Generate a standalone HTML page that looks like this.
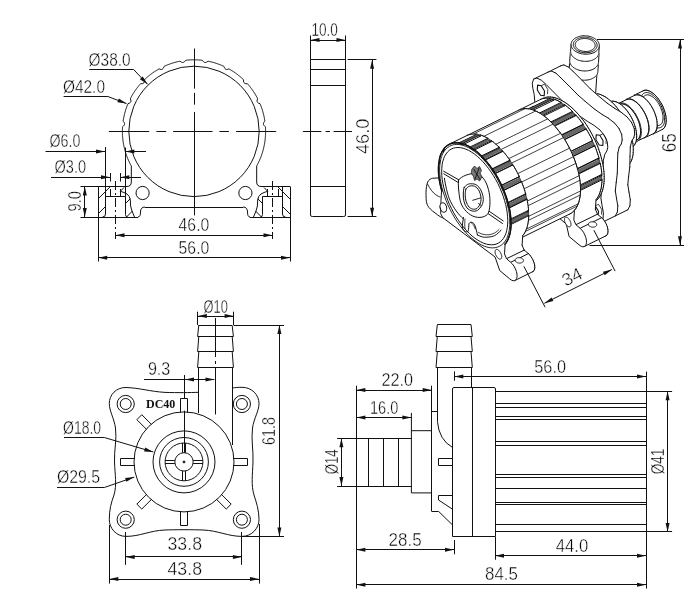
<!DOCTYPE html>
<html><head><meta charset="utf-8"><style>
html,body{margin:0;padding:0;background:#fff;}
svg{display:block;will-change:transform;}

</style></head><body>
<svg width="700" height="605" viewBox="0 0 700 605" stroke-linecap="butt">
<rect width="700" height="605" fill="#fff"/>
<circle cx="194" cy="131.4" r="65.2" stroke="#111" stroke-width="1.0" fill="none"/>
<path d="M131.32,166 L130.96,165.35 L130.61,164.69 L130.27,164.03 L129.93,163.37 L129.61,162.7 L129.28,162.03 L128.97,161.36 L128.66,160.68 L128.36,160 L128.07,159.32 L127.78,158.64 L127.5,157.95 L127.23,157.26 L126.97,156.56 L126.71,155.87 L126.46,155.17 L126.22,154.46 L125.98,153.76 L125.75,153.05 L125.53,152.34 L125.32,151.63 L125.11,150.92 L124.91,150.2 L124.72,149.48 L124.54,148.76 L124.36,148.04 L124.19,147.32 L124.03,146.59 L123.88,145.87 L123.73,145.14 L123.59,144.41 L123.46,143.68 L123.34,142.95 L123.22,142.21 L123.11,141.48 L123.01,140.74 L122.92,140 L122.83,139.27 L122.76,138.53 L122.69,137.79 L122.62,137.05 L122.57,136.31 L122.52,135.56 L122.48,134.82 L122.45,134.08 L122.43,133.34 L122.41,132.6 L122.4,131.85 L122.4,131.11 L122.41,130.37 L122.42,129.62 L122.44,128.88 L122.47,128.14 L122.51,127.4 L122.56,126.66 L123.47,125.98 L124.1,125.3 L124.47,124.6 L124.59,123.89 L124.47,123.14 L124.11,122.36 L123.42,121.53 L123.2,120.75 L123.31,120.01 L123.43,119.28 L123.56,118.55 L123.7,117.82 L123.84,117.09 L124,116.36 L124.16,115.64 L124.32,114.91 L124.5,114.19 L124.68,113.47 L124.87,112.75 L125.07,112.04 L125.27,111.32 L125.48,110.61 L125.7,109.9 L125.93,109.19 L126.16,108.49 L126.41,107.79 L126.65,107.09 L126.91,106.39 L127.17,105.69 L127.44,105 L127.72,104.31 L128.01,103.63 L129.12,103.3 L129.92,102.85 L130.49,102.31 L130.83,101.67 L130.95,100.93 L130.85,100.07 L130.45,99.04 L130.54,98.25 L130.88,97.59 L131.24,96.94 L131.6,96.29 L131.97,95.65 L132.34,95 L132.72,94.37 L133.11,93.73 L133.5,93.1 L133.9,92.48 L134.31,91.86 L134.72,91.24 L135.14,90.63 L135.57,90.02 L136,89.41 L136.44,88.81 L136.89,88.22 L137.34,87.63 L137.79,87.04 L138.26,86.46 L138.73,85.89 L139.2,85.32 L139.68,84.75 L140.17,84.19 L140.66,83.63 L141.84,83.7 L142.74,83.54 L143.44,83.2 L143.97,82.7 L144.32,82.03 L144.5,81.18 L144.43,80.06 L144.81,79.38 L145.35,78.87 L145.9,78.37 L146.45,77.87 L147.01,77.38 L147.57,76.89 L148.14,76.42 L148.71,75.94 L149.29,75.48 L149.87,75.01 L150.46,74.56 L151.05,74.11 L151.65,73.67 L152.25,73.23 L152.86,72.8 L153.47,72.38 L154.08,71.96 L154.7,71.55 L155.32,71.15 L155.95,70.75 L156.58,70.36 L157.22,69.97 L157.86,69.59 L158.5,69.22 L159.15,68.86 L160.25,69.33 L161.15,69.46 L161.92,69.36 L162.57,69.05 L163.12,68.52 L163.56,67.76 L163.85,66.65 L164.45,66.18 L165.13,65.88 L165.81,65.58 L166.5,65.29 L167.18,65.01 L167.87,64.74 L168.57,64.47 L169.26,64.21 L169.96,63.96 L170.66,63.71 L171.37,63.47 L172.07,63.24 L172.78,63.02 L173.49,62.8 L174.2,62.59 L174.92,62.39 L175.63,62.2 L176.35,62.01 L177.07,61.83 L177.8,61.66 L178.52,61.49 L179.25,61.34 L179.98,61.19 L180.84,61.78 L181.67,62.25 L182.45,62.47 L183.18,62.44 L183.87,62.17 L184.54,61.66 L185.17,60.85 L185.85,60.27 L186.58,60.19 L187.32,60.11 L188.06,60.05 L188.8,59.99 L189.55,59.94 L190.29,59.9 L191.03,59.86 L191.77,59.83 L192.51,59.82 L193.26,59.8 L194,59.8 L194.74,59.8 L195.49,59.82 L196.23,59.83 L196.97,59.86 L197.71,59.9 L198.45,59.94 L199.2,59.99 L199.94,60.05 L200.68,60.11 L201.42,60.19 L202.15,60.27 L202.83,60.85 L203.46,61.66 L204.13,62.17 L204.82,62.44 L205.55,62.47 L206.33,62.25 L207.16,61.78 L208.02,61.19 L208.75,61.34 L209.48,61.49 L210.2,61.66 L210.93,61.83 L211.65,62.01 L212.37,62.2 L213.08,62.39 L213.8,62.59 L214.51,62.8 L215.22,63.02 L215.93,63.24 L216.63,63.47 L217.34,63.71 L218.04,63.96 L218.74,64.21 L219.43,64.47 L220.13,64.74 L220.82,65.01 L221.5,65.29 L222.19,65.58 L222.87,65.88 L223.55,66.18 L224.15,66.65 L224.44,67.76 L224.88,68.52 L225.43,69.05 L226.08,69.36 L226.85,69.46 L227.75,69.33 L228.85,68.86 L229.5,69.22 L230.14,69.59 L230.78,69.97 L231.42,70.36 L232.05,70.75 L232.68,71.15 L233.3,71.55 L233.92,71.96 L234.53,72.38 L235.14,72.8 L235.75,73.23 L236.35,73.67 L236.95,74.11 L237.54,74.56 L238.13,75.01 L238.71,75.48 L239.29,75.94 L239.86,76.42 L240.43,76.89 L240.99,77.38 L241.55,77.87 L242.1,78.37 L242.65,78.87 L243.19,79.38 L243.57,80.06 L243.5,81.18 L243.68,82.03 L244.03,82.7 L244.56,83.2 L245.26,83.54 L246.16,83.7 L247.34,83.63 L247.83,84.19 L248.32,84.75 L248.8,85.32 L249.27,85.89 L249.74,86.46 L250.21,87.04 L250.66,87.63 L251.11,88.22 L251.56,88.81 L252,89.41 L252.43,90.02 L252.86,90.63 L253.28,91.24 L253.69,91.86 L254.1,92.48 L254.5,93.1 L254.89,93.73 L255.28,94.37 L255.66,95 L256.03,95.65 L256.4,96.29 L256.76,96.94 L257.12,97.59 L257.46,98.25 L257.55,99.04 L257.15,100.07 L257.05,100.93 L257.17,101.67 L257.51,102.31 L258.08,102.85 L258.88,103.3 L259.99,103.63 L260.28,104.31 L260.56,105 L260.83,105.69 L261.09,106.39 L261.35,107.09 L261.59,107.79 L261.84,108.49 L262.07,109.19 L262.3,109.9 L262.52,110.61 L262.73,111.32 L262.93,112.04 L263.13,112.75 L263.32,113.47 L263.5,114.19 L263.68,114.91 L263.84,115.64 L264,116.36 L264.16,117.09 L264.3,117.82 L264.44,118.55 L264.57,119.28 L264.69,120.01 L264.8,120.75 L264.58,121.53 L263.89,122.36 L263.53,123.14 L263.41,123.89 L263.53,124.6 L263.9,125.3 L264.53,125.98 L265.44,126.66 L265.49,127.4 L265.53,128.14 L265.56,128.88 L265.58,129.62 L265.59,130.37 L265.6,131.11 L265.6,131.85 L265.59,132.6 L265.57,133.34 L265.55,134.08 L265.52,134.82 L265.48,135.56 L265.43,136.31 L265.38,137.05 L265.31,137.79 L265.24,138.53 L265.17,139.27 L265.08,140 L264.99,140.74 L264.89,141.48 L264.78,142.21 L264.66,142.95 L264.54,143.68 L264.41,144.41 L264.27,145.14 L264.12,145.87 L263.97,146.59 L263.81,147.32 L263.64,148.04 L263.46,148.76 L263.28,149.48 L263.09,150.2 L262.89,150.92 L262.68,151.63 L262.47,152.34 L262.25,153.05 L262.02,153.76 L261.78,154.46 L261.54,155.17 L261.29,155.87 L261.03,156.56 L260.77,157.26 L260.5,157.95 L260.22,158.64 L259.93,159.32 L259.64,160 L259.34,160.68 L259.03,161.36 L258.72,162.03 L258.39,162.7 L258.07,163.37 L257.73,164.03 L257.39,164.69 L257.04,165.35 L256.68,166" stroke="#111" stroke-width="1.0" fill="none"/>
<path d="M131.32,166 L131.32,182 Q131.32,186.5 126.82,186.5" stroke="#111" stroke-width="1.0" fill="none" />
<path d="M256.68,166 L256.68,182 Q256.68,186.5 261.18,186.5" stroke="#111" stroke-width="1.0" fill="none" />
<line x1="194.5" y1="48.5" x2="194.5" y2="88.6" stroke="#111" stroke-width="1.0" />
<line x1="194.5" y1="92.9" x2="194.5" y2="104.7" stroke="#111" stroke-width="1.0" />
<line x1="194.5" y1="112" x2="194.5" y2="215.4" stroke="#111" stroke-width="1.0" />
<line x1="108.9" y1="131.5" x2="149.2" y2="131.5" stroke="#111" stroke-width="1.0" />
<line x1="156.4" y1="131.5" x2="166.2" y2="131.5" stroke="#111" stroke-width="1.0" />
<line x1="173.1" y1="131.5" x2="212.5" y2="131.5" stroke="#111" stroke-width="1.0" />
<line x1="219.4" y1="131.5" x2="228.9" y2="131.5" stroke="#111" stroke-width="1.0" />
<line x1="236.1" y1="131.5" x2="276.2" y2="131.5" stroke="#111" stroke-width="1.0" />
<circle cx="142.6" cy="193" r="6.6" stroke="#111" stroke-width="1.0" fill="none"/>
<circle cx="245.4" cy="193" r="6.6" stroke="#111" stroke-width="1.0" fill="none"/>
<line x1="145" y1="207.5" x2="243" y2="207.5" stroke="#111" stroke-width="1.0" />
<line x1="98.5" y1="186.5" x2="98.5" y2="217" stroke="#111" stroke-width="1.0" />
<line x1="98" y1="186.5" x2="127" y2="186.5" stroke="#111" stroke-width="1.0" />
<line x1="98" y1="217.5" x2="138" y2="217.5" stroke="#111" stroke-width="1.0" />
<path d="M138,217 Q140.5,217 140.5,212 Q140.5,207 145,207" stroke="#111" stroke-width="1.0" fill="none" />
<path d="M121,191.5 L124,192.5 L127,194 L129.3,196.5 L130.3,200 L130.6,206 L132,211 L134.5,217" stroke="#111" stroke-width="1.0" fill="none"/>
<line x1="105" y1="196.5" x2="125.5" y2="196.5" stroke="#111" stroke-width="1.0" />
<path d="M105.5,147 L105.5,214 Q105.5,217 102.5,217" stroke="#111" stroke-width="1.0" fill="none" />
<path d="M125.5,196.5 L125.5,214.5 Q125.5,217 127.5,217" stroke="#111" stroke-width="1.0" fill="none" />
<line x1="110.5" y1="189" x2="110.5" y2="196.5" stroke="#111" stroke-width="1.0" />
<line x1="120.5" y1="189" x2="120.5" y2="196.5" stroke="#111" stroke-width="1.0" />
<line x1="98" y1="199" x2="110" y2="187" stroke="#111" stroke-width="1.0" />
<line x1="98" y1="214" x2="105" y2="207" stroke="#111" stroke-width="1.0" />
<line x1="126" y1="203" x2="130.3" y2="198.7" stroke="#111" stroke-width="1.0" />
<line x1="126.5" y1="217" x2="132.5" y2="211" stroke="#111" stroke-width="1.0" />
<line x1="120.3" y1="191.3" x2="124" y2="187.5" stroke="#111" stroke-width="1.0" />
<line x1="115.5" y1="181" x2="115.5" y2="239" stroke="#111" stroke-width="1" stroke-dasharray="9,3,2,3"/>
<line x1="290.5" y1="186.5" x2="290.5" y2="217" stroke="#111" stroke-width="1.0" />
<line x1="290" y1="186.5" x2="261" y2="186.5" stroke="#111" stroke-width="1.0" />
<line x1="290" y1="217.5" x2="250" y2="217.5" stroke="#111" stroke-width="1.0" />
<path d="M250,217 Q247.5,217 247.5,212 Q247.5,207 243,207" stroke="#111" stroke-width="1.0" fill="none" />
<path d="M267,191.5 L264,192.5 L261,194 L258.7,196.5 L257.7,200 L257.4,206 L256,211 L253.5,217" stroke="#111" stroke-width="1.0" fill="none"/>
<line x1="283" y1="196.5" x2="262.5" y2="196.5" stroke="#111" stroke-width="1.0" />
<path d="M282.5,186.5 L282.5,214 Q282.5,217 285.5,217" stroke="#111" stroke-width="1.0" fill="none" />
<path d="M262.5,196.5 L262.5,214.5 Q262.5,217 260.5,217" stroke="#111" stroke-width="1.0" fill="none" />
<line x1="278.5" y1="189" x2="278.5" y2="196.5" stroke="#111" stroke-width="1.0" />
<line x1="267.5" y1="189" x2="267.5" y2="196.5" stroke="#111" stroke-width="1.0" />
<line x1="290" y1="199" x2="278" y2="187" stroke="#111" stroke-width="1.0" />
<line x1="290" y1="214" x2="283" y2="207" stroke="#111" stroke-width="1.0" />
<line x1="262" y1="203" x2="257.7" y2="198.7" stroke="#111" stroke-width="1.0" />
<line x1="261.5" y1="217" x2="255.5" y2="211" stroke="#111" stroke-width="1.0" />
<line x1="267.7" y1="191.3" x2="264" y2="187.5" stroke="#111" stroke-width="1.0" />
<line x1="272.5" y1="181" x2="272.5" y2="239" stroke="#111" stroke-width="1" stroke-dasharray="9,3,2,3"/>
<text x="88.6" y="66" font-family='"Liberation Sans", sans-serif' font-size="17.5" font-weight="normal" fill="#000" textLength="42.1" lengthAdjust="spacingAndGlyphs" stroke="#fff" stroke-width="0.4">Ø38.0</text>
<path d="M89.3,69.5 L133.6,69.5 L147.6,84.3" stroke="#111" stroke-width="1.0" fill="none"/>
<path d="M147.6,84.3 L142.76,76.45 L139.89,79.24 Z" fill="#111"/>
<text x="62.9" y="92.6" font-family='"Liberation Sans", sans-serif' font-size="17.5" font-weight="normal" fill="#000" textLength="42.1" lengthAdjust="spacingAndGlyphs" stroke="#fff" stroke-width="0.4">Ø42.0</text>
<path d="M63.6,96.5 L107.9,96.5 L126.5,103.6" stroke="#111" stroke-width="1.0" fill="none"/>
<path d="M126.5,103.6 L118.83,98.49 L117.38,102.22 Z" fill="#111"/>
<text x="49.5" y="147" font-family='"Liberation Sans", sans-serif' font-size="17.5" font-weight="normal" fill="#000" textLength="31" lengthAdjust="spacingAndGlyphs" stroke="#fff" stroke-width="0.4">Ø6.0</text>
<line x1="45.5" y1="151.5" x2="105" y2="151.5" stroke="#111" stroke-width="1.0" />
<path d="M105,151.6 L96,149.6 L96,153.6 Z" fill="#111"/>
<line x1="125.3" y1="151.5" x2="146" y2="151.5" stroke="#111" stroke-width="1.0" />
<path d="M125.3,151.6 L134.3,153.6 L134.3,149.6 Z" fill="#111"/>
<line x1="125.5" y1="147.5" x2="125.5" y2="196.5" stroke="#111" stroke-width="1.0" />
<text x="54.5" y="173" font-family='"Liberation Sans", sans-serif' font-size="17.5" font-weight="normal" fill="#000" textLength="31.5" lengthAdjust="spacingAndGlyphs" stroke="#fff" stroke-width="0.4">Ø3.0</text>
<line x1="51" y1="177.5" x2="110" y2="177.5" stroke="#111" stroke-width="1.0" />
<path d="M110,177.3 L101,175.3 L101,179.3 Z" fill="#111"/>
<line x1="120.3" y1="177.5" x2="141" y2="177.5" stroke="#111" stroke-width="1.0" />
<path d="M120.3,177.3 L129.3,179.3 L129.3,175.3 Z" fill="#111"/>
<line x1="110.5" y1="173" x2="110.5" y2="181.5" stroke="#111" stroke-width="1.0" />
<line x1="120.5" y1="173" x2="120.5" y2="181.5" stroke="#111" stroke-width="1.0" />
<line x1="80.5" y1="186.5" x2="98" y2="186.5" stroke="#111" stroke-width="1.0" />
<line x1="80.5" y1="217.5" x2="98" y2="217.5" stroke="#111" stroke-width="1.0" />
<line x1="84.5" y1="186.5" x2="84.5" y2="217" stroke="#111" stroke-width="1.0" />
<path d="M84.8,186.5 L82.8,195.5 L86.8,195.5 Z" fill="#111"/>
<path d="M84.8,217 L86.8,208 L82.8,208 Z" fill="#111"/>
<text transform="translate(80.5,211.5) rotate(-90)" x="0" y="0" font-family='"Liberation Sans", sans-serif' font-size="17.5" font-weight="normal" fill="#000" textLength="20.5" lengthAdjust="spacingAndGlyphs" stroke="#fff" stroke-width="0.4">9.0</text>
<line x1="115.5" y1="235.5" x2="272.5" y2="235.5" stroke="#111" stroke-width="1.0" />
<path d="M115.5,235.3 L124.5,237.3 L124.5,233.3 Z" fill="#111"/>
<path d="M272.5,235.3 L263.5,233.3 L263.5,237.3 Z" fill="#111"/>
<text x="178.6" y="231.1" font-family='"Liberation Sans", sans-serif' font-size="17.5" font-weight="normal" fill="#000" textLength="30.7" lengthAdjust="spacingAndGlyphs" stroke="#fff" stroke-width="0.4">46.0</text>
<line x1="98.5" y1="217" x2="98.5" y2="261.5" stroke="#111" stroke-width="1.0" />
<line x1="290.5" y1="217" x2="290.5" y2="261.5" stroke="#111" stroke-width="1.0" />
<line x1="98.2" y1="257.5" x2="290" y2="257.5" stroke="#111" stroke-width="1.0" />
<path d="M98.2,257.8 L107.2,259.8 L107.2,255.8 Z" fill="#111"/>
<path d="M290,257.8 L281,255.8 L281,259.8 Z" fill="#111"/>
<text x="178.6" y="253.9" font-family='"Liberation Sans", sans-serif' font-size="17.5" font-weight="normal" fill="#000" textLength="30.7" lengthAdjust="spacingAndGlyphs" stroke="#fff" stroke-width="0.4">56.0</text>
<path d="M310.5,59.5 L345.5,59.5 L345.5,215 Q345.5,216.5 343.7,216.5 L312.3,216.5 Q310.5,216.5 310.5,215 Z" stroke="#111" stroke-width="1.0" fill="none" />
<line x1="310.5" y1="69.5" x2="345.5" y2="69.5" stroke="#111" stroke-width="1.0" />
<line x1="310.5" y1="85.5" x2="345.5" y2="85.5" stroke="#111" stroke-width="1.0" />
<line x1="310.5" y1="186.5" x2="345.5" y2="186.5" stroke="#111" stroke-width="1.0" />
<line x1="310.5" y1="35.5" x2="310.5" y2="59.7" stroke="#111" stroke-width="1.0" />
<line x1="345.5" y1="35.5" x2="345.5" y2="59.7" stroke="#111" stroke-width="1.0" />
<line x1="310.5" y1="40.5" x2="345.5" y2="40.5" stroke="#111" stroke-width="1.0" />
<path d="M310.5,40 L319.5,42 L319.5,38 Z" fill="#111"/>
<path d="M345.5,40 L336.5,38 L336.5,42 Z" fill="#111"/>
<text x="311.4" y="35.7" font-family='"Liberation Sans", sans-serif' font-size="17.5" font-weight="normal" fill="#000" textLength="26.5" lengthAdjust="spacingAndGlyphs" stroke="#fff" stroke-width="0.4">10.0</text>
<line x1="302.9" y1="131.5" x2="321.4" y2="131.5" stroke="#111" stroke-width="1.0" />
<line x1="325.7" y1="131.5" x2="330" y2="131.5" stroke="#111" stroke-width="1.0" />
<line x1="333.6" y1="131.5" x2="352" y2="131.5" stroke="#111" stroke-width="1.0" />
<line x1="347.6" y1="59.5" x2="376.4" y2="59.5" stroke="#111" stroke-width="1.0" />
<line x1="347.6" y1="216.5" x2="376.4" y2="216.5" stroke="#111" stroke-width="1.0" />
<line x1="372.5" y1="59.7" x2="372.5" y2="216.8" stroke="#111" stroke-width="1.0" />
<path d="M372.1,59.7 L370.1,68.7 L374.1,68.7 Z" fill="#111"/>
<path d="M372.1,216.8 L374.1,207.8 L370.1,207.8 Z" fill="#111"/>
<text transform="translate(368.6,154) rotate(-90)" x="0" y="0" font-family='"Liberation Sans", sans-serif' font-size="17.5" font-weight="normal" fill="#000" textLength="35.4" lengthAdjust="spacingAndGlyphs" stroke="#fff" stroke-width="0.4">46.0</text>
<path d="M198.5,392.3 C190,392.6 178,392.8 165,392.4 C150,391.5 140,388 126,387.5 C116,387.3 109.3,395 109.3,403.5 C109.3,411 114,418 115.5,428 C117,440 114,450 114.5,462 C115,475 117,485 114,495 C111,503 109.3,510 109.3,519.7 C109.3,528 116,536.4 126,536.4 C140,536.4 150,530.5 165,530 C175,529.6 193,529.6 203,530 C218,530.5 228,536.4 242,536.4 C252,536.4 259,528 259,519.7 C259,510 256.5,503 254,495 C251,485 252.5,475 253,462 C253.5,450 251,440 252.5,428 C254,418 259,411 259,403.5 C259,395 252,387.3 242,387.3 C238,387.3 235,387.5 232.5,388" stroke="#111" stroke-width="1.0" fill="none" />
<circle cx="125.7" cy="404" r="8.6" stroke="#111" stroke-width="1.0" fill="none"/>
<circle cx="125.7" cy="404" r="5.5" stroke="#111" stroke-width="1.0" fill="none"/>
<circle cx="241.9" cy="404" r="8.6" stroke="#111" stroke-width="1.0" fill="none"/>
<circle cx="241.9" cy="404" r="5.5" stroke="#111" stroke-width="1.0" fill="none"/>
<circle cx="125.7" cy="519.7" r="8.6" stroke="#111" stroke-width="1.0" fill="none"/>
<circle cx="125.7" cy="519.7" r="5.5" stroke="#111" stroke-width="1.0" fill="none"/>
<circle cx="241.9" cy="519.7" r="8.6" stroke="#111" stroke-width="1.0" fill="none"/>
<circle cx="241.9" cy="519.7" r="5.5" stroke="#111" stroke-width="1.0" fill="none"/>
<circle cx="184" cy="461.9" r="50" stroke="#111" stroke-width="1.0" fill="none"/>
<circle cx="184" cy="461.9" r="31" stroke="#111" stroke-width="1.0" fill="none"/>
<circle cx="184" cy="461.9" r="24.4" stroke="#111" stroke-width="1.0" fill="none"/>
<circle cx="184" cy="461.9" r="18.9" stroke="#111" stroke-width="1.0" fill="none"/>
<circle cx="184" cy="461.9" r="9.2" stroke="#111" stroke-width="1.0" fill="none"/>
<circle cx="184" cy="461.9" r="1" stroke="#111" stroke-width="0.8" fill="#111"/>
<line x1="193.2" y1="460.5" x2="202.9" y2="460.5" stroke="#111" stroke-width="1.0" />
<line x1="193.2" y1="463.5" x2="202.9" y2="463.5" stroke="#111" stroke-width="1.0" />
<line x1="185.5" y1="471.1" x2="185.5" y2="480.8" stroke="#111" stroke-width="1.0" />
<line x1="182.5" y1="471.1" x2="182.5" y2="480.8" stroke="#111" stroke-width="1.0" />
<line x1="174.8" y1="463.5" x2="165.1" y2="463.5" stroke="#111" stroke-width="1.0" />
<line x1="174.8" y1="460.5" x2="165.1" y2="460.5" stroke="#111" stroke-width="1.0" />
<line x1="182.5" y1="452.7" x2="182.5" y2="443" stroke="#111" stroke-width="1.0" />
<line x1="185.5" y1="452.7" x2="185.5" y2="443" stroke="#111" stroke-width="1.0" />
<path d="M187.5,412.4 L187.5,398.5 L180.5,398.5 L180.5,412.4" stroke="#111" stroke-width="1.0" fill="none"/>
<path d="M151.47,424.42 L141.79,414.74 L136.84,419.69 L146.52,429.37" stroke="#111" stroke-width="1.0" fill="none"/>
<path d="M134.5,458.5 L120.5,458.5 L120.5,465.5 L134.5,465.5" stroke="#111" stroke-width="1.0" fill="none"/>
<path d="M146.52,494.43 L136.84,504.11 L141.79,509.06 L151.47,499.38" stroke="#111" stroke-width="1.0" fill="none"/>
<path d="M180.5,511.4 L180.5,525.5 L187.5,525.5 L187.5,511.4" stroke="#111" stroke-width="1.0" fill="none"/>
<path d="M216.53,499.38 L226.21,509.06 L231.16,504.11 L221.48,494.43" stroke="#111" stroke-width="1.0" fill="none"/>
<path d="M233.5,465.5 L247.5,465.5 L247.5,458.5 L233.5,458.5" stroke="#111" stroke-width="1.0" fill="none"/>
<path d="M198.5,413 L198.5,367.1 M232.5,445 L232.5,367.1" stroke="#111" stroke-width="1.0" fill="none" />
<path d="M198.8,325 L197.6,336.5 L233.4,336.5 L232.2,325.5 L198.8,325.5" stroke="#111" stroke-width="1.0" fill="none"/>
<path d="M198.8,336.4 L197.6,351.5 L233.4,351.5 L232.2,336.5 L198.8,336.5" stroke="#111" stroke-width="1.0" fill="none"/>
<path d="M198.8,351.9 L197.6,367.5 L233.4,367.5 L232.2,351.5 L198.8,351.5" stroke="#111" stroke-width="1.0" fill="none"/>
<line x1="215.5" y1="318" x2="215.5" y2="357" stroke="#111" stroke-width="1.0" />
<line x1="215.5" y1="361" x2="215.5" y2="364" stroke="#111" stroke-width="1.0" />
<line x1="215.5" y1="368" x2="215.5" y2="414.5" stroke="#111" stroke-width="1.0" />
<line x1="184.5" y1="375" x2="184.5" y2="398.6" stroke="#111" stroke-width="1.0" />
<line x1="184.5" y1="410.7" x2="184.5" y2="452.7" stroke="#111" stroke-width="1.0" />
<text x="146" y="408.1" font-family='"Liberation Serif", serif' font-size="11.8" font-weight="bold" fill="#111" textLength="29.3" lengthAdjust="spacingAndGlyphs">DC40</text>
<text x="203.6" y="312.6" font-family='"Liberation Sans", sans-serif' font-size="17.5" font-weight="normal" fill="#000" textLength="24.3" lengthAdjust="spacingAndGlyphs" stroke="#fff" stroke-width="0.4">Ø10</text>
<line x1="197.5" y1="311.7" x2="197.5" y2="325" stroke="#111" stroke-width="1.0" />
<line x1="233.5" y1="311.7" x2="233.5" y2="325" stroke="#111" stroke-width="1.0" />
<line x1="197.9" y1="316.5" x2="233.6" y2="316.5" stroke="#111" stroke-width="1.0" />
<path d="M197.9,316.1 L206.9,318.1 L206.9,314.1 Z" fill="#111"/>
<path d="M233.6,316.1 L224.6,314.1 L224.6,318.1 Z" fill="#111"/>
<line x1="233.6" y1="325.5" x2="284" y2="325.5" stroke="#111" stroke-width="1.0" />
<line x1="242" y1="536.5" x2="284" y2="536.5" stroke="#111" stroke-width="1.0" />
<line x1="279.5" y1="325" x2="279.5" y2="536.4" stroke="#111" stroke-width="1.0" />
<path d="M279.4,325 L277.4,334 L281.4,334 Z" fill="#111"/>
<path d="M279.4,536.4 L281.4,527.4 L277.4,527.4 Z" fill="#111"/>
<text transform="translate(275.4,445) rotate(-90)" x="0" y="0" font-family='"Liberation Sans", sans-serif' font-size="17.5" font-weight="normal" fill="#000" textLength="28" lengthAdjust="spacingAndGlyphs" stroke="#fff" stroke-width="0.4">61.8</text>
<text x="147.9" y="375.4" font-family='"Liberation Sans", sans-serif' font-size="17.5" font-weight="normal" fill="#000" textLength="22.4" lengthAdjust="spacingAndGlyphs" stroke="#fff" stroke-width="0.4">9.3</text>
<line x1="144" y1="379.5" x2="214.3" y2="379.5" stroke="#111" stroke-width="1.0" />
<path d="M185,379.6 L194,381.6 L194,377.6 Z" fill="#111"/>
<path d="M214.5,379.6 L205.5,377.6 L205.5,381.6 Z" fill="#111"/>
<text x="63.1" y="433.9" font-family='"Liberation Sans", sans-serif' font-size="17.5" font-weight="normal" fill="#000" textLength="38" lengthAdjust="spacingAndGlyphs" stroke="#fff" stroke-width="0.4">Ø18.0</text>
<path d="M64,437.5 L104.3,437.5 L153.3,452" stroke="#111" stroke-width="1.0" fill="none"/>
<path d="M153.3,452 L145.23,447.54 L144.1,451.38 Z" fill="#111"/>
<text x="56.9" y="483" font-family='"Liberation Sans", sans-serif' font-size="17.5" font-weight="normal" fill="#000" textLength="43.2" lengthAdjust="spacingAndGlyphs" stroke="#fff" stroke-width="0.4">Ø29.5</text>
<path d="M57.1,487.5 L104.3,487.5 L134.3,477.1" stroke="#111" stroke-width="1.0" fill="none"/>
<path d="M134.3,477.1 L125.13,478.05 L126.39,481.84 Z" fill="#111"/>
<line x1="125.5" y1="532" x2="125.5" y2="564.9" stroke="#111" stroke-width="1.0" />
<line x1="241.5" y1="532" x2="241.5" y2="564.9" stroke="#111" stroke-width="1.0" />
<line x1="125.7" y1="556.5" x2="241.9" y2="556.5" stroke="#111" stroke-width="1.0" />
<path d="M125.7,556.9 L134.7,558.9 L134.7,554.9 Z" fill="#111"/>
<path d="M241.9,556.9 L232.9,554.9 L232.9,558.9 Z" fill="#111"/>
<text x="167.5" y="549.6" font-family='"Liberation Sans", sans-serif' font-size="17.5" font-weight="normal" fill="#000" textLength="34.5" lengthAdjust="spacingAndGlyphs" stroke="#fff" stroke-width="0.4">33.8</text>
<line x1="109.5" y1="525" x2="109.5" y2="583.6" stroke="#111" stroke-width="1.0" />
<line x1="259.5" y1="524" x2="259.5" y2="583.6" stroke="#111" stroke-width="1.0" />
<line x1="109.3" y1="579.5" x2="259" y2="579.5" stroke="#111" stroke-width="1.0" />
<path d="M109.3,579 L118.3,581 L118.3,577 Z" fill="#111"/>
<path d="M259,579 L250,577 L250,581 Z" fill="#111"/>
<text x="167.5" y="575.4" font-family='"Liberation Sans", sans-serif' font-size="17.5" font-weight="normal" fill="#000" textLength="34.5" lengthAdjust="spacingAndGlyphs" stroke="#fff" stroke-width="0.4">43.8</text>
<path d="M437.3,324.7 L436,336.5 L472.3,336.5 L471,324.5 L437.3,324.5" stroke="#111" stroke-width="1.0" fill="none"/>
<path d="M437.3,336.4 L436,351.5 L472.3,351.5 L471,336.5 L437.3,336.5" stroke="#111" stroke-width="1.0" fill="none"/>
<path d="M437.3,351.9 L436,367.5 L472.3,367.5 L471,351.5 L437.3,351.5" stroke="#111" stroke-width="1.0" fill="none"/>
<line x1="437.5" y1="367.1" x2="437.5" y2="421.4" stroke="#111" stroke-width="1.0" />
<line x1="471.5" y1="367.1" x2="471.5" y2="387.1" stroke="#111" stroke-width="1.0" />
<path d="M437.4,421.4 Q439,440 452.6,447.5" stroke="#111" stroke-width="1.0" fill="none" />
<line x1="431.7" y1="411.5" x2="437.4" y2="411.5" stroke="#111" stroke-width="1.0" />
<line x1="431.5" y1="385.7" x2="431.5" y2="511.4" stroke="#111" stroke-width="1.0" />
<line x1="431.7" y1="511.5" x2="438.6" y2="511.5" stroke="#111" stroke-width="1.0" />
<path d="M452.6,458.5 L438.5,458.5 L438.5,465.5 L452.6,465.5" stroke="#111" stroke-width="1.0" fill="none"/>
<path d="M452.6,495.5 L438.5,495.5 L438.5,500 L452.6,509.3" stroke="#111" stroke-width="1.0" fill="none"/>
<line x1="438.6" y1="511.4" x2="452.6" y2="525" stroke="#111" stroke-width="1.0" />
<path d="M452.5,536.5 L452.5,389 Q452.5,387.5 454,387.5 L494,387.5 Q495.5,387.5 495.5,389 L495.5,536.5 Z" stroke="#111" stroke-width="1.0" fill="none" />
<line x1="472.5" y1="387.1" x2="472.5" y2="536.9" stroke="#111" stroke-width="1.0" />
<line x1="495" y1="391.5" x2="646" y2="391.5" stroke="#111" stroke-width="1.0" />
<line x1="495" y1="531.5" x2="646" y2="531.5" stroke="#111" stroke-width="1.0" />
<line x1="646.5" y1="371.7" x2="646.5" y2="588.6" stroke="#111" stroke-width="1.0" />
<line x1="495" y1="403.5" x2="646" y2="403.5" stroke="#111" stroke-width="1.0" />
<line x1="495" y1="407.5" x2="646" y2="407.5" stroke="#111" stroke-width="1.0" />
<line x1="495" y1="416.5" x2="646" y2="416.5" stroke="#111" stroke-width="1.0" />
<line x1="495" y1="419.5" x2="646" y2="419.5" stroke="#111" stroke-width="1.0" />
<line x1="495" y1="441.5" x2="646" y2="441.5" stroke="#111" stroke-width="1.0" />
<line x1="495" y1="445.5" x2="646" y2="445.5" stroke="#111" stroke-width="1.0" />
<line x1="495" y1="474.5" x2="646" y2="474.5" stroke="#111" stroke-width="1.0" />
<line x1="495" y1="477.5" x2="646" y2="477.5" stroke="#111" stroke-width="1.0" />
<line x1="495" y1="488.5" x2="646" y2="488.5" stroke="#111" stroke-width="1.0" />
<line x1="495" y1="502.5" x2="646" y2="502.5" stroke="#111" stroke-width="1.0" />
<line x1="495" y1="504.5" x2="646" y2="504.5" stroke="#111" stroke-width="1.0" />
<line x1="495" y1="524.5" x2="646" y2="524.5" stroke="#111" stroke-width="1.1" />
<path d="M411.4,430.7 L431.7,430.7 M411.4,492.9 L431.7,492.9 M411.4,412.9 L411.4,492.9" stroke="#111" stroke-width="1.0" fill="none" />
<line x1="356.4" y1="438.5" x2="411.4" y2="438.5" stroke="#111" stroke-width="1.0" />
<line x1="356.4" y1="486.5" x2="411.4" y2="486.5" stroke="#111" stroke-width="1.0" />
<line x1="368.5" y1="438.3" x2="368.5" y2="486" stroke="#111" stroke-width="1.0" />
<line x1="383.5" y1="438.3" x2="383.5" y2="486" stroke="#111" stroke-width="1.0" />
<line x1="398.5" y1="438.3" x2="398.5" y2="486" stroke="#111" stroke-width="1.0" />
<line x1="356.5" y1="385.7" x2="356.5" y2="588.6" stroke="#111" stroke-width="1.0" />
<line x1="337.1" y1="438.5" x2="356.4" y2="438.5" stroke="#111" stroke-width="1.0" />
<line x1="337.1" y1="486.5" x2="356.4" y2="486.5" stroke="#111" stroke-width="1.0" />
<line x1="341.5" y1="438.3" x2="341.5" y2="486" stroke="#111" stroke-width="1.0" />
<path d="M341.4,438.3 L339.4,447.3 L343.4,447.3 Z" fill="#111"/>
<path d="M341.4,486 L343.4,477 L339.4,477 Z" fill="#111"/>
<text transform="translate(337.9,474.3) rotate(-90)" x="0" y="0" font-family='"Liberation Sans", sans-serif' font-size="17.5" font-weight="normal" fill="#000" textLength="25" lengthAdjust="spacingAndGlyphs" stroke="#fff" stroke-width="0.4">Ø14</text>
<line x1="356.4" y1="390.5" x2="431.7" y2="390.5" stroke="#111" stroke-width="1.0" />
<path d="M356.4,390 L365.4,392 L365.4,388 Z" fill="#111"/>
<path d="M431.7,390 L422.7,388 L422.7,392 Z" fill="#111"/>
<text x="381.4" y="386.4" font-family='"Liberation Sans", sans-serif' font-size="17.5" font-weight="normal" fill="#000" textLength="31.5" lengthAdjust="spacingAndGlyphs" stroke="#fff" stroke-width="0.4">22.0</text>
<line x1="356.4" y1="417.5" x2="411.4" y2="417.5" stroke="#111" stroke-width="1.0" />
<path d="M356.4,417.4 L365.4,419.4 L365.4,415.4 Z" fill="#111"/>
<path d="M411.4,417.4 L402.4,415.4 L402.4,419.4 Z" fill="#111"/>
<text x="370" y="413.6" font-family='"Liberation Sans", sans-serif' font-size="17.5" font-weight="normal" fill="#000" textLength="28.3" lengthAdjust="spacingAndGlyphs" stroke="#fff" stroke-width="0.4">16.0</text>
<line x1="454.5" y1="371.4" x2="454.5" y2="380.7" stroke="#111" stroke-width="1.0" />
<line x1="454.3" y1="376.5" x2="646" y2="376.5" stroke="#111" stroke-width="1.0" />
<path d="M454.3,376.4 L463.3,378.4 L463.3,374.4 Z" fill="#111"/>
<path d="M646,376.4 L637,374.4 L637,378.4 Z" fill="#111"/>
<text x="534.3" y="372.6" font-family='"Liberation Sans", sans-serif' font-size="17.5" font-weight="normal" fill="#000" textLength="31.7" lengthAdjust="spacingAndGlyphs" stroke="#fff" stroke-width="0.4">56.0</text>
<line x1="646" y1="391.5" x2="672.1" y2="391.5" stroke="#111" stroke-width="1.0" />
<line x1="646" y1="531.5" x2="672.1" y2="531.5" stroke="#111" stroke-width="1.0" />
<line x1="667.5" y1="391.3" x2="667.5" y2="531.9" stroke="#111" stroke-width="1.0" />
<path d="M667.6,391.3 L665.6,400.3 L669.6,400.3 Z" fill="#111"/>
<path d="M667.6,531.9 L669.6,522.9 L665.6,522.9 Z" fill="#111"/>
<text transform="translate(664.3,474.3) rotate(-90)" x="0" y="0" font-family='"Liberation Sans", sans-serif' font-size="17.5" font-weight="normal" fill="#000" textLength="25.7" lengthAdjust="spacingAndGlyphs" stroke="#fff" stroke-width="0.4">Ø41</text>
<line x1="454.5" y1="540" x2="454.5" y2="554.3" stroke="#111" stroke-width="1.0" />
<line x1="356.4" y1="549.5" x2="454" y2="549.5" stroke="#111" stroke-width="1.0" />
<path d="M356.4,549.7 L365.4,551.7 L365.4,547.7 Z" fill="#111"/>
<path d="M454,549.7 L445,547.7 L445,551.7 Z" fill="#111"/>
<text x="388.6" y="545.7" font-family='"Liberation Sans", sans-serif' font-size="17.5" font-weight="normal" fill="#000" textLength="33.1" lengthAdjust="spacingAndGlyphs" stroke="#fff" stroke-width="0.4">28.5</text>
<line x1="495.5" y1="536.9" x2="495.5" y2="559.7" stroke="#111" stroke-width="1.0" />
<line x1="495" y1="555.5" x2="646" y2="555.5" stroke="#111" stroke-width="1.0" />
<path d="M495,555.8 L504,557.8 L504,553.8 Z" fill="#111"/>
<path d="M646,555.8 L637,553.8 L637,557.8 Z" fill="#111"/>
<text x="555.7" y="551.6" font-family='"Liberation Sans", sans-serif' font-size="17.5" font-weight="normal" fill="#000" textLength="32.5" lengthAdjust="spacingAndGlyphs" stroke="#fff" stroke-width="0.4">44.0</text>
<line x1="356.4" y1="584.5" x2="646" y2="584.5" stroke="#111" stroke-width="1.0" />
<path d="M356.4,584.7 L365.4,586.7 L365.4,582.7 Z" fill="#111"/>
<path d="M646,584.7 L637,582.7 L637,586.7 Z" fill="#111"/>
<text x="485" y="580.4" font-family='"Liberation Sans", sans-serif' font-size="17.5" font-weight="normal" fill="#000" textLength="32.9" lengthAdjust="spacingAndGlyphs" stroke="#fff" stroke-width="0.4">84.5</text>
<path d="M657.3,126.0 L657.4,124.5 L666.2,120.2 L666.2,121.7 Z M657.4,124.5 L657.3,123.0 L666.1,118.6 L666.2,120.2 Z M657.3,123.0 L657.1,121.4 L666.0,117.0 L666.1,118.6 Z M657.1,121.4 L656.9,119.7 L665.7,115.4 L666.0,117.0 Z M656.9,119.7 L656.5,118.0 L665.4,113.7 L665.7,115.4 Z M656.5,118.0 L656.1,116.3 L664.9,111.9 L665.4,113.7 Z M656.1,116.3 L655.5,114.5 L664.3,110.2 L664.9,111.9 Z M655.5,114.5 L654.9,112.8 L663.7,108.5 L664.3,110.2 Z M654.9,112.8 L654.1,111.1 L663.0,106.7 L663.7,108.5 Z M654.1,111.1 L653.3,109.4 L662.2,105.0 L663.0,106.7 Z M653.3,109.4 L652.4,107.7 L661.3,103.4 L662.2,105.0 Z M652.4,107.7 L651.5,106.1 L660.3,101.8 L661.3,103.4 Z M651.5,106.1 L650.5,104.5 L659.3,100.2 L660.3,101.8 Z M650.5,104.5 L649.4,103.1 L658.3,98.7 L659.3,100.2 Z M649.4,103.1 L648.3,101.7 L657.2,97.4 L658.3,98.7 Z M648.3,101.7 L647.2,100.4 L656.0,96.1 L657.2,97.4 Z M647.2,100.4 L646.0,99.2 L654.9,94.9 L656.0,96.1 Z M646.0,99.2 L644.9,98.2 L653.7,93.8 L654.9,94.9 Z M644.9,98.2 L643.7,97.2 L652.5,92.9 L653.7,93.8 Z M643.7,97.2 L642.5,96.4 L651.3,92.1 L652.5,92.9 Z M642.5,96.4 L641.3,95.7 L650.2,91.4 L651.3,92.1 Z M641.3,95.7 L640.2,95.2 L649.0,90.9 L650.2,91.4 Z M640.2,95.2 L639.1,94.8 L647.9,90.5 L649.0,90.9 Z M639.1,94.8 L638.0,94.6 L646.8,90.3 L647.9,90.5 Z M638.0,94.6 L636.9,94.5 L645.8,90.2 L646.8,90.3 Z M636.9,94.5 L635.9,94.6 L644.8,90.3 L645.8,90.2 Z M635.9,94.6 L635.0,94.8 L643.8,90.5 L644.8,90.3 Z M635.0,94.8 L634.1,95.2 L643.0,90.9 L643.8,90.5 Z M653.5,133.8 L654.3,133.3 L663.1,129.0 L662.3,129.5 Z M654.3,133.3 L655.0,132.6 L663.8,128.3 L663.1,129.0 Z M655.0,132.6 L655.6,131.8 L664.5,127.5 L663.8,128.3 Z M655.6,131.8 L656.2,130.9 L665.0,126.6 L664.5,127.5 Z M656.2,130.9 L656.6,129.8 L665.4,125.5 L665.0,126.6 Z M656.6,129.8 L656.9,128.7 L665.8,124.3 L665.4,125.5 Z M656.9,128.7 L657.2,127.4 L666.0,123.0 L665.8,124.3 Z M657.2,127.4 L657.3,126.0 L666.2,121.7 L666.0,123.0 Z " fill="#fff" stroke="#fff" stroke-width="0.6"/>
<path d="M666.2,121.7 L666.2,120.2 M666.2,120.2 L666.1,118.6 M666.1,118.6 L666.0,117.0 M666.0,117.0 L665.7,115.4 M665.7,115.4 L665.4,113.7 M665.4,113.7 L664.9,111.9 M664.9,111.9 L664.3,110.2 M664.3,110.2 L663.7,108.5 M663.7,108.5 L663.0,106.7 M663.0,106.7 L662.2,105.0 M662.2,105.0 L661.3,103.4 M661.3,103.4 L660.3,101.8 M660.3,101.8 L659.3,100.2 M659.3,100.2 L658.3,98.7 M658.3,98.7 L657.2,97.4 M657.2,97.4 L656.0,96.1 M656.0,96.1 L654.9,94.9 M654.9,94.9 L653.7,93.8 M653.7,93.8 L652.5,92.9 M652.5,92.9 L651.3,92.1 M651.3,92.1 L650.2,91.4 M650.2,91.4 L649.0,90.9 M649.0,90.9 L647.9,90.5 M647.9,90.5 L646.8,90.3 M646.8,90.3 L645.8,90.2 M645.8,90.2 L644.8,90.3 M644.8,90.3 L643.8,90.5 M643.8,90.5 L643.0,90.9 M662.3,129.5 L663.1,129.0 M663.1,129.0 L663.8,128.3 M663.8,128.3 L664.5,127.5 M664.5,127.5 L665.0,126.6 M665.0,126.6 L665.4,125.5 M665.4,125.5 L665.8,124.3 M665.8,124.3 L666.0,123.0 M666.0,123.0 L666.2,121.7 M634.1,95.2 L643.0,90.9 M653.5,133.8 L662.3,129.5" fill="none" stroke="#111" stroke-width="1.0" stroke-linecap="round"/>
<path d="M657.3,126.0 L657.4,124.5 L657.3,123.0 L657.1,121.4 L656.9,119.7 L656.5,118.0 L656.1,116.3 L655.5,114.5 L654.9,112.8 L654.1,111.1 L653.3,109.4 L652.4,107.7 L651.5,106.1 L650.5,104.5 L649.4,103.1 L648.3,101.7 L647.2,100.4 L646.0,99.2 L644.9,98.2 L643.7,97.2 L642.5,96.4 L641.3,95.7 L640.2,95.2 L639.1,94.8 L638.0,94.6 L636.9,94.5 L635.9,94.6 L635.0,94.8 L634.1,95.2 L633.3,95.7 L632.6,96.4 L632.0,97.2 L631.5,98.1 L631.0,99.2 L630.7,100.4 L630.4,101.7 L630.3,103.0 L630.2,104.5 L630.3,106.1 L630.5,107.7 L630.7,109.3 L631.1,111.0 L631.6,112.8 L632.1,114.5 L632.8,116.2 L633.5,118.0 L634.3,119.7 L635.2,121.3 L636.1,122.9 L637.1,124.5 L638.2,126.0 L639.3,127.3 L640.4,128.6 L641.6,129.8 L642.7,130.9 L643.9,131.8 L645.1,132.6 L646.3,133.3 L647.4,133.8 L648.6,134.2 L649.7,134.4 L650.7,134.5 L651.7,134.4 L652.6,134.2 L653.5,133.8 L654.3,133.3 L655.0,132.6 L655.6,131.8 L656.2,130.9 L656.6,129.8 L656.9,128.7 L657.2,127.4 Z" fill="#fff" stroke="#111" stroke-width="1.0" stroke-linejoin="round"/>
<path d="M653.5,97.6 L654.4,98.4 L655.3,99.3 L656.1,100.3 L657.0,101.4 L657.8,102.5 L658.6,103.7 L659.3,104.9 L660.0,106.2 L660.6,107.5 L661.1,108.9 L661.6,110.2 L662.1,111.5 L662.4,112.9 L662.7,114.2 L662.9,115.5 L663.0,116.7 L663.1,117.9 L663.0,119.0 L662.9,120.1 L662.7,121.1 L662.5,122.0 L662.1,122.8 L661.7,123.5 L661.2,124.1 L660.7,124.6 L660.1,125.0 L659.4,125.3 L658.7,125.5 L657.9,125.6 L657.1,125.5 L656.3,125.3 L655.4,125.0 L654.5,124.6 L653.6,124.1 L652.7,123.5 L651.8,122.8 L650.9,122.0 L650.0,121.0 L649.2,120.1 L648.3,119.0 L647.5,117.9 L646.7,116.7 L646.0,115.4 L645.3,114.2 L644.7,112.8 L644.2,111.5 L643.7,110.2 L643.2,108.8 L642.9,107.5 L642.6,106.2 L642.4,104.9 L642.3,103.7 L642.2,102.5 L642.2,101.4 L642.4,100.3 L642.5,99.3 L642.8,98.4 L643.1,97.6 L643.6,96.9 L644.0,96.3 L644.6,95.7 L645.2,95.3 L645.9,95.1 L646.6,94.9 L647.3,94.8 L648.2,94.9 L649.0,95.1 L649.9,95.3 L650.7,95.8 L651.6,96.3 L652.6,96.9 Z" fill="#fff" stroke="#111" stroke-width="1.0" stroke-linejoin="round"/>
<path d="M653.6,95.7 L654.6,96.7 L655.6,97.7 L656.6,98.8 L657.6,100.1 L658.6,101.4 L659.4,102.7 L660.3,104.2 L661.1,105.6 L661.8,107.1 L662.4,108.7 L663.0,110.2 L663.5,111.7 L663.9,113.3 L664.2,114.8 L664.4,116.2 L664.6,117.7 L664.6,119.0 L664.6,120.3 L664.5,121.6 L664.3,122.7 L664.0,123.7 L663.6,124.7 L663.1,125.5 L662.5,126.2 L661.9,126.8 L661.2,127.3 L660.4,127.6 L659.6,127.8 L658.7,127.9 L657.8,127.8 L656.9,127.6 L655.9,127.3 L654.8,126.8 L653.8,126.2 L652.8,125.5 L651.7,124.7 L650.7,123.7 L649.6,122.7 L648.6,121.5 L647.7,120.3 L646.7,119.0 L645.9,117.6 L645.0,116.2 L644.2,114.7 L643.5,113.2 L642.9,111.7 L642.3,110.2 L641.8,108.6 L641.4,107.1 L641.1,105.6 L640.8,104.1 L640.7,102.7 L640.6,101.3 L640.7,100.0 L640.8,98.8 L641.0,97.7 L641.3,96.6 L641.7,95.7 L642.2,94.9 L642.8,94.2 L643.4,93.6 L644.1,93.1 L644.8,92.8 L645.7,92.6 L646.6,92.5 L647.5,92.6 L648.4,92.8 L649.4,93.1 L650.5,93.6 L651.5,94.2 L652.5,94.9 Z" fill="none" stroke="#111" stroke-width="1.0" stroke-linejoin="round"/>
<path d="M649.0,129.9 L649.0,128.4 L657.2,124.4 L657.2,125.8 Z M649.0,128.4 L649.0,126.9 L657.1,122.9 L657.2,124.4 Z M649.0,126.9 L648.8,125.3 L657.0,121.3 L657.1,122.9 Z M648.8,125.3 L648.5,123.7 L656.7,119.6 L657.0,121.3 Z M648.5,123.7 L648.2,122.0 L656.4,118.0 L656.7,119.6 Z M648.2,122.0 L647.7,120.3 L655.9,116.3 L656.4,118.0 Z M647.7,120.3 L647.2,118.5 L655.3,114.5 L655.9,116.3 Z M647.2,118.5 L646.5,116.8 L654.7,112.8 L655.3,114.5 Z M646.5,116.8 L645.8,115.1 L654.0,111.1 L654.7,112.8 Z M645.8,115.1 L645.0,113.4 L653.2,109.4 L654.0,111.1 Z M645.0,113.4 L644.1,111.8 L652.3,107.8 L653.2,109.4 Z M644.1,111.8 L643.2,110.2 L651.4,106.2 L652.3,107.8 Z M643.2,110.2 L642.2,108.7 L650.4,104.7 L651.4,106.2 Z M642.2,108.7 L641.2,107.2 L649.4,103.2 L650.4,104.7 Z M641.2,107.2 L640.1,105.9 L648.3,101.9 L649.4,103.2 Z M640.1,105.9 L639.0,104.6 L647.2,100.6 L648.3,101.9 Z M639.0,104.6 L637.8,103.4 L646.0,99.4 L647.2,100.6 Z M637.8,103.4 L636.7,102.4 L644.9,98.4 L646.0,99.4 Z M636.7,102.4 L635.5,101.5 L643.7,97.4 L644.9,98.4 Z M635.5,101.5 L634.3,100.7 L642.5,96.6 L643.7,97.4 Z M634.3,100.7 L633.2,100.0 L641.4,96.0 L642.5,96.6 Z M633.2,100.0 L632.0,99.5 L640.2,95.5 L641.4,96.0 Z M632.0,99.5 L630.9,99.1 L639.1,95.1 L640.2,95.5 Z M630.9,99.1 L629.9,98.9 L638.0,94.9 L639.1,95.1 Z M629.9,98.9 L628.8,98.8 L637.0,94.8 L638.0,94.9 Z M628.8,98.8 L627.8,98.9 L636.0,94.9 L637.0,94.8 Z M627.8,98.9 L626.9,99.1 L635.1,95.1 L636.0,94.9 Z M626.9,99.1 L626.1,99.5 L634.3,95.5 L635.1,95.1 Z M645.2,137.6 L646.0,137.1 L654.1,133.1 L653.4,133.6 Z M646.0,137.1 L646.7,136.4 L654.8,132.4 L654.1,133.1 Z M646.7,136.4 L647.3,135.6 L655.5,131.6 L654.8,132.4 Z M647.3,135.6 L647.8,134.7 L656.0,130.7 L655.5,131.6 Z M647.8,134.7 L648.2,133.7 L656.4,129.6 L656.0,130.7 Z M648.2,133.7 L648.6,132.5 L656.8,128.5 L656.4,129.6 Z M648.6,132.5 L648.8,131.2 L657.0,127.2 L656.8,128.5 Z M648.8,131.2 L649.0,129.9 L657.2,125.8 L657.0,127.2 Z " fill="#fff" stroke="#fff" stroke-width="0.6"/>
<path d="M657.2,125.8 L657.2,124.4 M657.2,124.4 L657.1,122.9 M657.1,122.9 L657.0,121.3 M657.0,121.3 L656.7,119.6 M656.7,119.6 L656.4,118.0 M656.4,118.0 L655.9,116.3 M655.9,116.3 L655.3,114.5 M655.3,114.5 L654.7,112.8 M654.7,112.8 L654.0,111.1 M654.0,111.1 L653.2,109.4 M653.2,109.4 L652.3,107.8 M652.3,107.8 L651.4,106.2 M651.4,106.2 L650.4,104.7 M650.4,104.7 L649.4,103.2 M649.4,103.2 L648.3,101.9 M648.3,101.9 L647.2,100.6 M647.2,100.6 L646.0,99.4 M646.0,99.4 L644.9,98.4 M644.9,98.4 L643.7,97.4 M643.7,97.4 L642.5,96.6 M642.5,96.6 L641.4,96.0 M641.4,96.0 L640.2,95.5 M640.2,95.5 L639.1,95.1 M639.1,95.1 L638.0,94.9 M638.0,94.9 L637.0,94.8 M637.0,94.8 L636.0,94.9 M636.0,94.9 L635.1,95.1 M635.1,95.1 L634.3,95.5 M653.4,133.6 L654.1,133.1 M654.1,133.1 L654.8,132.4 M654.8,132.4 L655.5,131.6 M655.5,131.6 L656.0,130.7 M656.0,130.7 L656.4,129.6 M656.4,129.6 L656.8,128.5 M656.8,128.5 L657.0,127.2 M657.0,127.2 L657.2,125.8 M626.1,99.5 L634.3,95.5 M645.2,137.6 L653.4,133.6" fill="none" stroke="#111" stroke-width="1.0" stroke-linecap="round"/>
<path d="M649.0,129.9 L649.0,128.4 L649.0,126.9 L648.8,125.3 L648.5,123.7 L648.2,122.0 L647.7,120.3 L647.2,118.5 L646.5,116.8 L645.8,115.1 L645.0,113.4 L644.1,111.8 L643.2,110.2 L642.2,108.7 L641.2,107.2 L640.1,105.9 L639.0,104.6 L637.8,103.4 L636.7,102.4 L635.5,101.5 L634.3,100.7 L633.2,100.0 L632.0,99.5 L630.9,99.1 L629.9,98.9 L628.8,98.8 L627.8,98.9 L626.9,99.1 L626.1,99.5 L625.3,100.0 L624.6,100.6 L624.0,101.4 L623.4,102.4 L623.0,103.4 L622.7,104.6 L622.4,105.8 L622.3,107.2 L622.2,108.7 L622.3,110.2 L622.5,111.8 L622.7,113.4 L623.1,115.1 L623.5,116.8 L624.1,118.5 L624.7,120.2 L625.4,121.9 L626.2,123.6 L627.1,125.3 L628.0,126.9 L629.0,128.4 L630.1,129.8 L631.2,131.2 L632.3,132.5 L633.4,133.6 L634.6,134.7 L635.7,135.6 L636.9,136.4 L638.1,137.1 L639.2,137.6 L640.3,138.0 L641.4,138.2 L642.4,138.3 L643.4,138.2 L644.3,138.0 L645.2,137.6 L646.0,137.1 L646.7,136.4 L647.3,135.6 L647.8,134.7 L648.2,133.7 L648.6,132.5 L648.8,131.2 Z" fill="#fff" stroke="#111" stroke-width="1.0" stroke-linejoin="round"/>
<path d="M641.3,133.4 L641.3,132.0 L648.8,128.3 L648.8,129.7 Z M641.3,132.0 L641.2,130.5 L648.8,126.8 L648.8,128.3 Z M641.2,130.5 L641.1,128.9 L648.6,125.2 L648.8,126.8 Z M641.1,128.9 L640.8,127.3 L648.4,123.6 L648.6,125.2 Z M640.8,127.3 L640.5,125.6 L648.0,121.9 L648.4,123.6 Z M640.5,125.6 L640.0,123.9 L647.6,120.2 L648.0,121.9 Z M640.0,123.9 L639.5,122.2 L647.0,118.5 L647.6,120.2 Z M639.5,122.2 L638.8,120.5 L646.4,116.9 L647.0,118.5 Z M638.8,120.5 L638.1,118.9 L645.7,115.2 L646.4,116.9 Z M638.1,118.9 L637.3,117.2 L644.9,113.5 L645.7,115.2 Z M637.3,117.2 L636.5,115.6 L644.0,111.9 L644.9,113.5 Z M636.5,115.6 L635.6,114.0 L643.1,110.3 L644.0,111.9 Z M635.6,114.0 L634.6,112.5 L642.1,108.8 L643.1,110.3 Z M634.6,112.5 L633.6,111.1 L641.1,107.4 L642.1,108.8 Z M633.6,111.1 L632.5,109.7 L640.0,106.0 L641.1,107.4 Z M632.5,109.7 L631.4,108.5 L638.9,104.8 L640.0,106.0 Z M631.4,108.5 L630.3,107.3 L637.8,103.6 L638.9,104.8 Z M630.3,107.3 L629.1,106.3 L636.7,102.6 L637.8,103.6 Z M629.1,106.3 L628.0,105.4 L635.5,101.7 L636.7,102.6 Z M628.0,105.4 L626.8,104.6 L634.4,100.9 L635.5,101.7 Z M626.8,104.6 L625.7,103.9 L633.2,100.2 L634.4,100.9 Z M625.7,103.9 L624.5,103.4 L632.1,99.7 L633.2,100.2 Z M624.5,103.4 L623.4,103.1 L631.0,99.4 L632.1,99.7 Z M623.4,103.1 L622.4,102.8 L629.9,99.1 L631.0,99.4 Z M622.4,102.8 L621.4,102.8 L628.9,99.1 L629.9,99.1 Z M621.4,102.8 L620.4,102.8 L627.9,99.1 L628.9,99.1 Z M620.4,102.8 L619.5,103.1 L627.0,99.4 L627.9,99.1 Z M619.5,103.1 L618.6,103.4 L626.2,99.7 L627.0,99.4 Z M637.5,141.0 L638.3,140.5 L645.8,136.8 L645.1,137.3 Z M638.3,140.5 L639.0,139.9 L646.5,136.2 L645.8,136.8 Z M639.0,139.9 L639.6,139.1 L647.1,135.4 L646.5,136.2 Z M639.6,139.1 L640.1,138.2 L647.7,134.5 L647.1,135.4 Z M640.1,138.2 L640.5,137.1 L648.1,133.5 L647.7,134.5 Z M640.5,137.1 L640.9,136.0 L648.4,132.3 L648.1,133.5 Z M640.9,136.0 L641.1,134.8 L648.7,131.1 L648.4,132.3 Z M641.1,134.8 L641.3,133.4 L648.8,129.7 L648.7,131.1 Z " fill="#fff" stroke="#fff" stroke-width="0.6"/>
<path d="M648.8,129.7 L648.8,128.3 M648.8,128.3 L648.8,126.8 M648.8,126.8 L648.6,125.2 M648.6,125.2 L648.4,123.6 M648.4,123.6 L648.0,121.9 M648.0,121.9 L647.6,120.2 M647.6,120.2 L647.0,118.5 M647.0,118.5 L646.4,116.9 M646.4,116.9 L645.7,115.2 M645.7,115.2 L644.9,113.5 M644.9,113.5 L644.0,111.9 M644.0,111.9 L643.1,110.3 M643.1,110.3 L642.1,108.8 M642.1,108.8 L641.1,107.4 M641.1,107.4 L640.0,106.0 M640.0,106.0 L638.9,104.8 M638.9,104.8 L637.8,103.6 M637.8,103.6 L636.7,102.6 M636.7,102.6 L635.5,101.7 M635.5,101.7 L634.4,100.9 M634.4,100.9 L633.2,100.2 M633.2,100.2 L632.1,99.7 M632.1,99.7 L631.0,99.4 M631.0,99.4 L629.9,99.1 M629.9,99.1 L628.9,99.1 M628.9,99.1 L627.9,99.1 M627.9,99.1 L627.0,99.4 M627.0,99.4 L626.2,99.7 M645.1,137.3 L645.8,136.8 M645.8,136.8 L646.5,136.2 M646.5,136.2 L647.1,135.4 M647.1,135.4 L647.7,134.5 M647.7,134.5 L648.1,133.5 M648.1,133.5 L648.4,132.3 M648.4,132.3 L648.7,131.1 M648.7,131.1 L648.8,129.7 M618.6,103.4 L626.2,99.7 M637.5,141.0 L645.1,137.3" fill="none" stroke="#111" stroke-width="1.0" stroke-linecap="round"/>
<path d="M641.3,133.4 L641.3,132.0 L641.2,130.5 L641.1,128.9 L640.8,127.3 L640.5,125.6 L640.0,123.9 L639.5,122.2 L638.8,120.5 L638.1,118.9 L637.3,117.2 L636.5,115.6 L635.6,114.0 L634.6,112.5 L633.6,111.1 L632.5,109.7 L631.4,108.5 L630.3,107.3 L629.1,106.3 L628.0,105.4 L626.8,104.6 L625.7,103.9 L624.5,103.4 L623.4,103.1 L622.4,102.8 L621.4,102.8 L620.4,102.8 L619.5,103.1 L618.6,103.4 L617.9,103.9 L617.2,104.6 L616.6,105.4 L616.0,106.3 L615.6,107.3 L615.3,108.4 L615.0,109.7 L614.9,111.0 L614.9,112.5 L614.9,114.0 L615.1,115.6 L615.3,117.2 L615.7,118.8 L616.1,120.5 L616.7,122.2 L617.3,123.9 L618.0,125.6 L618.8,127.2 L619.7,128.9 L620.6,130.4 L621.6,131.9 L622.6,133.4 L623.7,134.7 L624.8,136.0 L625.9,137.1 L627.0,138.2 L628.2,139.1 L629.3,139.9 L630.5,140.5 L631.6,141.0 L632.7,141.4 L633.8,141.6 L634.8,141.7 L635.8,141.6 L636.7,141.4 L637.5,141.0 L638.3,140.5 L639.0,139.9 L639.6,139.1 L640.1,138.2 L640.5,137.1 L640.9,136.0 L641.1,134.8 Z" fill="#fff" stroke="#111" stroke-width="1.0" stroke-linejoin="round"/>
<path d="M633.2,136.4 L633.3,135.1 L640.6,131.5 L640.6,132.8 Z M633.3,135.1 L633.2,133.6 L640.5,130.0 L640.6,131.5 Z M633.2,133.6 L633.1,132.1 L640.4,128.5 L640.5,130.0 Z M633.1,132.1 L632.8,130.6 L640.1,127.0 L640.4,128.5 Z M632.8,130.6 L632.5,129.0 L639.8,125.4 L640.1,127.0 Z M632.5,129.0 L632.1,127.4 L639.4,123.8 L639.8,125.4 Z M632.1,127.4 L631.5,125.8 L638.9,122.2 L639.4,123.8 Z M631.5,125.8 L630.9,124.2 L638.3,120.6 L638.9,122.2 Z M630.9,124.2 L630.3,122.6 L637.6,119.0 L638.3,120.6 Z M630.3,122.6 L629.5,121.1 L636.9,117.5 L637.6,119.0 Z M629.5,121.1 L628.7,119.5 L636.0,115.9 L636.9,117.5 Z M628.7,119.5 L627.8,118.0 L635.2,114.4 L636.0,115.9 Z M627.8,118.0 L626.9,116.6 L634.2,113.0 L635.2,114.4 Z M626.9,116.6 L625.9,115.3 L633.3,111.7 L634.2,113.0 Z M625.9,115.3 L624.9,114.0 L632.3,110.4 L633.3,111.7 Z M624.9,114.0 L623.9,112.8 L631.2,109.2 L632.3,110.4 Z M623.9,112.8 L622.8,111.7 L630.1,108.1 L631.2,109.2 Z M622.8,111.7 L621.7,110.7 L629.1,107.1 L630.1,108.1 Z M621.7,110.7 L620.6,109.9 L628.0,106.3 L629.1,107.1 Z M620.6,109.9 L619.5,109.1 L626.9,105.5 L628.0,106.3 Z M619.5,109.1 L618.5,108.5 L625.8,104.9 L626.9,105.5 Z M618.5,108.5 L617.4,108.0 L624.7,104.4 L625.8,104.9 Z M617.4,108.0 L616.4,107.7 L623.7,104.1 L624.7,104.4 Z M616.4,107.7 L615.4,107.4 L622.7,103.9 L623.7,104.1 Z M615.4,107.4 L614.4,107.4 L621.7,103.8 L622.7,103.9 Z M614.4,107.4 L613.5,107.4 L620.8,103.9 L621.7,103.8 Z M613.5,107.4 L612.6,107.7 L619.9,104.1 L620.8,103.9 Z M612.6,107.7 L611.8,108.0 L619.1,104.4 L619.9,104.1 Z M629.7,143.6 L630.4,143.2 L637.7,139.6 L637.0,140.0 Z M630.4,143.2 L631.1,142.5 L638.4,138.9 L637.7,139.6 Z M631.1,142.5 L631.7,141.8 L639.0,138.2 L638.4,138.9 Z M631.7,141.8 L632.1,140.9 L639.5,137.3 L639.0,138.2 Z M632.1,140.9 L632.6,140.0 L639.9,136.4 L639.5,137.3 Z M632.6,140.0 L632.9,138.9 L640.2,135.3 L639.9,136.4 Z M632.9,138.9 L633.1,137.7 L640.4,134.1 L640.2,135.3 Z M633.1,137.7 L633.2,136.4 L640.6,132.8 L640.4,134.1 Z " fill="#fff" stroke="#fff" stroke-width="0.6"/>
<path d="M640.6,132.8 L640.6,131.5 M640.6,131.5 L640.5,130.0 M640.5,130.0 L640.4,128.5 M640.4,128.5 L640.1,127.0 M640.1,127.0 L639.8,125.4 M639.8,125.4 L639.4,123.8 M639.4,123.8 L638.9,122.2 M638.9,122.2 L638.3,120.6 M638.3,120.6 L637.6,119.0 M637.6,119.0 L636.9,117.5 M636.9,117.5 L636.0,115.9 M636.0,115.9 L635.2,114.4 M635.2,114.4 L634.2,113.0 M634.2,113.0 L633.3,111.7 M633.3,111.7 L632.3,110.4 M632.3,110.4 L631.2,109.2 M631.2,109.2 L630.1,108.1 M630.1,108.1 L629.1,107.1 M629.1,107.1 L628.0,106.3 M628.0,106.3 L626.9,105.5 M626.9,105.5 L625.8,104.9 M625.8,104.9 L624.7,104.4 M624.7,104.4 L623.7,104.1 M623.7,104.1 L622.7,103.9 M622.7,103.9 L621.7,103.8 M621.7,103.8 L620.8,103.9 M620.8,103.9 L619.9,104.1 M619.9,104.1 L619.1,104.4 M637.0,140.0 L637.7,139.6 M637.7,139.6 L638.4,138.9 M638.4,138.9 L639.0,138.2 M639.0,138.2 L639.5,137.3 M639.5,137.3 L639.9,136.4 M639.9,136.4 L640.2,135.3 M640.2,135.3 L640.4,134.1 M640.4,134.1 L640.6,132.8 M611.8,108.0 L619.1,104.4 M629.7,143.6 L637.0,140.0" fill="none" stroke="#111" stroke-width="1.0" stroke-linecap="round"/>
<path d="M633.2,136.4 L633.3,135.1 L633.2,133.6 L633.1,132.1 L632.8,130.6 L632.5,129.0 L632.1,127.4 L631.5,125.8 L630.9,124.2 L630.3,122.6 L629.5,121.1 L628.7,119.5 L627.8,118.0 L626.9,116.6 L625.9,115.3 L624.9,114.0 L623.9,112.8 L622.8,111.7 L621.7,110.7 L620.6,109.9 L619.5,109.1 L618.5,108.5 L617.4,108.0 L616.4,107.7 L615.4,107.4 L614.4,107.4 L613.5,107.4 L612.6,107.7 L611.8,108.0 L611.1,108.5 L610.4,109.1 L609.9,109.8 L609.4,110.7 L608.9,111.7 L608.6,112.8 L608.4,113.9 L608.3,115.2 L608.2,116.6 L608.3,118.0 L608.4,119.5 L608.7,121.0 L609.0,122.6 L609.4,124.2 L610.0,125.8 L610.6,127.4 L611.2,129.0 L612.0,130.6 L612.8,132.1 L613.7,133.6 L614.6,135.0 L615.6,136.4 L616.6,137.7 L617.6,138.8 L618.7,139.9 L619.8,140.9 L620.9,141.8 L622.0,142.5 L623.0,143.1 L624.1,143.6 L625.1,144.0 L626.1,144.2 L627.1,144.3 L628.0,144.2 L628.9,144.0 L629.7,143.6 L630.4,143.2 L631.1,142.5 L631.7,141.8 L632.1,140.9 L632.6,140.0 L632.9,138.9 L633.1,137.7 Z" fill="#fff" stroke="#111" stroke-width="1.0" stroke-linejoin="round"/>
<path d="M623.7,144.3 L623.7,142.6 L636.7,136.2 L636.6,137.9 Z M623.7,142.6 L623.7,140.8 L636.6,134.4 L636.7,136.2 Z M623.7,140.8 L623.5,138.9 L636.4,132.5 L636.6,134.4 Z M623.5,138.9 L623.2,136.9 L636.1,130.6 L636.4,132.5 Z M623.2,136.9 L622.7,135.0 L635.7,128.6 L636.1,130.6 Z M622.7,135.0 L622.2,132.9 L635.1,126.6 L635.7,128.6 Z M622.2,132.9 L621.5,130.9 L634.5,124.6 L635.1,126.6 Z M621.5,130.9 L620.8,128.9 L633.7,122.5 L634.5,124.6 Z M620.8,128.9 L619.9,126.9 L632.9,120.5 L633.7,122.5 Z M619.9,126.9 L619.0,124.9 L631.9,118.5 L632.9,120.5 Z M619.0,124.9 L618.0,122.9 L630.9,116.6 L631.9,118.5 Z M618.0,122.9 L616.9,121.1 L629.8,114.7 L630.9,116.6 Z M616.9,121.1 L615.7,119.3 L628.6,112.9 L629.8,114.7 Z M615.7,119.3 L614.5,117.5 L627.4,111.2 L628.6,112.9 Z M614.5,117.5 L613.2,115.9 L626.1,109.6 L627.4,111.2 Z M613.2,115.9 L611.9,114.4 L624.8,108.1 L626.1,109.6 Z M611.9,114.4 L610.5,113.1 L623.4,106.7 L624.8,108.1 Z M610.5,113.1 L609.1,111.8 L622.1,105.5 L623.4,106.7 Z M609.1,111.8 L607.8,110.7 L620.7,104.4 L622.1,105.5 Z M607.8,110.7 L606.4,109.8 L619.3,103.4 L620.7,104.4 Z M606.4,109.8 L605.0,109.0 L617.9,102.7 L619.3,103.4 Z M605.0,109.0 L603.7,108.4 L616.6,102.0 L617.9,102.7 Z M603.7,108.4 L602.4,107.9 L615.3,101.6 L616.6,102.0 Z M602.4,107.9 L601.1,107.7 L614.0,101.3 L615.3,101.6 Z M601.1,107.7 L599.9,107.6 L612.8,101.2 L614.0,101.3 Z M599.9,107.6 L598.7,107.7 L611.6,101.3 L612.8,101.2 Z M598.7,107.7 L597.6,107.9 L610.6,101.6 L611.6,101.3 Z M597.6,107.9 L596.6,108.4 L609.5,102.0 L610.6,101.6 Z M619.2,153.4 L620.1,152.8 L633.0,146.5 L632.1,147.1 Z M620.1,152.8 L620.9,152.0 L633.9,145.7 L633.0,146.5 Z M620.9,152.0 L621.7,151.1 L634.6,144.8 L633.9,145.7 Z M621.7,151.1 L622.3,150.0 L635.2,143.7 L634.6,144.8 Z M622.3,150.0 L622.8,148.8 L635.8,142.4 L635.2,143.7 Z M622.8,148.8 L623.2,147.4 L636.2,141.1 L635.8,142.4 Z M623.2,147.4 L623.5,145.9 L636.4,139.6 L636.2,141.1 Z M623.5,145.9 L623.7,144.3 L636.6,137.9 L636.4,139.6 Z " fill="#fff" stroke="#fff" stroke-width="0.6"/>
<path d="M636.6,137.9 L636.7,136.2 M636.7,136.2 L636.6,134.4 M636.6,134.4 L636.4,132.5 M636.4,132.5 L636.1,130.6 M636.1,130.6 L635.7,128.6 M635.7,128.6 L635.1,126.6 M635.1,126.6 L634.5,124.6 M634.5,124.6 L633.7,122.5 M633.7,122.5 L632.9,120.5 M632.9,120.5 L631.9,118.5 M631.9,118.5 L630.9,116.6 M630.9,116.6 L629.8,114.7 M629.8,114.7 L628.6,112.9 M628.6,112.9 L627.4,111.2 M627.4,111.2 L626.1,109.6 M626.1,109.6 L624.8,108.1 M624.8,108.1 L623.4,106.7 M623.4,106.7 L622.1,105.5 M622.1,105.5 L620.7,104.4 M620.7,104.4 L619.3,103.4 M619.3,103.4 L617.9,102.7 M617.9,102.7 L616.6,102.0 M616.6,102.0 L615.3,101.6 M615.3,101.6 L614.0,101.3 M614.0,101.3 L612.8,101.2 M612.8,101.2 L611.6,101.3 M611.6,101.3 L610.6,101.6 M610.6,101.6 L609.5,102.0 M632.1,147.1 L633.0,146.5 M633.0,146.5 L633.9,145.7 M633.9,145.7 L634.6,144.8 M634.6,144.8 L635.2,143.7 M635.2,143.7 L635.8,142.4 M635.8,142.4 L636.2,141.1 M636.2,141.1 L636.4,139.6 M636.4,139.6 L636.6,137.9 M596.6,108.4 L609.5,102.0 M619.2,153.4 L632.1,147.1" fill="none" stroke="#111" stroke-width="1.0" stroke-linecap="round"/>
<path d="M623.7,144.3 L623.7,142.6 L623.7,140.8 L623.5,138.9 L623.2,136.9 L622.7,135.0 L622.2,132.9 L621.5,130.9 L620.8,128.9 L619.9,126.9 L619.0,124.9 L618.0,122.9 L616.9,121.1 L615.7,119.3 L614.5,117.5 L613.2,115.9 L611.9,114.4 L610.5,113.1 L609.1,111.8 L607.8,110.7 L606.4,109.8 L605.0,109.0 L603.7,108.4 L602.4,107.9 L601.1,107.7 L599.9,107.6 L598.7,107.7 L597.6,107.9 L596.6,108.4 L595.7,109.0 L594.9,109.8 L594.1,110.7 L593.5,111.8 L593.0,113.0 L592.6,114.4 L592.3,115.9 L592.1,117.5 L592.1,119.2 L592.1,121.0 L592.3,122.9 L592.7,124.8 L593.1,126.8 L593.6,128.8 L594.3,130.9 L595.0,132.9 L595.9,134.9 L596.8,136.9 L597.8,138.8 L598.9,140.7 L600.1,142.5 L601.3,144.2 L602.6,145.9 L603.9,147.4 L605.3,148.7 L606.7,150.0 L608.0,151.1 L609.4,152.0 L610.8,152.8 L612.1,153.4 L613.5,153.8 L614.7,154.1 L615.9,154.2 L617.1,154.1 L618.2,153.9 L619.2,153.4 L620.1,152.8 L620.9,152.0 L621.7,151.1 L622.3,150.0 L622.8,148.8 L623.2,147.4 L623.5,145.9 Z" fill="#fff" stroke="#111" stroke-width="1.0" stroke-linejoin="round"/>
<path d="M620.1,158.8 L620.2,156.1 L633.3,149.6 L633.2,152.4 Z M620.2,156.1 L620.0,153.2 L633.2,146.7 L633.3,149.6 Z M620.0,153.2 L619.7,150.2 L632.9,143.7 L633.2,146.7 Z M619.7,150.2 L619.2,147.0 L632.4,140.6 L632.9,143.7 Z M619.2,147.0 L618.5,143.9 L631.7,137.4 L632.4,140.6 Z M618.5,143.9 L617.7,140.6 L630.8,134.2 L631.7,137.4 Z M617.7,140.6 L616.6,137.4 L629.8,130.9 L630.8,134.2 Z M616.6,137.4 L615.4,134.1 L628.6,127.7 L629.8,130.9 Z M615.4,134.1 L614.1,130.9 L627.2,124.4 L628.6,127.7 Z M614.1,130.9 L612.6,127.7 L625.7,121.2 L627.2,124.4 Z M612.6,127.7 L610.9,124.6 L624.1,118.1 L625.7,121.2 Z M610.9,124.6 L609.1,121.6 L622.3,115.1 L624.1,118.1 Z M609.1,121.6 L607.3,118.7 L620.4,112.2 L622.3,115.1 Z M607.3,118.7 L605.3,115.9 L618.4,109.5 L620.4,112.2 Z M605.3,115.9 L603.2,113.3 L616.4,106.9 L618.4,109.5 Z M603.2,113.3 L601.1,110.9 L614.3,104.5 L616.4,106.9 Z M601.1,110.9 L598.9,108.7 L612.1,102.3 L614.3,104.5 Z M598.9,108.7 L596.7,106.7 L609.9,100.3 L612.1,102.3 Z M596.7,106.7 L594.5,105.0 L607.7,98.5 L609.9,100.3 Z M594.5,105.0 L592.3,103.5 L605.5,97.0 L607.7,98.5 Z M592.3,103.5 L590.1,102.2 L603.3,95.8 L605.5,97.0 Z M590.1,102.2 L588.0,101.2 L601.1,94.8 L603.3,95.8 Z M588.0,101.2 L585.9,100.5 L599.0,94.1 L601.1,94.8 Z M585.9,100.5 L583.8,100.1 L597.0,93.6 L599.0,94.1 Z M583.8,100.1 L581.9,99.9 L595.0,93.5 L597.0,93.6 Z M581.9,99.9 L580.0,100.1 L593.2,93.6 L595.0,93.5 Z M580.0,100.1 L578.3,100.5 L591.4,94.1 L593.2,93.6 Z M578.3,100.5 L576.6,101.2 L589.8,94.8 L591.4,94.1 Z M612.9,173.5 L614.4,172.5 L627.5,166.0 L626.0,167.0 Z M614.4,172.5 L615.7,171.2 L628.8,164.8 L627.5,166.0 Z M615.7,171.2 L616.9,169.7 L630.0,163.3 L628.8,164.8 Z M616.9,169.7 L617.9,168.0 L631.0,161.5 L630.0,163.3 Z M617.9,168.0 L618.7,166.0 L631.8,159.6 L631.0,161.5 Z M618.7,166.0 L619.3,163.8 L632.5,157.4 L631.8,159.6 Z M619.3,163.8 L619.8,161.4 L633.0,155.0 L632.5,157.4 Z M619.8,161.4 L620.1,158.8 L633.2,152.4 L633.0,155.0 Z " fill="#fff" stroke="#fff" stroke-width="0.6"/>
<path d="M633.2,152.4 L633.3,149.6 M633.3,149.6 L633.2,146.7 M633.2,146.7 L632.9,143.7 M632.9,143.7 L632.4,140.6 M632.4,140.6 L631.7,137.4 M631.7,137.4 L630.8,134.2 M630.8,134.2 L629.8,130.9 M629.8,130.9 L628.6,127.7 M628.6,127.7 L627.2,124.4 M627.2,124.4 L625.7,121.2 M625.7,121.2 L624.1,118.1 M624.1,118.1 L622.3,115.1 M622.3,115.1 L620.4,112.2 M620.4,112.2 L618.4,109.5 M618.4,109.5 L616.4,106.9 M616.4,106.9 L614.3,104.5 M614.3,104.5 L612.1,102.3 M612.1,102.3 L609.9,100.3 M609.9,100.3 L607.7,98.5 M607.7,98.5 L605.5,97.0 M605.5,97.0 L603.3,95.8 M603.3,95.8 L601.1,94.8 M601.1,94.8 L599.0,94.1 M599.0,94.1 L597.0,93.6 M597.0,93.6 L595.0,93.5 M595.0,93.5 L593.2,93.6 M593.2,93.6 L591.4,94.1 M591.4,94.1 L589.8,94.8 M626.0,167.0 L627.5,166.0 M627.5,166.0 L628.8,164.8 M628.8,164.8 L630.0,163.3 M630.0,163.3 L631.0,161.5 M631.0,161.5 L631.8,159.6 M631.8,159.6 L632.5,157.4 M632.5,157.4 L633.0,155.0 M633.0,155.0 L633.2,152.4 M576.6,101.2 L589.8,94.8 M612.9,173.5 L626.0,167.0" fill="none" stroke="#111" stroke-width="1.0" stroke-linecap="round"/>
<path d="M620.1,158.8 L620.2,156.1 L620.0,153.2 L619.7,150.2 L619.2,147.0 L618.5,143.9 L617.7,140.6 L616.6,137.4 L615.4,134.1 L614.1,130.9 L612.6,127.7 L610.9,124.6 L609.1,121.6 L607.3,118.7 L605.3,115.9 L603.2,113.3 L601.1,110.9 L598.9,108.7 L596.7,106.7 L594.5,105.0 L592.3,103.5 L590.1,102.2 L588.0,101.2 L585.9,100.5 L583.8,100.1 L581.9,99.9 L580.0,100.1 L578.3,100.5 L576.6,101.2 L575.2,102.2 L573.8,103.4 L572.7,104.9 L571.6,106.7 L570.8,108.7 L570.2,110.9 L569.7,113.3 L569.4,115.9 L569.4,118.6 L569.5,121.5 L569.8,124.5 L570.3,127.6 L571.0,130.8 L571.8,134.0 L572.9,137.3 L574.1,140.6 L575.5,143.8 L577.0,147.0 L578.6,150.1 L580.4,153.1 L582.3,156.0 L584.2,158.8 L586.3,161.4 L588.4,163.8 L590.6,166.0 L592.8,168.0 L595.0,169.7 L597.2,171.2 L599.4,172.5 L601.6,173.5 L603.7,174.2 L605.7,174.6 L607.7,174.7 L609.5,174.6 L611.3,174.2 L612.9,173.5 L614.4,172.5 L615.7,171.2 L616.9,169.7 L617.9,168.0 L618.7,166.0 L619.3,163.8 L619.8,161.4 Z" fill="#fff" stroke="#111" stroke-width="1.0" stroke-linejoin="round"/>
<path d="M592.2,94.1 L592.9,94.8 L593.6,95.5 L594.1,96.2 L594.5,96.9 L594.8,97.7 L595.1,98.4 L595.2,99.2 L595.2,100.0 L595.2,100.7 L595.0,101.5 L594.7,102.2 L594.3,103.0 L593.8,103.7 L593.3,104.3 L592.6,104.9 L591.9,105.5 L591.1,106.0 L590.2,106.5 L589.2,106.9 L588.2,107.3 L587.2,107.6 L586.1,107.8 L584.9,108.0 L583.8,108.1 L582.6,108.2 L581.4,108.2 L580.2,108.1 L579.1,107.9 L577.9,107.7 L576.8,107.4 L575.7,107.0 L574.7,106.6 L573.7,106.2 L572.8,105.7 L571.9,105.1 L571.1,104.5 L570.4,103.8 L569.8,103.2 L569.3,102.4 L568.9,101.7 L568.5,100.9 L568.3,100.2 L568.2,99.4 L568.1,98.6 L568.2,97.9 L568.4,97.1 L568.7,96.4 L569.0,95.7 L569.5,95.0 L570.1,94.3 L570.7,93.7 L571.5,93.1 L572.3,92.6 L573.2,92.1 L574.1,91.7 L575.1,91.3 L576.2,91.0 L577.3,90.8 L578.4,90.6 L579.6,90.5 L580.8,90.4 L582.0,90.5 L583.1,90.6 L584.3,90.7 L585.5,90.9 L586.6,91.2 L587.7,91.6 L588.7,92.0 L589.7,92.4 L590.6,93.0 L591.5,93.5 Z M594.1,65.6 L594.8,66.3 L595.4,66.9 L595.9,67.7 L596.4,68.4 L596.7,69.1 L596.9,69.9 L597.1,70.7 L597.1,71.5 L597.0,72.2 L596.8,73.0 L596.5,73.7 L596.2,74.4 L595.7,75.1 L595.1,75.8 L594.5,76.4 L593.7,77.0 L592.9,77.5 L592.0,78.0 L591.1,78.4 L590.1,78.8 L589.0,79.1 L587.9,79.3 L586.8,79.5 L585.6,79.6 L584.4,79.7 L583.3,79.6 L582.1,79.5 L580.9,79.4 L579.8,79.2 L578.6,78.9 L577.6,78.5 L576.5,78.1 L575.5,77.7 L574.6,77.1 L573.8,76.6 L573.0,76.0 L572.3,75.3 L571.7,74.6 L571.1,73.9 L570.7,73.2 L570.4,72.4 L570.1,71.7 L570.0,70.9 L570.0,70.1 L570.1,69.3 L570.2,68.6 L570.5,67.9 L570.9,67.1 L571.4,66.4 L571.9,65.8 L572.6,65.2 L573.3,64.6 L574.1,64.1 L575.0,63.6 L576.0,63.2 L577.0,62.8 L578.1,62.5 L579.2,62.2 L580.3,62.1 L581.5,62.0 L582.6,61.9 L583.8,61.9 L585.0,62.0 L586.2,62.2 L587.3,62.4 L588.4,62.7 L589.5,63.1 L590.5,63.5 L591.5,63.9 L592.5,64.4 L593.3,65.0 Z M592.2,94.1 L592.9,94.8 L594.8,66.3 L594.1,65.6 Z M592.9,94.8 L593.6,95.5 L595.4,66.9 L594.8,66.3 Z M593.6,95.5 L594.1,96.2 L595.9,67.7 L595.4,66.9 Z M594.1,96.2 L594.5,96.9 L596.4,68.4 L595.9,67.7 Z M594.5,96.9 L594.8,97.7 L596.7,69.1 L596.4,68.4 Z M594.8,97.7 L595.1,98.4 L596.9,69.9 L596.7,69.1 Z M595.1,98.4 L595.2,99.2 L597.1,70.7 L596.9,69.9 Z M595.2,99.2 L595.2,100.0 L597.1,71.5 L597.1,70.7 Z M595.2,100.0 L595.2,100.7 L597.0,72.2 L597.1,71.5 Z M595.2,100.7 L595.0,101.5 L596.8,73.0 L597.0,72.2 Z M595.0,101.5 L594.7,102.2 L596.5,73.7 L596.8,73.0 Z M594.7,102.2 L594.3,103.0 L596.2,74.4 L596.5,73.7 Z M594.3,103.0 L593.8,103.7 L595.7,75.1 L596.2,74.4 Z M593.8,103.7 L593.3,104.3 L595.1,75.8 L595.7,75.1 Z M593.3,104.3 L592.6,104.9 L594.5,76.4 L595.1,75.8 Z M592.6,104.9 L591.9,105.5 L593.7,77.0 L594.5,76.4 Z M591.9,105.5 L591.1,106.0 L592.9,77.5 L593.7,77.0 Z M591.1,106.0 L590.2,106.5 L592.0,78.0 L592.9,77.5 Z M590.2,106.5 L589.2,106.9 L591.1,78.4 L592.0,78.0 Z M589.2,106.9 L588.2,107.3 L590.1,78.8 L591.1,78.4 Z M588.2,107.3 L587.2,107.6 L589.0,79.1 L590.1,78.8 Z M587.2,107.6 L586.1,107.8 L587.9,79.3 L589.0,79.1 Z M586.1,107.8 L584.9,108.0 L586.8,79.5 L587.9,79.3 Z M584.9,108.0 L583.8,108.1 L585.6,79.6 L586.8,79.5 Z M583.8,108.1 L582.6,108.2 L584.4,79.7 L585.6,79.6 Z M582.6,108.2 L581.4,108.2 L583.3,79.6 L584.4,79.7 Z M581.4,108.2 L580.2,108.1 L582.1,79.5 L583.3,79.6 Z M580.2,108.1 L579.1,107.9 L580.9,79.4 L582.1,79.5 Z M579.1,107.9 L577.9,107.7 L579.8,79.2 L580.9,79.4 Z M577.9,107.7 L576.8,107.4 L578.6,78.9 L579.8,79.2 Z M576.8,107.4 L575.7,107.0 L577.6,78.5 L578.6,78.9 Z M575.7,107.0 L574.7,106.6 L576.5,78.1 L577.6,78.5 Z M574.7,106.6 L573.7,106.2 L575.5,77.7 L576.5,78.1 Z M573.7,106.2 L572.8,105.7 L574.6,77.1 L575.5,77.7 Z M572.8,105.7 L571.9,105.1 L573.8,76.6 L574.6,77.1 Z M571.9,105.1 L571.1,104.5 L573.0,76.0 L573.8,76.6 Z M571.1,104.5 L570.4,103.8 L572.3,75.3 L573.0,76.0 Z M570.4,103.8 L569.8,103.2 L571.7,74.6 L572.3,75.3 Z M569.8,103.2 L569.3,102.4 L571.1,73.9 L571.7,74.6 Z M569.3,102.4 L568.9,101.7 L570.7,73.2 L571.1,73.9 Z M568.9,101.7 L568.5,100.9 L570.4,72.4 L570.7,73.2 Z M568.5,100.9 L568.3,100.2 L570.1,71.7 L570.4,72.4 Z M568.3,100.2 L568.2,99.4 L570.0,70.9 L570.1,71.7 Z M568.2,99.4 L568.1,98.6 L570.0,70.1 L570.0,70.9 Z M568.1,98.6 L568.2,97.9 L570.1,69.3 L570.0,70.1 Z M568.2,97.9 L568.4,97.1 L570.2,68.6 L570.1,69.3 Z M568.4,97.1 L568.7,96.4 L570.5,67.9 L570.2,68.6 Z M568.7,96.4 L569.0,95.7 L570.9,67.1 L570.5,67.9 Z M569.0,95.7 L569.5,95.0 L571.4,66.4 L570.9,67.1 Z M569.5,95.0 L570.1,94.3 L571.9,65.8 L571.4,66.4 Z M570.1,94.3 L570.7,93.7 L572.6,65.2 L571.9,65.8 Z M570.7,93.7 L571.5,93.1 L573.3,64.6 L572.6,65.2 Z M571.5,93.1 L572.3,92.6 L574.1,64.1 L573.3,64.6 Z M572.3,92.6 L573.2,92.1 L575.0,63.6 L574.1,64.1 Z M573.2,92.1 L574.1,91.7 L576.0,63.2 L575.0,63.6 Z M574.1,91.7 L575.1,91.3 L577.0,62.8 L576.0,63.2 Z M575.1,91.3 L576.2,91.0 L578.1,62.5 L577.0,62.8 Z M576.2,91.0 L577.3,90.8 L579.2,62.2 L578.1,62.5 Z M577.3,90.8 L578.4,90.6 L580.3,62.1 L579.2,62.2 Z M578.4,90.6 L579.6,90.5 L581.5,62.0 L580.3,62.1 Z M579.6,90.5 L580.8,90.4 L582.6,61.9 L581.5,62.0 Z M580.8,90.4 L582.0,90.5 L583.8,61.9 L582.6,61.9 Z M582.0,90.5 L583.1,90.6 L585.0,62.0 L583.8,61.9 Z M583.1,90.6 L584.3,90.7 L586.2,62.2 L585.0,62.0 Z M584.3,90.7 L585.5,90.9 L587.3,62.4 L586.2,62.2 Z M585.5,90.9 L586.6,91.2 L588.4,62.7 L587.3,62.4 Z M586.6,91.2 L587.7,91.6 L589.5,63.1 L588.4,62.7 Z M587.7,91.6 L588.7,92.0 L590.5,63.5 L589.5,63.1 Z M588.7,92.0 L589.7,92.4 L591.5,63.9 L590.5,63.5 Z M589.7,92.4 L590.6,93.0 L592.5,64.4 L591.5,63.9 Z M590.6,93.0 L591.5,93.5 L593.3,65.0 L592.5,64.4 Z M591.5,93.5 L592.2,94.1 L594.1,65.6 L593.3,65.0 Z" fill="#fff" stroke="#fff" stroke-width="0.6"/>
<path d="M568.1,98.6 L570.0,70.1" fill="none" stroke="#111" stroke-width="1.0" stroke-linejoin="round"/>
<path d="M595.2,100.0 L597.1,71.5" fill="none" stroke="#111" stroke-width="1.0" stroke-linejoin="round"/>
<path d="M568.1,98.6 L568.2,99.4 L568.3,100.2 L568.5,100.9 L568.9,101.7 L569.3,102.4 L569.8,103.2 L570.4,103.8 L571.1,104.5 L571.9,105.1 L572.8,105.7 L573.7,106.2 L574.7,106.6 L575.7,107.0 L576.8,107.4 L577.9,107.7 L579.1,107.9 L580.2,108.1 L581.4,108.2 L582.6,108.2 L583.8,108.1 L584.9,108.0 L586.1,107.8 L587.2,107.6 L588.2,107.3 L589.2,106.9 L590.2,106.5 L591.1,106.0 L591.9,105.5 L592.6,104.9 L593.3,104.3 L593.8,103.7 L594.3,103.0 L594.7,102.2 L595.0,101.5 L595.2,100.7 L595.2,100.0" fill="none" stroke="#111" stroke-width="1.0" stroke-linejoin="round"/>
<path d="M594.7,65.3 L595.5,66.0 L596.1,66.7 L596.7,67.5 L597.1,68.2 L597.5,69.0 L597.7,69.9 L597.9,70.7 L597.9,71.5 L597.8,72.3 L597.6,73.1 L597.3,73.9 L596.9,74.7 L596.4,75.4 L595.8,76.1 L595.1,76.8 L594.4,77.4 L593.5,77.9 L592.5,78.4 L591.5,78.9 L590.5,79.3 L589.3,79.6 L588.2,79.9 L587.0,80.0 L585.7,80.2 L584.5,80.2 L583.2,80.2 L582.0,80.1 L580.7,79.9 L579.5,79.7 L578.3,79.4 L577.2,79.0 L576.1,78.6 L575.0,78.1 L574.1,77.5 L573.2,76.9 L572.3,76.3 L571.6,75.6 L570.9,74.9 L570.4,74.1 L569.9,73.3 L569.6,72.5 L569.3,71.7 L569.2,70.9 L569.1,70.1 L569.2,69.3 L569.4,68.5 L569.7,67.7 L570.1,66.9 L570.6,66.2 L571.2,65.5 L571.9,64.8 L572.7,64.2 L573.6,63.6 L574.5,63.1 L575.5,62.7 L576.6,62.3 L577.7,62.0 L578.9,61.7 L580.1,61.5 L581.3,61.4 L582.6,61.4 L583.8,61.4 L585.1,61.5 L586.3,61.7 L587.5,61.9 L588.7,62.2 L589.9,62.6 L591.0,63.0 L592.0,63.5 L593.0,64.1 L593.9,64.7 Z M595.3,56.1 L596.1,56.8 L596.7,57.5 L597.3,58.2 L597.7,59.0 L598.1,59.8 L598.3,60.6 L598.5,61.4 L598.5,62.3 L598.4,63.1 L598.2,63.9 L597.9,64.7 L597.5,65.4 L597.0,66.2 L596.4,66.9 L595.7,67.5 L595.0,68.1 L594.1,68.7 L593.1,69.2 L592.1,69.7 L591.1,70.0 L589.9,70.4 L588.8,70.6 L587.6,70.8 L586.3,70.9 L585.1,71.0 L583.8,70.9 L582.6,70.9 L581.3,70.7 L580.1,70.4 L578.9,70.1 L577.8,69.8 L576.7,69.3 L575.6,68.8 L574.7,68.3 L573.8,67.7 L572.9,67.1 L572.2,66.4 L571.5,65.6 L571.0,64.9 L570.5,64.1 L570.2,63.3 L569.9,62.5 L569.8,61.7 L569.7,60.9 L569.8,60.0 L570.0,59.2 L570.3,58.4 L570.7,57.7 L571.2,56.9 L571.8,56.3 L572.5,55.6 L573.3,55.0 L574.2,54.4 L575.1,53.9 L576.1,53.5 L577.2,53.1 L578.3,52.8 L579.5,52.5 L580.7,52.3 L581.9,52.2 L583.2,52.1 L584.4,52.2 L585.7,52.3 L586.9,52.4 L588.1,52.7 L589.3,53.0 L590.5,53.4 L591.6,53.8 L592.6,54.3 L593.6,54.8 L594.5,55.4 Z M594.7,65.3 L595.5,66.0 L596.1,56.8 L595.3,56.1 Z M595.5,66.0 L596.1,66.7 L596.7,57.5 L596.1,56.8 Z M596.1,66.7 L596.7,67.5 L597.3,58.2 L596.7,57.5 Z M596.7,67.5 L597.1,68.2 L597.7,59.0 L597.3,58.2 Z M597.1,68.2 L597.5,69.0 L598.1,59.8 L597.7,59.0 Z M597.5,69.0 L597.7,69.9 L598.3,60.6 L598.1,59.8 Z M597.7,69.9 L597.9,70.7 L598.5,61.4 L598.3,60.6 Z M597.9,70.7 L597.9,71.5 L598.5,62.3 L598.5,61.4 Z M597.9,71.5 L597.8,72.3 L598.4,63.1 L598.5,62.3 Z M597.8,72.3 L597.6,73.1 L598.2,63.9 L598.4,63.1 Z M597.6,73.1 L597.3,73.9 L597.9,64.7 L598.2,63.9 Z M597.3,73.9 L596.9,74.7 L597.5,65.4 L597.9,64.7 Z M596.9,74.7 L596.4,75.4 L597.0,66.2 L597.5,65.4 Z M596.4,75.4 L595.8,76.1 L596.4,66.9 L597.0,66.2 Z M595.8,76.1 L595.1,76.8 L595.7,67.5 L596.4,66.9 Z M595.1,76.8 L594.4,77.4 L595.0,68.1 L595.7,67.5 Z M594.4,77.4 L593.5,77.9 L594.1,68.7 L595.0,68.1 Z M593.5,77.9 L592.5,78.4 L593.1,69.2 L594.1,68.7 Z M592.5,78.4 L591.5,78.9 L592.1,69.7 L593.1,69.2 Z M591.5,78.9 L590.5,79.3 L591.1,70.0 L592.1,69.7 Z M590.5,79.3 L589.3,79.6 L589.9,70.4 L591.1,70.0 Z M589.3,79.6 L588.2,79.9 L588.8,70.6 L589.9,70.4 Z M588.2,79.9 L587.0,80.0 L587.6,70.8 L588.8,70.6 Z M587.0,80.0 L585.7,80.2 L586.3,70.9 L587.6,70.8 Z M585.7,80.2 L584.5,80.2 L585.1,71.0 L586.3,70.9 Z M584.5,80.2 L583.2,80.2 L583.8,70.9 L585.1,71.0 Z M583.2,80.2 L582.0,80.1 L582.6,70.9 L583.8,70.9 Z M582.0,80.1 L580.7,79.9 L581.3,70.7 L582.6,70.9 Z M580.7,79.9 L579.5,79.7 L580.1,70.4 L581.3,70.7 Z M579.5,79.7 L578.3,79.4 L578.9,70.1 L580.1,70.4 Z M578.3,79.4 L577.2,79.0 L577.8,69.8 L578.9,70.1 Z M577.2,79.0 L576.1,78.6 L576.7,69.3 L577.8,69.8 Z M576.1,78.6 L575.0,78.1 L575.6,68.8 L576.7,69.3 Z M575.0,78.1 L574.1,77.5 L574.7,68.3 L575.6,68.8 Z M574.1,77.5 L573.2,76.9 L573.8,67.7 L574.7,68.3 Z M573.2,76.9 L572.3,76.3 L572.9,67.1 L573.8,67.7 Z M572.3,76.3 L571.6,75.6 L572.2,66.4 L572.9,67.1 Z M571.6,75.6 L570.9,74.9 L571.5,65.6 L572.2,66.4 Z M570.9,74.9 L570.4,74.1 L571.0,64.9 L571.5,65.6 Z M570.4,74.1 L569.9,73.3 L570.5,64.1 L571.0,64.9 Z M569.9,73.3 L569.6,72.5 L570.2,63.3 L570.5,64.1 Z M569.6,72.5 L569.3,71.7 L569.9,62.5 L570.2,63.3 Z M569.3,71.7 L569.2,70.9 L569.8,61.7 L569.9,62.5 Z M569.2,70.9 L569.1,70.1 L569.7,60.9 L569.8,61.7 Z M569.1,70.1 L569.2,69.3 L569.8,60.0 L569.7,60.9 Z M569.2,69.3 L569.4,68.5 L570.0,59.2 L569.8,60.0 Z M569.4,68.5 L569.7,67.7 L570.3,58.4 L570.0,59.2 Z M569.7,67.7 L570.1,66.9 L570.7,57.7 L570.3,58.4 Z M570.1,66.9 L570.6,66.2 L571.2,56.9 L570.7,57.7 Z M570.6,66.2 L571.2,65.5 L571.8,56.3 L571.2,56.9 Z M571.2,65.5 L571.9,64.8 L572.5,55.6 L571.8,56.3 Z M571.9,64.8 L572.7,64.2 L573.3,55.0 L572.5,55.6 Z M572.7,64.2 L573.6,63.6 L574.2,54.4 L573.3,55.0 Z M573.6,63.6 L574.5,63.1 L575.1,53.9 L574.2,54.4 Z M574.5,63.1 L575.5,62.7 L576.1,53.5 L575.1,53.9 Z M575.5,62.7 L576.6,62.3 L577.2,53.1 L576.1,53.5 Z M576.6,62.3 L577.7,62.0 L578.3,52.8 L577.2,53.1 Z M577.7,62.0 L578.9,61.7 L579.5,52.5 L578.3,52.8 Z M578.9,61.7 L580.1,61.5 L580.7,52.3 L579.5,52.5 Z M580.1,61.5 L581.3,61.4 L581.9,52.2 L580.7,52.3 Z M581.3,61.4 L582.6,61.4 L583.2,52.1 L581.9,52.2 Z M582.6,61.4 L583.8,61.4 L584.4,52.2 L583.2,52.1 Z M583.8,61.4 L585.1,61.5 L585.7,52.3 L584.4,52.2 Z M585.1,61.5 L586.3,61.7 L586.9,52.4 L585.7,52.3 Z M586.3,61.7 L587.5,61.9 L588.1,52.7 L586.9,52.4 Z M587.5,61.9 L588.7,62.2 L589.3,53.0 L588.1,52.7 Z M588.7,62.2 L589.9,62.6 L590.5,53.4 L589.3,53.0 Z M589.9,62.6 L591.0,63.0 L591.6,53.8 L590.5,53.4 Z M591.0,63.0 L592.0,63.5 L592.6,54.3 L591.6,53.8 Z M592.0,63.5 L593.0,64.1 L593.6,54.8 L592.6,54.3 Z M593.0,64.1 L593.9,64.7 L594.5,55.4 L593.6,54.8 Z M593.9,64.7 L594.7,65.3 L595.3,56.1 L594.5,55.4 Z" fill="#fff" stroke="#fff" stroke-width="0.6"/>
<path d="M569.1,70.1 L569.7,60.9" fill="none" stroke="#111" stroke-width="1.0" stroke-linejoin="round"/>
<path d="M597.9,71.5 L598.5,62.3" fill="none" stroke="#111" stroke-width="1.0" stroke-linejoin="round"/>
<path d="M569.1,70.1 L569.2,70.9 L569.3,71.7 L569.6,72.5 L569.9,73.3 L570.4,74.1 L570.9,74.9 L571.6,75.6 L572.3,76.3 L573.2,76.9 L574.1,77.5 L575.0,78.1 L576.1,78.6 L577.2,79.0 L578.3,79.4 L579.5,79.7 L580.7,79.9 L582.0,80.1 L583.2,80.2 L584.5,80.2 L585.7,80.2 L587.0,80.0 L588.2,79.9 L589.3,79.6 L590.5,79.3 L591.5,78.9 L592.5,78.4 L593.5,77.9 L594.4,77.4 L595.1,76.8 L595.8,76.1 L596.4,75.4 L596.9,74.7 L597.3,73.9 L597.6,73.1 L597.8,72.3 L597.9,71.5" fill="none" stroke="#111" stroke-width="1.0" stroke-linejoin="round"/>
<path d="M595.3,56.1 L596.1,56.8 L596.7,57.5 L597.3,58.2 L597.7,59.0 L598.1,59.8 L598.3,60.6 L598.5,61.4 L598.5,62.3 L598.4,63.1 L598.2,63.9 L597.9,64.7 L597.5,65.4 L597.0,66.2 L596.4,66.9 L595.7,67.5 L595.0,68.1 L594.1,68.7 L593.1,69.2 L592.1,69.7 L591.1,70.0 L589.9,70.4 L588.8,70.6 L587.6,70.8 L586.3,70.9 L585.1,71.0 L583.8,70.9 L582.6,70.9 L581.3,70.7 L580.1,70.4 L578.9,70.1 L577.8,69.8 L576.7,69.3 L575.6,68.8 L574.7,68.3 L573.8,67.7 L572.9,67.1 L572.2,66.4 L571.5,65.6 L571.0,64.9 L570.5,64.1 L570.2,63.3 L569.9,62.5 L569.8,61.7 L569.7,60.9 L569.8,60.0 L570.0,59.2 L570.3,58.4 L570.7,57.7 L571.2,56.9 L571.8,56.3 L572.5,55.6 L573.3,55.0 L574.2,54.4 L575.1,53.9 L576.1,53.5 L577.2,53.1 L578.3,52.8 L579.5,52.5 L580.7,52.3 L581.9,52.2 L583.2,52.1 L584.4,52.2 L585.7,52.3 L586.9,52.4 L588.1,52.7 L589.3,53.0 L590.5,53.4 L591.6,53.8 L592.6,54.3 L593.6,54.8 L594.5,55.4 Z M595.9,46.6 L596.7,47.3 L597.3,48.0 L597.9,48.8 L598.4,49.6 L598.7,50.4 L599.0,51.2 L599.1,52.0 L599.1,52.8 L599.0,53.6 L598.9,54.5 L598.6,55.2 L598.2,56.0 L597.6,56.7 L597.0,57.4 L596.3,58.1 L595.6,58.7 L594.7,59.3 L593.8,59.8 L592.7,60.2 L591.7,60.6 L590.5,60.9 L589.4,61.2 L588.2,61.4 L586.9,61.5 L585.7,61.5 L584.4,61.5 L583.2,61.4 L582.0,61.2 L580.7,61.0 L579.5,60.7 L578.4,60.3 L577.3,59.9 L576.2,59.4 L575.3,58.9 L574.4,58.3 L573.5,57.6 L572.8,56.9 L572.1,56.2 L571.6,55.4 L571.1,54.7 L570.8,53.9 L570.5,53.1 L570.4,52.2 L570.4,51.4 L570.4,50.6 L570.6,49.8 L570.9,49.0 L571.3,48.2 L571.8,47.5 L572.4,46.8 L573.1,46.2 L573.9,45.5 L574.8,45.0 L575.7,44.5 L576.7,44.0 L577.8,43.6 L578.9,43.3 L580.1,43.1 L581.3,42.9 L582.5,42.8 L583.8,42.7 L585.0,42.7 L586.3,42.8 L587.5,43.0 L588.7,43.2 L589.9,43.5 L591.1,43.9 L592.2,44.3 L593.2,44.8 L594.2,45.4 L595.1,46.0 Z M595.3,56.1 L596.1,56.8 L596.7,47.3 L595.9,46.6 Z M596.1,56.8 L596.7,57.5 L597.3,48.0 L596.7,47.3 Z M596.7,57.5 L597.3,58.2 L597.9,48.8 L597.3,48.0 Z M597.3,58.2 L597.7,59.0 L598.4,49.6 L597.9,48.8 Z M597.7,59.0 L598.1,59.8 L598.7,50.4 L598.4,49.6 Z M598.1,59.8 L598.3,60.6 L599.0,51.2 L598.7,50.4 Z M598.3,60.6 L598.5,61.4 L599.1,52.0 L599.0,51.2 Z M598.5,61.4 L598.5,62.3 L599.1,52.8 L599.1,52.0 Z M598.5,62.3 L598.4,63.1 L599.0,53.6 L599.1,52.8 Z M598.4,63.1 L598.2,63.9 L598.9,54.5 L599.0,53.6 Z M598.2,63.9 L597.9,64.7 L598.6,55.2 L598.9,54.5 Z M597.9,64.7 L597.5,65.4 L598.2,56.0 L598.6,55.2 Z M597.5,65.4 L597.0,66.2 L597.6,56.7 L598.2,56.0 Z M597.0,66.2 L596.4,66.9 L597.0,57.4 L597.6,56.7 Z M596.4,66.9 L595.7,67.5 L596.3,58.1 L597.0,57.4 Z M595.7,67.5 L595.0,68.1 L595.6,58.7 L596.3,58.1 Z M595.0,68.1 L594.1,68.7 L594.7,59.3 L595.6,58.7 Z M594.1,68.7 L593.1,69.2 L593.8,59.8 L594.7,59.3 Z M593.1,69.2 L592.1,69.7 L592.7,60.2 L593.8,59.8 Z M592.1,69.7 L591.1,70.0 L591.7,60.6 L592.7,60.2 Z M591.1,70.0 L589.9,70.4 L590.5,60.9 L591.7,60.6 Z M589.9,70.4 L588.8,70.6 L589.4,61.2 L590.5,60.9 Z M588.8,70.6 L587.6,70.8 L588.2,61.4 L589.4,61.2 Z M587.6,70.8 L586.3,70.9 L586.9,61.5 L588.2,61.4 Z M586.3,70.9 L585.1,71.0 L585.7,61.5 L586.9,61.5 Z M585.1,71.0 L583.8,70.9 L584.4,61.5 L585.7,61.5 Z M583.8,70.9 L582.6,70.9 L583.2,61.4 L584.4,61.5 Z M582.6,70.9 L581.3,70.7 L582.0,61.2 L583.2,61.4 Z M581.3,70.7 L580.1,70.4 L580.7,61.0 L582.0,61.2 Z M580.1,70.4 L578.9,70.1 L579.5,60.7 L580.7,61.0 Z M578.9,70.1 L577.8,69.8 L578.4,60.3 L579.5,60.7 Z M577.8,69.8 L576.7,69.3 L577.3,59.9 L578.4,60.3 Z M576.7,69.3 L575.6,68.8 L576.2,59.4 L577.3,59.9 Z M575.6,68.8 L574.7,68.3 L575.3,58.9 L576.2,59.4 Z M574.7,68.3 L573.8,67.7 L574.4,58.3 L575.3,58.9 Z M573.8,67.7 L572.9,67.1 L573.5,57.6 L574.4,58.3 Z M572.9,67.1 L572.2,66.4 L572.8,56.9 L573.5,57.6 Z M572.2,66.4 L571.5,65.6 L572.1,56.2 L572.8,56.9 Z M571.5,65.6 L571.0,64.9 L571.6,55.4 L572.1,56.2 Z M571.0,64.9 L570.5,64.1 L571.1,54.7 L571.6,55.4 Z M570.5,64.1 L570.2,63.3 L570.8,53.9 L571.1,54.7 Z M570.2,63.3 L569.9,62.5 L570.5,53.1 L570.8,53.9 Z M569.9,62.5 L569.8,61.7 L570.4,52.2 L570.5,53.1 Z M569.8,61.7 L569.7,60.9 L570.4,51.4 L570.4,52.2 Z M569.7,60.9 L569.8,60.0 L570.4,50.6 L570.4,51.4 Z M569.8,60.0 L570.0,59.2 L570.6,49.8 L570.4,50.6 Z M570.0,59.2 L570.3,58.4 L570.9,49.0 L570.6,49.8 Z M570.3,58.4 L570.7,57.7 L571.3,48.2 L570.9,49.0 Z M570.7,57.7 L571.2,56.9 L571.8,47.5 L571.3,48.2 Z M571.2,56.9 L571.8,56.3 L572.4,46.8 L571.8,47.5 Z M571.8,56.3 L572.5,55.6 L573.1,46.2 L572.4,46.8 Z M572.5,55.6 L573.3,55.0 L573.9,45.5 L573.1,46.2 Z M573.3,55.0 L574.2,54.4 L574.8,45.0 L573.9,45.5 Z M574.2,54.4 L575.1,53.9 L575.7,44.5 L574.8,45.0 Z M575.1,53.9 L576.1,53.5 L576.7,44.0 L575.7,44.5 Z M576.1,53.5 L577.2,53.1 L577.8,43.6 L576.7,44.0 Z M577.2,53.1 L578.3,52.8 L578.9,43.3 L577.8,43.6 Z M578.3,52.8 L579.5,52.5 L580.1,43.1 L578.9,43.3 Z M579.5,52.5 L580.7,52.3 L581.3,42.9 L580.1,43.1 Z M580.7,52.3 L581.9,52.2 L582.5,42.8 L581.3,42.9 Z M581.9,52.2 L583.2,52.1 L583.8,42.7 L582.5,42.8 Z M583.2,52.1 L584.4,52.2 L585.0,42.7 L583.8,42.7 Z M584.4,52.2 L585.7,52.3 L586.3,42.8 L585.0,42.7 Z M585.7,52.3 L586.9,52.4 L587.5,43.0 L586.3,42.8 Z M586.9,52.4 L588.1,52.7 L588.7,43.2 L587.5,43.0 Z M588.1,52.7 L589.3,53.0 L589.9,43.5 L588.7,43.2 Z M589.3,53.0 L590.5,53.4 L591.1,43.9 L589.9,43.5 Z M590.5,53.4 L591.6,53.8 L592.2,44.3 L591.1,43.9 Z M591.6,53.8 L592.6,54.3 L593.2,44.8 L592.2,44.3 Z M592.6,54.3 L593.6,54.8 L594.2,45.4 L593.2,44.8 Z M593.6,54.8 L594.5,55.4 L595.1,46.0 L594.2,45.4 Z M594.5,55.4 L595.3,56.1 L595.9,46.6 L595.1,46.0 Z" fill="#fff" stroke="#fff" stroke-width="0.6"/>
<path d="M569.7,60.9 L570.4,51.4" fill="none" stroke="#111" stroke-width="1.0" stroke-linejoin="round"/>
<path d="M598.5,62.3 L599.1,52.8" fill="none" stroke="#111" stroke-width="1.0" stroke-linejoin="round"/>
<path d="M569.7,60.9 L569.8,61.7 L569.9,62.5 L570.2,63.3 L570.5,64.1 L571.0,64.9 L571.5,65.6 L572.2,66.4 L572.9,67.1 L573.8,67.7 L574.7,68.3 L575.6,68.8 L576.7,69.3 L577.8,69.8 L578.9,70.1 L580.1,70.4 L581.3,70.7 L582.6,70.9 L583.8,70.9 L585.1,71.0 L586.3,70.9 L587.6,70.8 L588.8,70.6 L589.9,70.4 L591.1,70.0 L592.1,69.7 L593.1,69.2 L594.1,68.7 L595.0,68.1 L595.7,67.5 L596.4,66.9 L597.0,66.2 L597.5,65.4 L597.9,64.7 L598.2,63.9 L598.4,63.1 L598.5,62.3" fill="none" stroke="#111" stroke-width="1.0" stroke-linejoin="round"/>
<path d="M595.7,46.7 L596.5,47.4 L597.1,48.1 L597.6,48.9 L598.1,49.6 L598.4,50.4 L598.7,51.2 L598.8,52.0 L598.8,52.8 L598.8,53.6 L598.6,54.4 L598.3,55.2 L597.9,55.9 L597.4,56.6 L596.8,57.3 L596.1,58.0 L595.4,58.6 L594.5,59.1 L593.6,59.6 L592.6,60.1 L591.5,60.4 L590.4,60.8 L589.3,61.0 L588.1,61.2 L586.9,61.3 L585.7,61.4 L584.4,61.3 L583.2,61.2 L582.0,61.1 L580.8,60.8 L579.6,60.5 L578.5,60.2 L577.4,59.8 L576.4,59.3 L575.5,58.7 L574.6,58.1 L573.7,57.5 L573.0,56.8 L572.4,56.1 L571.8,55.4 L571.4,54.6 L571.0,53.8 L570.8,53.0 L570.7,52.2 L570.6,51.4 L570.7,50.6 L570.9,49.8 L571.2,49.1 L571.6,48.3 L572.1,47.6 L572.7,46.9 L573.4,46.3 L574.1,45.7 L575.0,45.1 L575.9,44.6 L576.9,44.2 L577.9,43.8 L579.0,43.5 L580.2,43.2 L581.4,43.0 L582.6,42.9 L583.8,42.9 L585.0,42.9 L586.3,43.0 L587.5,43.2 L588.7,43.4 L589.8,43.7 L591.0,44.1 L592.0,44.5 L593.1,45.0 L594.0,45.5 L594.9,46.1 Z M596.2,39.6 L596.9,40.3 L597.6,41.0 L598.1,41.7 L598.6,42.5 L598.9,43.3 L599.1,44.1 L599.3,44.9 L599.3,45.7 L599.2,46.5 L599.0,47.3 L598.8,48.1 L598.4,48.8 L597.9,49.5 L597.3,50.2 L596.6,50.8 L595.8,51.4 L595.0,52.0 L594.0,52.5 L593.1,52.9 L592.0,53.3 L590.9,53.6 L589.8,53.9 L588.6,54.1 L587.4,54.2 L586.1,54.2 L584.9,54.2 L583.7,54.1 L582.5,53.9 L581.3,53.7 L580.1,53.4 L579.0,53.0 L577.9,52.6 L576.9,52.1 L575.9,51.6 L575.0,51.0 L574.2,50.4 L573.5,49.7 L572.8,49.0 L572.3,48.3 L571.8,47.5 L571.5,46.7 L571.3,45.9 L571.1,45.1 L571.1,44.3 L571.2,43.5 L571.4,42.7 L571.7,41.9 L572.0,41.2 L572.5,40.5 L573.1,39.8 L573.8,39.1 L574.6,38.5 L575.4,38.0 L576.4,37.5 L577.4,37.1 L578.4,36.7 L579.5,36.4 L580.7,36.1 L581.8,35.9 L583.0,35.8 L584.3,35.8 L585.5,35.8 L586.7,35.9 L587.9,36.0 L589.1,36.3 L590.3,36.6 L591.4,36.9 L592.5,37.4 L593.5,37.9 L594.5,38.4 L595.4,39.0 Z M595.7,46.7 L596.5,47.4 L596.9,40.3 L596.2,39.6 Z M596.5,47.4 L597.1,48.1 L597.6,41.0 L596.9,40.3 Z M597.1,48.1 L597.6,48.9 L598.1,41.7 L597.6,41.0 Z M597.6,48.9 L598.1,49.6 L598.6,42.5 L598.1,41.7 Z M598.1,49.6 L598.4,50.4 L598.9,43.3 L598.6,42.5 Z M598.4,50.4 L598.7,51.2 L599.1,44.1 L598.9,43.3 Z M598.7,51.2 L598.8,52.0 L599.3,44.9 L599.1,44.1 Z M598.8,52.0 L598.8,52.8 L599.3,45.7 L599.3,44.9 Z M598.8,52.8 L598.8,53.6 L599.2,46.5 L599.3,45.7 Z M598.8,53.6 L598.6,54.4 L599.0,47.3 L599.2,46.5 Z M598.6,54.4 L598.3,55.2 L598.8,48.1 L599.0,47.3 Z M598.3,55.2 L597.9,55.9 L598.4,48.8 L598.8,48.1 Z M597.9,55.9 L597.4,56.6 L597.9,49.5 L598.4,48.8 Z M597.4,56.6 L596.8,57.3 L597.3,50.2 L597.9,49.5 Z M596.8,57.3 L596.1,58.0 L596.6,50.8 L597.3,50.2 Z M596.1,58.0 L595.4,58.6 L595.8,51.4 L596.6,50.8 Z M595.4,58.6 L594.5,59.1 L595.0,52.0 L595.8,51.4 Z M594.5,59.1 L593.6,59.6 L594.0,52.5 L595.0,52.0 Z M593.6,59.6 L592.6,60.1 L593.1,52.9 L594.0,52.5 Z M592.6,60.1 L591.5,60.4 L592.0,53.3 L593.1,52.9 Z M591.5,60.4 L590.4,60.8 L590.9,53.6 L592.0,53.3 Z M590.4,60.8 L589.3,61.0 L589.8,53.9 L590.9,53.6 Z M589.3,61.0 L588.1,61.2 L588.6,54.1 L589.8,53.9 Z M588.1,61.2 L586.9,61.3 L587.4,54.2 L588.6,54.1 Z M586.9,61.3 L585.7,61.4 L586.1,54.2 L587.4,54.2 Z M585.7,61.4 L584.4,61.3 L584.9,54.2 L586.1,54.2 Z M584.4,61.3 L583.2,61.2 L583.7,54.1 L584.9,54.2 Z M583.2,61.2 L582.0,61.1 L582.5,53.9 L583.7,54.1 Z M582.0,61.1 L580.8,60.8 L581.3,53.7 L582.5,53.9 Z M580.8,60.8 L579.6,60.5 L580.1,53.4 L581.3,53.7 Z M579.6,60.5 L578.5,60.2 L579.0,53.0 L580.1,53.4 Z M578.5,60.2 L577.4,59.8 L577.9,52.6 L579.0,53.0 Z M577.4,59.8 L576.4,59.3 L576.9,52.1 L577.9,52.6 Z M576.4,59.3 L575.5,58.7 L575.9,51.6 L576.9,52.1 Z M575.5,58.7 L574.6,58.1 L575.0,51.0 L575.9,51.6 Z M574.6,58.1 L573.7,57.5 L574.2,50.4 L575.0,51.0 Z M573.7,57.5 L573.0,56.8 L573.5,49.7 L574.2,50.4 Z M573.0,56.8 L572.4,56.1 L572.8,49.0 L573.5,49.7 Z M572.4,56.1 L571.8,55.4 L572.3,48.3 L572.8,49.0 Z M571.8,55.4 L571.4,54.6 L571.8,47.5 L572.3,48.3 Z M571.4,54.6 L571.0,53.8 L571.5,46.7 L571.8,47.5 Z M571.0,53.8 L570.8,53.0 L571.3,45.9 L571.5,46.7 Z M570.8,53.0 L570.7,52.2 L571.1,45.1 L571.3,45.9 Z M570.7,52.2 L570.6,51.4 L571.1,44.3 L571.1,45.1 Z M570.6,51.4 L570.7,50.6 L571.2,43.5 L571.1,44.3 Z M570.7,50.6 L570.9,49.8 L571.4,42.7 L571.2,43.5 Z M570.9,49.8 L571.2,49.1 L571.7,41.9 L571.4,42.7 Z M571.2,49.1 L571.6,48.3 L572.0,41.2 L571.7,41.9 Z M571.6,48.3 L572.1,47.6 L572.5,40.5 L572.0,41.2 Z M572.1,47.6 L572.7,46.9 L573.1,39.8 L572.5,40.5 Z M572.7,46.9 L573.4,46.3 L573.8,39.1 L573.1,39.8 Z M573.4,46.3 L574.1,45.7 L574.6,38.5 L573.8,39.1 Z M574.1,45.7 L575.0,45.1 L575.4,38.0 L574.6,38.5 Z M575.0,45.1 L575.9,44.6 L576.4,37.5 L575.4,38.0 Z M575.9,44.6 L576.9,44.2 L577.4,37.1 L576.4,37.5 Z M576.9,44.2 L577.9,43.8 L578.4,36.7 L577.4,37.1 Z M577.9,43.8 L579.0,43.5 L579.5,36.4 L578.4,36.7 Z M579.0,43.5 L580.2,43.2 L580.7,36.1 L579.5,36.4 Z M580.2,43.2 L581.4,43.0 L581.8,35.9 L580.7,36.1 Z M581.4,43.0 L582.6,42.9 L583.0,35.8 L581.8,35.9 Z M582.6,42.9 L583.8,42.9 L584.3,35.8 L583.0,35.8 Z M583.8,42.9 L585.0,42.9 L585.5,35.8 L584.3,35.8 Z M585.0,42.9 L586.3,43.0 L586.7,35.9 L585.5,35.8 Z M586.3,43.0 L587.5,43.2 L587.9,36.0 L586.7,35.9 Z M587.5,43.2 L588.7,43.4 L589.1,36.3 L587.9,36.0 Z M588.7,43.4 L589.8,43.7 L590.3,36.6 L589.1,36.3 Z M589.8,43.7 L591.0,44.1 L591.4,36.9 L590.3,36.6 Z M591.0,44.1 L592.0,44.5 L592.5,37.4 L591.4,36.9 Z M592.0,44.5 L593.1,45.0 L593.5,37.9 L592.5,37.4 Z M593.1,45.0 L594.0,45.5 L594.5,38.4 L593.5,37.9 Z M594.0,45.5 L594.9,46.1 L595.4,39.0 L594.5,38.4 Z M594.9,46.1 L595.7,46.7 L596.2,39.6 L595.4,39.0 Z" fill="#fff" stroke="#fff" stroke-width="0.6"/>
<path d="M570.6,51.4 L571.1,44.3" fill="none" stroke="#111" stroke-width="1.0" stroke-linejoin="round"/>
<path d="M598.8,52.8 L599.3,45.7" fill="none" stroke="#111" stroke-width="1.0" stroke-linejoin="round"/>
<path d="M570.6,51.4 L570.7,52.2 L570.8,53.0 L571.0,53.8 L571.4,54.6 L571.8,55.4 L572.4,56.1 L573.0,56.8 L573.7,57.5 L574.6,58.1 L575.5,58.7 L576.4,59.3 L577.4,59.8 L578.5,60.2 L579.6,60.5 L580.8,60.8 L582.0,61.1 L583.2,61.2 L584.4,61.3 L585.7,61.4 L586.9,61.3 L588.1,61.2 L589.3,61.0 L590.4,60.8 L591.5,60.4 L592.6,60.1 L593.6,59.6 L594.5,59.1 L595.4,58.6 L596.1,58.0 L596.8,57.3 L597.4,56.6 L597.9,55.9 L598.3,55.2 L598.6,54.4 L598.8,53.6 L598.8,52.8" fill="none" stroke="#111" stroke-width="1.0" stroke-linejoin="round"/>
<path d="M596.2,39.6 L596.9,40.3 L597.6,41.0 L598.1,41.7 L598.6,42.5 L598.9,43.3 L599.1,44.1 L599.3,44.9 L599.3,45.7 L599.2,46.5 L599.0,47.3 L598.8,48.1 L598.4,48.8 L597.9,49.5 L597.3,50.2 L596.6,50.8 L595.8,51.4 L595.0,52.0 L594.0,52.5 L593.1,52.9 L592.0,53.3 L590.9,53.6 L589.8,53.9 L588.6,54.1 L587.4,54.2 L586.1,54.2 L584.9,54.2 L583.7,54.1 L582.5,53.9 L581.3,53.7 L580.1,53.4 L579.0,53.0 L577.9,52.6 L576.9,52.1 L575.9,51.6 L575.0,51.0 L574.2,50.4 L573.5,49.7 L572.8,49.0 L572.3,48.3 L571.8,47.5 L571.5,46.7 L571.3,45.9 L571.1,45.1 L571.1,44.3 L571.2,43.5 L571.4,42.7 L571.7,41.9 L572.0,41.2 L572.5,40.5 L573.1,39.8 L573.8,39.1 L574.6,38.5 L575.4,38.0 L576.4,37.5 L577.4,37.1 L578.4,36.7 L579.5,36.4 L580.7,36.1 L581.8,35.9 L583.0,35.8 L584.3,35.8 L585.5,35.8 L586.7,35.9 L587.9,36.0 L589.1,36.3 L590.3,36.6 L591.4,36.9 L592.5,37.4 L593.5,37.9 L594.5,38.4 L595.4,39.0 Z" fill="#fff" stroke="#111" stroke-width="1.0" stroke-linejoin="round"/>
<path d="M593.0,41.2 L593.5,41.7 L593.9,42.2 L594.3,42.7 L594.6,43.2 L594.9,43.8 L595.0,44.3 L595.1,44.9 L595.2,45.5 L595.1,46.1 L595.0,46.6 L594.8,47.2 L594.5,47.7 L594.1,48.2 L593.7,48.7 L593.2,49.1 L592.7,49.5 L592.1,49.9 L591.4,50.3 L590.7,50.6 L590.0,50.9 L589.2,51.1 L588.4,51.3 L587.6,51.4 L586.7,51.5 L585.9,51.5 L585.0,51.5 L584.1,51.4 L583.3,51.3 L582.4,51.1 L581.6,50.9 L580.8,50.7 L580.0,50.4 L579.3,50.0 L578.6,49.7 L578.0,49.2 L577.4,48.8 L576.9,48.3 L576.5,47.8 L576.1,47.3 L575.8,46.8 L575.5,46.2 L575.4,45.6 L575.3,45.1 L575.2,44.5 L575.3,43.9 L575.4,43.4 L575.6,42.8 L575.9,42.3 L576.3,41.8 L576.7,41.3 L577.2,40.9 L577.7,40.4 L578.3,40.1 L579.0,39.7 L579.7,39.4 L580.4,39.1 L581.2,38.9 L582.0,38.7 L582.8,38.6 L583.7,38.5 L584.5,38.5 L585.4,38.5 L586.3,38.6 L587.1,38.7 L588.0,38.8 L588.8,39.1 L589.6,39.3 L590.4,39.6 L591.1,40.0 L591.8,40.3 L592.4,40.7 Z" fill="none" stroke="#111" stroke-width="1.0" stroke-linejoin="round"/>
<path d="M594.5,40.5 L595.1,41.0 L595.6,41.6 L596.1,42.2 L596.5,42.9 L596.8,43.6 L597.0,44.2 L597.1,44.9 L597.1,45.6 L597.0,46.3 L596.9,46.9 L596.6,47.6 L596.3,48.2 L595.9,48.8 L595.4,49.4 L594.8,49.9 L594.2,50.4 L593.4,50.9 L592.7,51.3 L591.8,51.7 L590.9,52.0 L590.0,52.3 L589.0,52.5 L588.0,52.6 L587.0,52.7 L586.0,52.8 L585.0,52.8 L583.9,52.7 L582.9,52.5 L581.9,52.3 L580.9,52.1 L580.0,51.8 L579.0,51.4 L578.2,51.0 L577.4,50.6 L576.6,50.1 L575.9,49.5 L575.3,49.0 L574.8,48.4 L574.3,47.7 L573.9,47.1 L573.7,46.4 L573.4,45.8 L573.3,45.1 L573.3,44.4 L573.4,43.7 L573.5,43.1 L573.8,42.4 L574.1,41.8 L574.5,41.2 L575.0,40.6 L575.6,40.1 L576.3,39.6 L577.0,39.1 L577.7,38.7 L578.6,38.3 L579.5,38.0 L580.4,37.7 L581.4,37.5 L582.4,37.3 L583.4,37.2 L584.4,37.2 L585.4,37.2 L586.5,37.3 L587.5,37.4 L588.5,37.6 L589.5,37.9 L590.4,38.2 L591.4,38.6 L592.2,39.0 L593.0,39.4 L593.8,39.9 Z" fill="none" stroke="#111" stroke-width="1.0" stroke-linejoin="round"/>
<path d="M577.7,94.8 L585.0,101.2 L597.5,95.1 L590.2,88.7 Z M585.0,101.2 L594.6,109.2 L607.1,103.1 L597.5,95.1 Z M594.6,109.2 L602.2,114.5 L614.7,108.4 L607.1,103.1 Z M602.2,114.5 L608.4,118.2 L620.9,112.1 L614.7,108.4 Z M608.4,118.2 L614.4,122.9 L626.9,116.8 L620.9,112.1 Z M614.4,122.9 L618.9,128.3 L631.4,122.2 L626.9,116.8 Z M618.9,128.3 L621.7,134.5 L634.2,128.4 L631.4,122.2 Z M621.7,134.5 L622.2,140.1 L634.7,134.0 L634.2,128.4 Z M622.2,140.1 L621.3,143.9 L633.8,137.7 L634.7,134.0 Z M621.3,143.9 L619.2,147.2 L631.7,141.1 L633.8,137.7 Z M619.2,147.2 L617.8,153.1 L630.3,147.0 L631.7,141.1 Z M617.8,153.1 L617.5,162.5 L630.0,156.3 L630.3,147.0 Z M617.5,162.5 L617.3,173.2 L629.8,167.1 L630.0,156.3 Z M617.3,173.2 L616.2,182.6 L628.6,176.4 L629.8,167.1 Z M616.2,182.6 L615.3,190.9 L627.8,184.8 L628.6,176.4 Z M615.3,190.9 L616.5,198.3 L629.0,192.1 L627.8,184.8 Z M616.5,198.3 L617.8,205.9 L630.3,199.7 L629.0,192.1 Z M617.8,205.9 L617.4,212.0 L629.9,205.8 L630.3,199.7 Z M617.4,212.0 L615.3,215.9 L627.8,209.8 L629.9,205.8 Z M548.1,72.1 L551.3,71.0 L563.8,64.9 L560.6,65.9 Z M551.3,71.0 L556.0,73.2 L568.5,67.1 L563.8,64.9 Z M556.0,73.2 L560.7,77.7 L573.2,71.5 L568.5,67.1 Z M560.7,77.7 L569.5,86.4 L582.0,80.3 L573.2,71.5 Z M569.5,86.4 L577.7,94.8 L590.2,88.7 L582.0,80.3 Z " fill="#fff" stroke="#fff" stroke-width="0.6"/>
<path d="M590.2,88.7 L597.5,95.1 M597.5,95.1 L607.1,103.1 M607.1,103.1 L614.7,108.4 M614.7,108.4 L620.9,112.1 M620.9,112.1 L626.9,116.8 M626.9,116.8 L631.4,122.2 M631.4,122.2 L634.2,128.4 M634.2,128.4 L634.7,134.0 M634.7,134.0 L633.8,137.7 M633.8,137.7 L631.7,141.1 M631.7,141.1 L630.3,147.0 M630.3,147.0 L630.0,156.3 M630.0,156.3 L629.8,167.1 M629.8,167.1 L628.6,176.4 M628.6,176.4 L627.8,184.8 M627.8,184.8 L629.0,192.1 M629.0,192.1 L630.3,199.7 M630.3,199.7 L629.9,205.8 M629.9,205.8 L627.8,209.8 M560.6,65.9 L563.8,64.9 M563.8,64.9 L568.5,67.1 M568.5,67.1 L573.2,71.5 M573.2,71.5 L582.0,80.3 M582.0,80.3 L590.2,88.7 M615.3,215.9 L627.8,209.8 M548.1,72.1 L560.6,65.9" fill="none" stroke="#111" stroke-width="1.0" stroke-linecap="round"/>
<path d="M563.3,101.9 L570.6,108.3 L585.0,101.2 L577.7,94.8 Z M570.6,108.3 L580.1,116.3 L594.6,109.2 L585.0,101.2 Z M580.1,116.3 L587.8,121.6 L602.2,114.5 L594.6,109.2 Z M587.8,121.6 L593.9,125.3 L608.4,118.2 L602.2,114.5 Z M593.9,125.3 L600.0,130.0 L614.4,122.9 L608.4,118.2 Z M600.0,130.0 L604.4,135.4 L618.9,128.3 L614.4,122.9 Z M604.4,135.4 L607.2,141.6 L621.7,134.5 L618.9,128.3 Z M607.2,141.6 L607.8,147.2 L622.2,140.1 L621.7,134.5 Z M607.8,147.2 L606.9,150.9 L621.3,143.9 L622.2,140.1 Z M606.9,150.9 L604.8,154.3 L619.2,147.2 L621.3,143.9 Z M604.8,154.3 L603.4,160.2 L617.8,153.1 L619.2,147.2 Z M603.4,160.2 L603.0,169.5 L617.5,162.5 L617.8,153.1 Z M603.0,169.5 L602.8,180.3 L617.3,173.2 L617.5,162.5 Z M602.8,180.3 L601.7,189.6 L616.2,182.6 L617.3,173.2 Z M601.7,189.6 L600.9,198.0 L615.3,190.9 L616.2,182.6 Z M600.9,198.0 L602.0,205.3 L616.5,198.3 L615.3,190.9 Z M602.0,205.3 L603.4,212.9 L617.8,205.9 L616.5,198.3 Z M603.4,212.9 L603.0,219.0 L617.4,212.0 L617.8,205.9 Z M603.0,219.0 L600.9,223.0 L615.3,215.9 L617.4,212.0 Z M533.6,79.1 L536.9,78.1 L551.3,71.0 L548.1,72.1 Z M536.9,78.1 L541.5,80.3 L556.0,73.2 L551.3,71.0 Z M541.5,80.3 L546.3,84.7 L560.7,77.7 L556.0,73.2 Z M546.3,84.7 L555.0,93.5 L569.5,86.4 L560.7,77.7 Z M555.0,93.5 L563.3,101.9 L577.7,94.8 L569.5,86.4 Z " fill="#fff" stroke="#fff" stroke-width="0.6"/>
<path d="M577.7,94.8 L585.0,101.2 M585.0,101.2 L594.6,109.2 M594.6,109.2 L602.2,114.5 M602.2,114.5 L608.4,118.2 M608.4,118.2 L614.4,122.9 M614.4,122.9 L618.9,128.3 M618.9,128.3 L621.7,134.5 M621.7,134.5 L622.2,140.1 M622.2,140.1 L621.3,143.9 M621.3,143.9 L619.2,147.2 M619.2,147.2 L617.8,153.1 M617.8,153.1 L617.5,162.5 M617.5,162.5 L617.3,173.2 M617.3,173.2 L616.2,182.6 M616.2,182.6 L615.3,190.9 M615.3,190.9 L616.5,198.3 M616.5,198.3 L617.8,205.9 M617.8,205.9 L617.4,212.0 M617.4,212.0 L615.3,215.9 M548.1,72.1 L551.3,71.0 M551.3,71.0 L556.0,73.2 M556.0,73.2 L560.7,77.7 M560.7,77.7 L569.5,86.4 M569.5,86.4 L577.7,94.8 M600.9,223.0 L615.3,215.9 M533.6,79.1 L548.1,72.1" fill="none" stroke="#111" stroke-width="1.0" stroke-linecap="round"/>
<path d="M563.3,101.9 L570.6,108.3 L580.1,116.3 L587.8,121.6 L593.9,125.3 L600.0,130.0 L604.4,135.4 L607.2,141.6 L607.8,147.2 L606.9,150.9 L604.8,154.3 L603.4,160.2 L603.0,169.5 L602.8,180.3 L601.7,189.6 L600.9,198.0 L602.0,205.3 L603.4,212.9 L603.0,219.0 L600.9,223.0 L597.2,223.1 L594.1,220.8 L588.1,214.8 L582.2,207.5 L574.7,200.2 L565.1,191.9 L555.6,183.9 L547.9,178.4 L541.7,175.4 L535.6,171.1 L531.7,166.9 L528.8,161.3 L527.7,154.5 L528.3,149.2 L530.4,144.6 L532.4,139.8 L532.7,131.1 L532.8,120.9 L534.0,110.9 L534.8,102.0 L534.2,94.5 L532.8,88.1 L532.3,83.2 L533.6,79.1 L536.9,78.1 L541.5,80.3 L546.3,84.7 L555.0,93.5 Z" fill="#fff" stroke="#111" stroke-width="1.0" stroke-linejoin="round"/>
<path d="M599.8,135.3 L603.1,140.7 L602.8,145.5 L599.2,145.0 L595.9,139.7 L596.2,134.8 Z" fill="#fff" stroke="#111" stroke-width="1.1" stroke-linejoin="round"/>
<path d="M599.8,135.3 L603.0,133.8 L606.3,139.1 L606.0,143.9" fill="none" stroke="#111" stroke-width="0.8" stroke-linejoin="round"/>
<path d="M541.2,85.7 L544.5,91.0 L544.2,95.8 L540.6,95.3 L537.3,90.0 L537.6,85.1 Z" fill="#fff" stroke="#111" stroke-width="1.1" stroke-linejoin="round"/>
<path d="M541.2,85.7 L544.5,84.1 L547.8,89.4 L547.5,94.2" fill="none" stroke="#111" stroke-width="0.8" stroke-linejoin="round"/>
<path d="M595.2,205.9 L598.5,211.2 L598.2,216.0 L594.6,215.5 L591.3,210.2 L591.6,205.4 Z" fill="#fff" stroke="#111" stroke-width="1.1" stroke-linejoin="round"/>
<path d="M595.2,205.9 L598.5,204.3 L601.8,209.6 L601.5,214.5" fill="none" stroke="#111" stroke-width="0.8" stroke-linejoin="round"/>
<path d="M536.7,156.2 L540.0,161.5 L539.6,166.4 L536.0,165.8 L532.7,160.5 L533.1,155.7 Z" fill="#fff" stroke="#111" stroke-width="1.1" stroke-linejoin="round"/>
<path d="M536.7,156.2 L539.9,154.6 L543.2,159.9 L542.9,164.8" fill="none" stroke="#111" stroke-width="0.8" stroke-linejoin="round"/>
<path d="M601.9,182.3 L602.0,180.0 L604.2,178.9 L604.1,181.3 Z M602.0,180.0 L602.0,177.6 L604.2,176.5 L604.2,178.9 Z M602.0,177.6 L601.9,175.1 L604.1,174.0 L604.2,176.5 Z M601.9,175.1 L601.7,172.6 L603.9,171.5 L604.1,174.0 Z M601.7,172.6 L601.4,169.9 L603.6,168.9 L603.9,171.5 Z M601.4,169.9 L601.0,167.3 L603.2,166.2 L603.6,168.9 Z M601.0,167.3 L600.5,164.6 L602.7,163.5 L603.2,166.2 Z M600.5,164.6 L599.9,161.9 L602.1,160.8 L602.7,163.5 Z M599.9,161.9 L599.2,159.1 L601.4,158.0 L602.1,160.8 Z M599.2,159.1 L598.5,156.3 L600.6,155.2 L601.4,158.0 Z M598.5,156.3 L597.6,153.5 L599.8,152.4 L600.6,155.2 Z M597.6,153.5 L596.7,150.7 L598.8,149.6 L599.8,152.4 Z M596.7,150.7 L595.6,147.9 L597.8,146.8 L598.8,149.6 Z M595.6,147.9 L594.5,145.1 L596.7,144.1 L597.8,146.8 Z M594.5,145.1 L593.3,142.3 L595.5,141.3 L596.7,144.1 Z M593.3,142.3 L592.0,139.6 L594.2,138.5 L595.5,141.3 Z M592.0,139.6 L590.7,136.9 L592.8,135.8 L594.2,138.5 Z M590.7,136.9 L589.3,134.2 L591.4,133.1 L592.8,135.8 Z M589.3,134.2 L587.8,131.6 L589.9,130.5 L591.4,133.1 Z M587.8,131.6 L586.2,129.0 L588.4,128.0 L589.9,130.5 Z M586.2,129.0 L584.7,126.5 L586.8,125.4 L588.4,128.0 Z M584.7,126.5 L583.0,124.1 L585.2,123.0 L586.8,125.4 Z M583.0,124.1 L581.3,121.7 L583.5,120.6 L585.2,123.0 Z M581.3,121.7 L579.6,119.4 L581.7,118.4 L583.5,120.6 Z M579.6,119.4 L577.8,117.2 L579.9,116.2 L581.7,118.4 Z M577.8,117.2 L576.0,115.1 L578.1,114.1 L579.9,116.2 Z M576.0,115.1 L574.1,113.1 L576.3,112.1 L578.1,114.1 Z M574.1,113.1 L572.3,111.2 L574.4,110.2 L576.3,112.1 Z M572.3,111.2 L570.4,109.4 L572.6,108.4 L574.4,110.2 Z M570.4,109.4 L568.5,107.8 L570.7,106.7 L572.6,108.4 Z M568.5,107.8 L566.6,106.2 L568.8,105.2 L570.7,106.7 Z M566.6,106.2 L564.7,104.8 L566.9,103.7 L568.8,105.2 Z M564.7,104.8 L562.8,103.5 L565.0,102.4 L566.9,103.7 Z M562.8,103.5 L560.9,102.3 L563.1,101.3 L565.0,102.4 Z M560.9,102.3 L559.0,101.3 L561.2,100.2 L563.1,101.3 Z M559.0,101.3 L557.2,100.4 L559.3,99.4 L561.2,100.2 Z M557.2,100.4 L555.3,99.7 L557.5,98.6 L559.3,99.4 Z M555.3,99.7 L553.5,99.0 L555.7,98.0 L557.5,98.6 Z M553.5,99.0 L551.7,98.6 L553.9,97.5 L555.7,98.0 Z M551.7,98.6 L550.0,98.3 L552.2,97.2 L553.9,97.5 Z M550.0,98.3 L548.3,98.1 L550.5,97.0 L552.2,97.2 Z M548.3,98.1 L546.7,98.1 L548.8,97.0 L550.5,97.0 Z M546.7,98.1 L545.1,98.2 L547.2,97.1 L548.8,97.0 Z M545.1,98.2 L543.5,98.5 L545.7,97.4 L547.2,97.1 Z M543.5,98.5 L542.0,98.9 L544.2,97.8 L545.7,97.4 Z M542.0,98.9 L540.6,99.4 L542.8,98.4 L544.2,97.8 Z M590.7,203.8 L592.0,203.1 L594.2,202.0 L592.9,202.7 Z M592.0,203.1 L593.3,202.2 L595.5,201.2 L594.2,202.0 Z M593.3,202.2 L594.5,201.2 L596.7,200.2 L595.5,201.2 Z M594.5,201.2 L595.6,200.1 L597.8,199.1 L596.7,200.2 Z M595.6,200.1 L596.7,198.9 L598.8,197.8 L597.8,199.1 Z M596.7,198.9 L597.6,197.5 L599.8,196.4 L598.8,197.8 Z M597.6,197.5 L598.5,196.0 L600.6,194.9 L599.8,196.4 Z M598.5,196.0 L599.3,194.4 L601.4,193.3 L600.6,194.9 Z M599.3,194.4 L599.9,192.6 L602.1,191.6 L601.4,193.3 Z M599.9,192.6 L600.5,190.8 L602.7,189.7 L602.1,191.6 Z M600.5,190.8 L601.0,188.8 L603.2,187.8 L602.7,189.7 Z M601.0,188.8 L601.4,186.7 L603.6,185.7 L603.2,187.8 Z M601.4,186.7 L601.7,184.6 L603.9,183.5 L603.6,185.7 Z M601.7,184.6 L601.9,182.3 L604.1,181.3 L603.9,183.5 Z " fill="#fff" stroke="#fff" stroke-width="0.6"/>
<path d="M604.1,181.3 L604.2,178.9 M604.2,178.9 L604.2,176.5 M604.2,176.5 L604.1,174.0 M604.1,174.0 L603.9,171.5 M603.9,171.5 L603.6,168.9 M603.6,168.9 L603.2,166.2 M603.2,166.2 L602.7,163.5 M602.7,163.5 L602.1,160.8 M602.1,160.8 L601.4,158.0 M601.4,158.0 L600.6,155.2 M600.6,155.2 L599.8,152.4 M599.8,152.4 L598.8,149.6 M598.8,149.6 L597.8,146.8 M597.8,146.8 L596.7,144.1 M596.7,144.1 L595.5,141.3 M595.5,141.3 L594.2,138.5 M594.2,138.5 L592.8,135.8 M592.8,135.8 L591.4,133.1 M591.4,133.1 L589.9,130.5 M589.9,130.5 L588.4,128.0 M588.4,128.0 L586.8,125.4 M586.8,125.4 L585.2,123.0 M585.2,123.0 L583.5,120.6 M583.5,120.6 L581.7,118.4 M581.7,118.4 L579.9,116.2 M579.9,116.2 L578.1,114.1 M578.1,114.1 L576.3,112.1 M576.3,112.1 L574.4,110.2 M574.4,110.2 L572.6,108.4 M572.6,108.4 L570.7,106.7 M570.7,106.7 L568.8,105.2 M568.8,105.2 L566.9,103.7 M566.9,103.7 L565.0,102.4 M565.0,102.4 L563.1,101.3 M563.1,101.3 L561.2,100.2 M561.2,100.2 L559.3,99.4 M559.3,99.4 L557.5,98.6 M557.5,98.6 L555.7,98.0 M555.7,98.0 L553.9,97.5 M553.9,97.5 L552.2,97.2 M552.2,97.2 L550.5,97.0 M550.5,97.0 L548.8,97.0 M548.8,97.0 L547.2,97.1 M547.2,97.1 L545.7,97.4 M545.7,97.4 L544.2,97.8 M544.2,97.8 L542.8,98.4 M592.9,202.7 L594.2,202.0 M594.2,202.0 L595.5,201.2 M595.5,201.2 L596.7,200.2 M596.7,200.2 L597.8,199.1 M597.8,199.1 L598.8,197.8 M598.8,197.8 L599.8,196.4 M599.8,196.4 L600.6,194.9 M600.6,194.9 L601.4,193.3 M601.4,193.3 L602.1,191.6 M602.1,191.6 L602.7,189.7 M602.7,189.7 L603.2,187.8 M603.2,187.8 L603.6,185.7 M603.6,185.7 L603.9,183.5 M603.9,183.5 L604.1,181.3 M540.6,99.4 L542.8,98.4 M590.7,203.8 L592.9,202.7" fill="none" stroke="#111" stroke-width="1.0" stroke-linecap="round"/>
<path d="M584.1,246.6 L585.3,245.8 L606.8,235.2 L605.6,236.0 Z M585.3,245.8 L586.1,244.4 L607.6,233.8 L606.8,235.2 Z M586.1,244.4 L586.5,242.4 L608.0,231.9 L607.6,233.8 Z M586.5,242.4 L586.4,240.1 L607.9,229.5 L608.0,231.9 Z M586.4,240.1 L585.8,237.5 L607.4,227.0 L607.9,229.5 Z M585.8,237.5 L584.8,234.9 L606.4,224.3 L607.4,227.0 Z M584.8,234.9 L583.5,232.3 L605.0,221.8 L606.4,224.3 Z M583.5,232.3 L581.9,230.1 L603.4,219.5 L605.0,221.8 Z M581.9,230.1 L580.1,228.3 L601.6,217.7 L603.4,219.5 Z M580.1,228.3 L575.9,224.7 L597.5,214.2 L601.6,217.7 Z M575.9,224.7 L573.8,219.9 L595.4,209.3 L597.5,214.2 Z M573.8,219.9 L574.5,210.2 L596.0,199.7 L595.4,209.3 Z M574.5,210.2 L575.4,209.1 L596.9,198.6 L596.0,199.7 Z M575.4,209.1 L576.2,207.9 L597.7,197.3 L596.9,198.6 Z M576.2,207.9 L576.9,206.5 L598.5,196.0 L597.7,197.3 Z M576.9,206.5 L577.6,205.1 L599.2,194.6 L598.5,196.0 Z M577.6,205.1 L578.2,203.6 L599.8,193.0 L599.2,194.6 Z M578.2,203.6 L578.8,202.0 L600.3,191.4 L599.8,193.0 Z M578.8,202.0 L579.2,200.3 L600.8,189.7 L600.3,191.4 Z M579.2,200.3 L579.6,198.5 L601.2,188.0 L600.8,189.7 Z M579.6,198.5 L580.0,196.7 L601.5,186.1 L601.2,188.0 Z M580.0,196.7 L580.2,194.8 L601.7,184.2 L601.5,186.1 Z M580.2,194.8 L580.4,192.8 L601.9,182.2 L601.7,184.2 Z M580.4,192.8 L580.5,190.7 L602.0,180.2 L601.9,182.2 Z M580.5,190.7 L580.5,190.4 L602.0,179.8 L602.0,180.2 Z M580.5,190.4 L579.6,189.7 L601.1,179.1 L602.0,179.8 Z M579.6,189.7 L579.5,185.3 L601.0,174.8 L601.1,179.1 Z M580.4,185.9 L580.3,184.2 L601.8,173.6 L601.9,175.3 Z M580.3,184.2 L580.0,181.9 L601.6,171.4 L601.8,173.6 Z M580.0,181.9 L579.7,179.6 L601.3,169.0 L601.6,171.4 Z M579.7,179.6 L579.4,177.3 L600.9,166.7 L601.3,169.0 Z M579.4,177.3 L578.9,174.9 L600.5,164.3 L600.9,166.7 Z M578.9,174.9 L578.7,174.0 L600.3,163.4 L600.5,164.3 Z M578.7,174.0 L577.9,173.7 L599.5,163.2 L600.3,163.4 Z M577.9,173.7 L576.7,168.8 L598.3,158.2 L599.5,163.2 Z M577.5,169.0 L577.1,167.6 L598.7,157.0 L599.1,158.4 Z M577.1,167.6 L576.4,165.1 L597.9,154.6 L598.7,157.0 Z M576.4,165.1 L575.6,162.7 L597.1,152.1 L597.9,154.6 Z M575.6,162.7 L574.7,160.2 L596.3,149.6 L597.1,152.1 Z M574.7,160.2 L573.8,157.7 L595.3,147.2 L596.3,149.6 Z M573.8,157.7 L573.2,156.4 L594.8,145.8 L595.3,147.2 Z M573.2,156.4 L572.5,156.5 L594.1,145.9 L594.8,145.8 Z M572.5,156.5 L570.4,151.6 L591.9,141.0 L594.1,145.9 Z M571.0,151.3 L570.6,150.4 L592.1,139.8 L592.6,140.7 Z M570.6,150.4 L569.4,148.0 L591.0,137.4 L592.1,139.8 Z M569.4,148.0 L568.2,145.6 L589.7,135.1 L591.0,137.4 Z M568.2,145.6 L566.9,143.3 L588.5,132.8 L589.7,135.1 Z M566.9,143.3 L565.6,141.0 L587.1,130.5 L588.5,132.8 Z M565.6,141.0 L564.6,139.3 L586.1,128.8 L587.1,130.5 Z M564.1,139.9 L561.2,135.5 L582.7,124.9 L585.6,129.3 Z M561.2,135.5 L561.6,134.8 L583.1,124.3 L582.7,124.9 Z M561.6,134.8 L561.3,134.4 L582.9,123.9 L583.1,124.3 Z M561.3,134.4 L559.8,132.4 L581.4,121.8 L582.9,123.9 Z M559.8,132.4 L558.3,130.3 L579.9,119.8 L581.4,121.8 Z M558.3,130.3 L556.7,128.4 L578.3,117.8 L579.9,119.8 Z M556.7,128.4 L555.2,126.5 L576.7,116.0 L578.3,117.8 Z M555.2,126.5 L554.3,125.5 L575.8,114.9 L576.7,116.0 Z M554.0,126.4 L550.7,122.9 L572.3,112.3 L575.6,115.8 Z M550.7,122.9 L550.9,121.9 L572.4,111.4 L572.3,112.3 Z M550.9,121.9 L550.3,121.3 L571.8,110.8 L572.4,111.4 Z M550.3,121.3 L548.6,119.8 L570.2,109.2 L571.8,110.8 Z M548.6,119.8 L547.0,118.3 L568.5,107.8 L570.2,109.2 Z M547.0,118.3 L545.3,117.0 L566.8,106.4 L568.5,107.8 Z M545.3,117.0 L543.6,115.7 L565.2,105.1 L566.8,106.4 Z M543.6,115.7 L543.0,115.2 L564.5,104.7 L565.2,105.1 Z M543.0,116.4 L539.6,114.2 L561.2,103.6 L564.6,105.8 Z M539.6,114.2 L539.5,113.0 L561.1,102.4 L561.2,103.6 Z M539.5,113.0 L538.6,112.5 L560.1,101.9 L561.1,102.4 Z M538.6,112.5 L536.9,111.6 L558.5,101.0 L560.1,101.9 Z M536.9,111.6 L535.3,110.8 L556.9,100.3 L558.5,101.0 Z M535.3,110.8 L533.7,110.2 L555.2,99.6 L556.9,100.3 Z M533.7,110.2 L532.1,109.6 L553.7,99.1 L555.2,99.6 Z M532.1,109.6 L531.8,109.6 L553.4,99.0 L553.7,99.1 Z M532.1,110.8 L529.0,110.1 L550.5,99.6 L553.7,100.3 Z M529.0,110.1 L528.6,108.8 L550.2,98.3 L550.5,99.6 Z M528.6,108.8 L527.5,108.7 L549.0,98.1 L550.2,98.3 Z M527.5,108.7 L526.0,108.6 L547.6,98.1 L549.0,98.1 Z M526.0,108.6 L524.6,108.6 L546.1,98.1 L547.6,98.1 Z M524.6,108.6 L523.2,108.8 L544.7,98.2 L546.1,98.1 Z M523.2,108.8 L521.8,109.0 L543.4,98.5 L544.7,98.2 Z M521.8,109.0 L520.5,109.4 L542.1,98.8 L543.4,98.5 Z M520.5,109.4 L519.3,109.9 L540.8,99.3 L542.1,98.8 Z M512.4,118.2 L511.7,117.1 L533.2,106.5 L534.0,107.6 Z M509.0,129.8 L508.1,129.0 L529.6,118.4 L530.5,119.2 Z M510.4,166.1 L507.9,167.1 L529.5,156.5 L531.9,155.5 Z M507.9,167.1 L503.8,163.6 L525.3,153.0 L529.5,156.5 Z M503.8,163.6 L502.0,162.3 L523.5,151.8 L525.3,153.0 Z M502.0,162.3 L500.2,161.7 L521.8,151.2 L523.5,151.8 Z M500.2,161.7 L498.7,161.8 L520.3,151.3 L521.8,151.2 Z M512.6,188.5 L516.7,182.0 L538.2,171.4 L534.1,177.9 Z " fill="#fff" stroke="#fff" stroke-width="0.6"/>
<path d="M605.6,236.0 L606.8,235.2 M606.8,235.2 L607.6,233.8 M607.6,233.8 L608.0,231.9 M608.0,231.9 L607.9,229.5 M607.9,229.5 L607.4,227.0 M607.4,227.0 L606.4,224.3 M606.4,224.3 L605.0,221.8 M605.0,221.8 L603.4,219.5 M603.4,219.5 L601.6,217.7 M601.6,217.7 L597.5,214.2 M597.5,214.2 L595.4,209.3 M595.4,209.3 L596.0,199.7 M596.0,199.7 L596.9,198.6 M596.9,198.6 L597.7,197.3 M597.7,197.3 L598.5,196.0 M598.5,196.0 L599.2,194.6 M599.2,194.6 L599.8,193.0 M599.8,193.0 L600.3,191.4 M600.3,191.4 L600.8,189.7 M600.8,189.7 L601.2,188.0 M601.2,188.0 L601.5,186.1 M601.5,186.1 L601.7,184.2 M601.7,184.2 L601.9,182.2 M601.9,182.2 L602.0,180.2 M602.0,180.2 L602.0,179.8 M602.0,179.8 L601.1,179.1 M601.1,179.1 L601.0,174.8 M601.9,175.3 L601.8,173.6 M601.8,173.6 L601.6,171.4 M601.6,171.4 L601.3,169.0 M601.3,169.0 L600.9,166.7 M600.9,166.7 L600.5,164.3 M600.5,164.3 L600.3,163.4 M600.3,163.4 L599.5,163.2 M599.5,163.2 L598.3,158.2 M599.1,158.4 L598.7,157.0 M598.7,157.0 L597.9,154.6 M597.9,154.6 L597.1,152.1 M597.1,152.1 L596.3,149.6 M596.3,149.6 L595.3,147.2 M595.3,147.2 L594.8,145.8 M594.8,145.8 L594.1,145.9 M594.1,145.9 L591.9,141.0 M592.6,140.7 L592.1,139.8 M592.1,139.8 L591.0,137.4 M591.0,137.4 L589.7,135.1 M589.7,135.1 L588.5,132.8 M588.5,132.8 L587.1,130.5 M587.1,130.5 L586.1,128.8 M585.6,129.3 L582.7,124.9 M582.7,124.9 L583.1,124.3 M583.1,124.3 L582.9,123.9 M582.9,123.9 L581.4,121.8 M581.4,121.8 L579.9,119.8 M579.9,119.8 L578.3,117.8 M578.3,117.8 L576.7,116.0 M576.7,116.0 L575.8,114.9 M575.6,115.8 L572.3,112.3 M572.3,112.3 L572.4,111.4 M572.4,111.4 L571.8,110.8 M571.8,110.8 L570.2,109.2 M570.2,109.2 L568.5,107.8 M568.5,107.8 L566.8,106.4 M566.8,106.4 L565.2,105.1 M565.2,105.1 L564.5,104.7 M564.6,105.8 L561.2,103.6 M561.2,103.6 L561.1,102.4 M561.1,102.4 L560.1,101.9 M560.1,101.9 L558.5,101.0 M558.5,101.0 L556.9,100.3 M556.9,100.3 L555.2,99.6 M555.2,99.6 L553.7,99.1 M553.7,99.1 L553.4,99.0 M553.7,100.3 L550.5,99.6 M550.5,99.6 L550.2,98.3 M550.2,98.3 L549.0,98.1 M549.0,98.1 L547.6,98.1 M547.6,98.1 L546.1,98.1 M546.1,98.1 L544.7,98.2 M544.7,98.2 L543.4,98.5 M543.4,98.5 L542.1,98.8 M542.1,98.8 L540.8,99.3 M534.0,107.6 L533.2,106.5 M530.5,119.2 L529.6,118.4 M531.9,155.5 L529.5,156.5 M529.5,156.5 L525.3,153.0 M525.3,153.0 L523.5,151.8 M523.5,151.8 L521.8,151.2 M521.8,151.2 L520.3,151.3 M534.1,177.9 L538.2,171.4 M584.1,246.6 L605.6,236.0 M580.1,228.3 L601.6,217.7 M575.9,224.7 L597.5,214.2 M580.5,190.4 L602.0,179.8 M579.6,189.7 L601.1,179.1 M579.5,185.3 L601.0,174.8 M580.4,185.9 L601.9,175.3 M578.7,174.0 L600.3,163.4 M577.9,173.7 L599.5,163.2 M576.7,168.8 L598.3,158.2 M577.5,169.0 L599.1,158.4 M573.2,156.4 L594.8,145.8 M572.5,156.5 L594.1,145.9 M570.4,151.6 L591.9,141.0 M571.0,151.3 L592.6,140.7 M564.6,139.3 L586.1,128.8 M564.1,139.9 L585.6,129.3 M561.2,135.5 L582.7,124.9 M561.6,134.8 L583.1,124.3 M554.3,125.5 L575.8,114.9 M554.0,126.4 L575.6,115.8 M550.7,122.9 L572.3,112.3 M550.9,121.9 L572.4,111.4 M543.0,115.2 L564.5,104.7 M543.0,116.4 L564.6,105.8 M539.6,114.2 L561.2,103.6 M539.5,113.0 L561.1,102.4 M531.8,109.6 L553.4,99.0 M532.1,110.8 L553.7,100.3 M529.0,110.1 L550.5,99.6 M528.6,108.8 L550.2,98.3 M519.3,109.9 L540.8,99.3 M512.4,118.2 L534.0,107.6 M511.7,117.1 L533.2,106.5 M509.0,129.8 L530.5,119.2 M508.1,129.0 L529.6,118.4 M510.4,166.1 L531.9,155.5 M507.9,167.1 L529.5,156.5 M498.7,161.8 L520.3,151.3 M512.6,188.5 L534.1,177.9 M516.7,182.0 L538.2,171.4" fill="none" stroke="#111" stroke-width="1.0" stroke-linecap="round"/>
<path d="M569.1,236.5 L579.0,244.8 L580.8,246.1 L582.5,246.7 L584.1,246.6 L585.3,245.8 L586.1,244.4 L586.5,242.4 L586.4,240.1 L585.8,237.5 L584.8,234.9 L583.5,232.3 L581.9,230.1 L580.1,228.3 L575.9,224.7 L573.8,219.9 L574.5,210.2 L575.4,209.1 L576.2,207.9 L576.9,206.5 L577.6,205.1 L578.2,203.6 L578.8,202.0 L579.2,200.3 L579.6,198.5 L580.0,196.7 L580.2,194.8 L580.4,192.8 L580.5,190.7 L580.5,190.4 L579.6,189.7 L579.5,185.3 L580.4,185.9 L580.3,184.2 L580.0,181.9 L579.7,179.6 L579.4,177.3 L578.9,174.9 L578.7,174.0 L577.9,173.7 L576.7,168.8 L577.5,169.0 L577.1,167.6 L576.4,165.1 L575.6,162.7 L574.7,160.2 L573.8,157.7 L573.2,156.4 L572.5,156.5 L570.4,151.6 L571.0,151.3 L570.6,150.4 L569.4,148.0 L568.2,145.6 L566.9,143.3 L565.6,141.0 L564.6,139.3 L564.1,139.9 L561.2,135.5 L561.6,134.8 L561.3,134.4 L559.8,132.4 L558.3,130.3 L556.7,128.4 L555.2,126.5 L554.3,125.5 L554.0,126.4 L550.7,122.9 L550.9,121.9 L550.3,121.3 L548.6,119.8 L547.0,118.3 L545.3,117.0 L543.6,115.7 L543.0,115.2 L543.0,116.4 L539.6,114.2 L539.5,113.0 L538.6,112.5 L536.9,111.6 L535.3,110.8 L533.7,110.2 L532.1,109.6 L531.8,109.6 L532.1,110.8 L529.0,110.1 L528.6,108.8 L527.5,108.7 L526.0,108.6 L524.6,108.6 L523.2,108.8 L521.8,109.0 L520.5,109.4 L519.3,109.9 L518.1,110.5 L516.9,111.2 L515.9,112.0 L514.8,112.9 L513.9,113.9 L513.4,114.5 L514.1,115.7 L512.4,118.2 L511.7,117.1 L511.4,117.6 L510.7,119.0 L510.1,120.5 L509.5,122.1 L509.0,123.8 L508.7,125.1 L509.6,126.0 L509.0,129.8 L508.1,129.0 L508.1,129.3 L507.9,131.3 L507.8,133.3 L507.8,135.4 L507.8,137.6 L508.0,139.8 L508.2,142.1 L508.5,144.4 L508.8,146.8 L509.3,149.1 L509.8,151.5 L510.4,154.0 L511.0,156.4 L510.4,166.1 L507.9,167.1 L503.8,163.6 L502.0,162.3 L500.2,161.7 L498.7,161.8 L497.5,162.6 L496.7,164.0 L496.3,166.0 L496.4,168.3 L497.0,170.9 L498.0,173.5 L499.3,176.1 L500.9,178.3 L502.7,180.1 L512.6,188.5 L516.7,182.0 L566.3,224.1 Z" fill="#fff" stroke="#111" stroke-width="1.0" stroke-linejoin="round"/>
<path d="M553.6,124.8 L551.6,122.6 L573.1,112.1 L575.2,114.2 Z" fill="#6a6a6a" stroke="#222" stroke-width="0.5"/>
<path d="M542.3,114.7 L540.2,113.4 L561.8,102.8 L563.8,104.2 Z" fill="#6a6a6a" stroke="#222" stroke-width="0.5"/>
<path d="M564.0,138.4 L562.2,135.7 L583.8,125.2 L585.5,127.9 Z" fill="#6a6a6a" stroke="#222" stroke-width="0.5"/>
<path d="M531.2,109.4 L529.2,109.0 L550.8,98.4 L552.7,98.8 Z" fill="#6a6a6a" stroke="#222" stroke-width="0.5"/>
<path d="M572.8,155.3 L571.5,152.3 L593.0,141.7 L594.4,144.8 Z" fill="#6a6a6a" stroke="#222" stroke-width="0.5"/>
<path d="M578.5,173.0 L577.8,170.0 L599.3,159.4 L600.1,162.4 Z" fill="#6a6a6a" stroke="#222" stroke-width="0.5"/>
<path d="M580.5,189.5 L580.4,186.8 L602.0,176.2 L602.0,178.9 Z" fill="#6a6a6a" stroke="#222" stroke-width="0.5"/>
<path d="M546.7,122.3 L549.6,124.9 L552.4,127.8 L555.1,130.9 L557.8,134.3 L560.4,137.9 L562.8,141.6 L565.1,145.5 L567.3,149.6 L569.2,153.7 L571.0,158.0 L572.6,162.2 L573.9,166.4 L575.1,170.6 L576.0,174.8 L576.6,178.8 L577.0,182.8 L577.2,186.5 L577.1,190.1 L576.7,193.5 L576.1,196.6 L575.3,199.5 L574.2,202.0 L572.9,204.3 L571.4,206.3 L569.6,207.9 L567.7,209.2 L565.6,210.1 L563.3,210.6 L560.9,210.8 L558.4,210.6 L555.7,210.1 L553.0,209.2 L550.1,207.9 L547.3,206.2 L544.4,204.3 L541.5,202.0 L538.7,199.4 L535.8,196.5 L533.1,193.4 L530.4,190.0 L527.8,186.5 L525.4,182.7 L523.1,178.8 L521.0,174.7 L519.0,170.6 L517.2,166.4 L515.6,162.1 L514.3,157.9 L513.2,153.7 L512.3,149.5 L511.6,145.5 L511.2,141.5 L511.1,137.8 L511.2,134.2 L511.5,130.8 L512.1,127.7 L513.0,124.8 L514.0,122.3 L515.3,120.0 L516.9,118.0 L518.6,116.4 L520.5,115.1 L522.6,114.2 L524.9,113.7 L527.3,113.5 L529.9,113.7 L532.5,114.2 L535.3,115.2 L538.1,116.4 L540.9,118.1 L543.8,120.0 Z" fill="none" stroke="#111" stroke-width="1.0" stroke-linejoin="round"/>
<path d="M567.9,218.0 L568.2,218.2 L568.5,218.5 L568.8,218.8 L569.0,219.2 L569.3,219.5 L569.5,219.9 L569.8,220.3 L570.0,220.7 L570.2,221.1 L570.4,221.5 L570.5,222.0 L570.7,222.4 L570.8,222.8 L570.9,223.2 L570.9,223.6 L571.0,224.0 L571.0,224.4 L571.0,224.8 L570.9,225.1 L570.9,225.4 L570.8,225.7 L570.7,226.0 L570.6,226.2 L570.4,226.4 L570.2,226.5 L570.0,226.7 L569.8,226.8 L569.6,226.8 L569.4,226.8 L569.1,226.8 L568.8,226.8 L568.6,226.7 L568.3,226.5 L568.0,226.4 L567.7,226.2 L567.4,225.9 L567.1,225.7 L566.9,225.4 L566.6,225.1 L566.3,224.8 L566.1,224.4 L565.8,224.0 L565.6,223.6 L565.4,223.2 L565.2,222.8 L565.0,222.4 L564.8,222.0 L564.7,221.5 L564.6,221.1 L564.5,220.7 L564.4,220.3 L564.4,219.9 L564.4,219.5 L564.4,219.2 L564.4,218.8 L564.5,218.5 L564.6,218.2 L564.7,218.0 L564.8,217.7 L565.0,217.6 L565.1,217.4 L565.3,217.3 L565.5,217.2 L565.8,217.1 L566.0,217.1 L566.3,217.1 L566.5,217.2 L566.8,217.3 L567.1,217.4 L567.4,217.6 L567.6,217.8 Z" fill="#fff" stroke="#111" stroke-width="1.0" stroke-linejoin="round"/>
<path d="M515.9,173.8 L516.2,174.1 L516.5,174.4 L516.8,174.7 L517.0,175.0 L517.3,175.4 L517.5,175.8 L517.8,176.2 L518.0,176.6 L518.2,177.0 L518.3,177.4 L518.5,177.8 L518.6,178.3 L518.8,178.7 L518.8,179.1 L518.9,179.5 L518.9,179.9 L519.0,180.3 L519.0,180.6 L518.9,181.0 L518.9,181.3 L518.8,181.6 L518.7,181.8 L518.5,182.0 L518.4,182.2 L518.2,182.4 L518.0,182.5 L517.8,182.6 L517.6,182.7 L517.3,182.7 L517.1,182.7 L516.8,182.6 L516.5,182.5 L516.3,182.4 L516.0,182.2 L515.7,182.0 L515.4,181.8 L515.1,181.6 L514.8,181.3 L514.6,181.0 L514.3,180.6 L514.0,180.3 L513.8,179.9 L513.6,179.5 L513.3,179.1 L513.1,178.7 L513.0,178.3 L512.8,177.8 L512.7,177.4 L512.6,177.0 L512.5,176.6 L512.4,176.2 L512.4,175.8 L512.4,175.4 L512.4,175.0 L512.4,174.7 L512.5,174.4 L512.5,174.1 L512.6,173.8 L512.8,173.6 L512.9,173.4 L513.1,173.3 L513.3,173.1 L513.5,173.0 L513.7,173.0 L514.0,173.0 L514.2,173.0 L514.5,173.0 L514.8,173.1 L515.1,173.3 L515.3,173.4 L515.6,173.6 Z" fill="#fff" stroke="#111" stroke-width="1.0" stroke-linejoin="round"/>
<path d="M595.8,222.9 L596.0,223.1 L596.2,223.3 L596.4,223.5 L596.5,223.7 L596.6,224.0 L596.7,224.2 L596.7,224.4 L596.7,224.7 L596.7,224.9 L596.7,225.1 L596.6,225.4 L596.5,225.6 L596.3,225.8 L596.1,226.0 L595.9,226.2 L595.7,226.4 L595.5,226.5 L595.2,226.7 L594.9,226.8 L594.6,226.9 L594.3,227.0 L593.9,227.1 L593.6,227.1 L593.2,227.2 L592.9,227.2 L592.5,227.2 L592.1,227.1 L591.8,227.1 L591.4,227.0 L591.1,226.9 L590.8,226.8 L590.4,226.7 L590.1,226.6 L589.9,226.4 L589.6,226.2 L589.3,226.1 L589.1,225.9 L588.9,225.6 L588.8,225.4 L588.7,225.2 L588.6,225.0 L588.5,224.7 L588.4,224.5 L588.4,224.3 L588.5,224.0 L588.5,223.8 L588.6,223.6 L588.7,223.3 L588.9,223.1 L589.0,222.9 L589.2,222.7 L589.5,222.6 L589.7,222.4 L590.0,222.3 L590.3,222.1 L590.6,222.0 L590.9,221.9 L591.2,221.9 L591.6,221.8 L591.9,221.8 L592.3,221.8 L592.7,221.8 L593.0,221.8 L593.4,221.8 L593.7,221.9 L594.1,222.0 L594.4,222.1 L594.7,222.2 L595.0,222.4 L595.3,222.5 L595.6,222.7 Z" fill="#fff" stroke="#111" stroke-width="1.0" stroke-linejoin="round"/>
<path d="M516.1,155.2 L516.3,155.4 L516.5,155.6 L516.6,155.8 L516.7,156.1 L516.8,156.3 L516.9,156.5 L517.0,156.8 L517.0,157.0 L516.9,157.2 L516.9,157.5 L516.8,157.7 L516.7,157.9 L516.5,158.1 L516.4,158.3 L516.2,158.5 L515.9,158.7 L515.7,158.9 L515.4,159.0 L515.1,159.1 L514.8,159.2 L514.5,159.3 L514.2,159.4 L513.8,159.5 L513.5,159.5 L513.1,159.5 L512.7,159.5 L512.4,159.5 L512.0,159.4 L511.7,159.4 L511.3,159.3 L511.0,159.2 L510.7,159.0 L510.4,158.9 L510.1,158.7 L509.8,158.6 L509.6,158.4 L509.4,158.2 L509.2,158.0 L509.0,157.8 L508.9,157.5 L508.8,157.3 L508.7,157.1 L508.7,156.8 L508.7,156.6 L508.7,156.4 L508.7,156.1 L508.8,155.9 L508.9,155.7 L509.1,155.5 L509.3,155.3 L509.5,155.1 L509.7,154.9 L509.9,154.7 L510.2,154.6 L510.5,154.5 L510.8,154.4 L511.1,154.3 L511.5,154.2 L511.8,154.1 L512.2,154.1 L512.5,154.1 L512.9,154.1 L513.3,154.1 L513.6,154.2 L514.0,154.2 L514.3,154.3 L514.6,154.4 L515.0,154.6 L515.3,154.7 L515.6,154.9 L515.8,155.0 Z" fill="#fff" stroke="#111" stroke-width="1.0" stroke-linejoin="round"/>
<path d="M528.6,218.2 L528.7,215.9 L580.5,190.6 L580.4,192.9 Z M528.7,215.9 L528.7,213.5 L580.5,188.1 L580.5,190.6 Z M528.7,213.5 L528.6,211.0 L580.4,185.7 L580.5,188.1 Z M528.6,211.0 L528.4,208.5 L580.2,183.1 L580.4,185.7 Z M528.4,208.5 L528.1,205.8 L579.9,180.5 L580.2,183.1 Z M528.1,205.8 L527.7,203.2 L579.5,177.8 L579.9,180.5 Z M527.7,203.2 L527.2,200.5 L579.0,175.1 L579.5,177.8 Z M527.2,200.5 L526.7,197.8 L578.4,172.4 L579.0,175.1 Z M526.7,197.8 L526.0,195.0 L577.7,169.6 L578.4,172.4 Z M526.0,195.0 L525.2,192.2 L576.9,166.9 L577.7,169.6 Z M525.2,192.2 L524.3,189.4 L576.1,164.1 L576.9,166.9 Z M524.3,189.4 L523.4,186.6 L575.1,161.3 L576.1,164.1 Z M523.4,186.6 L522.3,183.8 L574.1,158.5 L575.1,161.3 Z M522.3,183.8 L521.2,181.0 L572.9,155.7 L574.1,158.5 Z M521.2,181.0 L520.0,178.2 L571.8,152.9 L572.9,155.7 Z M520.0,178.2 L518.8,175.5 L570.5,150.2 L571.8,152.9 Z M518.8,175.5 L517.4,172.8 L569.1,147.4 L570.5,150.2 Z M517.4,172.8 L516.0,170.1 L567.7,144.8 L569.1,147.4 Z M516.0,170.1 L514.5,167.5 L566.2,142.1 L567.7,144.8 Z M514.5,167.5 L513.0,164.9 L564.7,139.6 L566.2,142.1 Z M513.0,164.9 L511.4,162.4 L563.1,137.1 L564.7,139.6 Z M511.4,162.4 L509.7,160.0 L561.5,134.6 L563.1,137.1 Z M509.7,160.0 L508.0,157.6 L559.8,132.3 L561.5,134.6 Z M508.0,157.6 L506.3,155.3 L558.0,130.0 L559.8,132.3 Z M506.3,155.3 L504.5,153.1 L556.2,127.8 L558.0,130.0 Z M504.5,153.1 L502.7,151.0 L554.4,125.7 L556.2,127.8 Z M502.7,151.0 L500.9,149.0 L552.6,123.7 L554.4,125.7 Z M500.9,149.0 L499.0,147.1 L550.7,121.8 L552.6,123.7 Z M499.0,147.1 L497.1,145.3 L548.9,120.0 L550.7,121.8 Z M497.1,145.3 L495.2,143.7 L547.0,118.3 L548.9,120.0 Z M495.2,143.7 L493.3,142.1 L545.1,116.8 L547.0,118.3 Z M493.3,142.1 L491.4,140.7 L543.2,115.4 L545.1,116.8 Z M491.4,140.7 L489.5,139.4 L541.3,114.1 L543.2,115.4 Z M489.5,139.4 L487.6,138.2 L539.4,112.9 L541.3,114.1 Z M487.6,138.2 L485.8,137.2 L537.5,111.9 L539.4,112.9 Z M485.8,137.2 L483.9,136.3 L535.6,111.0 L537.5,111.9 Z M483.9,136.3 L482.1,135.6 L533.8,110.2 L535.6,111.0 Z M482.1,135.6 L480.3,135.0 L532.0,109.6 L533.8,110.2 Z M480.3,135.0 L478.5,134.5 L530.2,109.1 L532.0,109.6 Z M478.5,134.5 L476.7,134.2 L528.5,108.8 L530.2,109.1 Z M476.7,134.2 L475.0,134.0 L526.8,108.7 L528.5,108.8 Z M475.0,134.0 L473.4,134.0 L525.1,108.6 L526.8,108.7 Z M473.4,134.0 L471.8,134.1 L523.5,108.7 L525.1,108.6 Z M471.8,134.1 L470.3,134.4 L522.0,109.0 L523.5,108.7 Z M470.3,134.4 L468.8,134.8 L520.5,109.4 L522.0,109.0 Z M468.8,134.8 L467.4,135.3 L519.1,110.0 L520.5,109.4 Z M517.4,239.7 L518.8,239.0 L570.5,213.6 L569.1,214.3 Z M518.8,239.0 L520.0,238.1 L571.8,212.8 L570.5,213.6 Z M520.0,238.1 L521.2,237.2 L573.0,211.8 L571.8,212.8 Z M521.2,237.2 L522.4,236.0 L574.1,210.7 L573.0,211.8 Z M522.4,236.0 L523.4,234.8 L575.1,209.4 L574.1,210.7 Z M523.4,234.8 L524.3,233.4 L576.1,208.1 L575.1,209.4 Z M524.3,233.4 L525.2,231.9 L576.9,206.6 L576.1,208.1 Z M525.2,231.9 L526.0,230.3 L577.7,204.9 L576.9,206.6 Z M526.0,230.3 L526.7,228.5 L578.4,203.2 L577.7,204.9 Z M526.7,228.5 L527.3,226.7 L579.0,201.3 L578.4,203.2 Z M527.3,226.7 L527.7,224.7 L579.5,199.4 L579.0,201.3 Z M527.7,224.7 L528.1,222.7 L579.9,197.3 L579.5,199.4 Z M528.1,222.7 L528.4,220.5 L580.2,195.1 L579.9,197.3 Z M528.4,220.5 L528.6,218.2 L580.4,192.9 L580.2,195.1 Z " fill="#fff" stroke="#fff" stroke-width="0.6"/>
<path d="M580.4,192.9 L580.5,190.6 M580.5,190.6 L580.5,188.1 M580.5,188.1 L580.4,185.7 M580.4,185.7 L580.2,183.1 M580.2,183.1 L579.9,180.5 M579.9,180.5 L579.5,177.8 M579.5,177.8 L579.0,175.1 M579.0,175.1 L578.4,172.4 M578.4,172.4 L577.7,169.6 M577.7,169.6 L576.9,166.9 M576.9,166.9 L576.1,164.1 M576.1,164.1 L575.1,161.3 M575.1,161.3 L574.1,158.5 M574.1,158.5 L572.9,155.7 M572.9,155.7 L571.8,152.9 M571.8,152.9 L570.5,150.2 M570.5,150.2 L569.1,147.4 M569.1,147.4 L567.7,144.8 M567.7,144.8 L566.2,142.1 M566.2,142.1 L564.7,139.6 M564.7,139.6 L563.1,137.1 M563.1,137.1 L561.5,134.6 M561.5,134.6 L559.8,132.3 M559.8,132.3 L558.0,130.0 M558.0,130.0 L556.2,127.8 M556.2,127.8 L554.4,125.7 M554.4,125.7 L552.6,123.7 M552.6,123.7 L550.7,121.8 M550.7,121.8 L548.9,120.0 M548.9,120.0 L547.0,118.3 M547.0,118.3 L545.1,116.8 M545.1,116.8 L543.2,115.4 M543.2,115.4 L541.3,114.1 M541.3,114.1 L539.4,112.9 M539.4,112.9 L537.5,111.9 M537.5,111.9 L535.6,111.0 M535.6,111.0 L533.8,110.2 M533.8,110.2 L532.0,109.6 M532.0,109.6 L530.2,109.1 M530.2,109.1 L528.5,108.8 M528.5,108.8 L526.8,108.7 M526.8,108.7 L525.1,108.6 M525.1,108.6 L523.5,108.7 M523.5,108.7 L522.0,109.0 M522.0,109.0 L520.5,109.4 M520.5,109.4 L519.1,110.0 M569.1,214.3 L570.5,213.6 M570.5,213.6 L571.8,212.8 M571.8,212.8 L573.0,211.8 M573.0,211.8 L574.1,210.7 M574.1,210.7 L575.1,209.4 M575.1,209.4 L576.1,208.1 M576.1,208.1 L576.9,206.6 M576.9,206.6 L577.7,204.9 M577.7,204.9 L578.4,203.2 M578.4,203.2 L579.0,201.3 M579.0,201.3 L579.5,199.4 M579.5,199.4 L579.9,197.3 M579.9,197.3 L580.2,195.1 M580.2,195.1 L580.4,192.9 M467.4,135.3 L519.1,110.0 M517.4,239.7 L569.1,214.3" fill="none" stroke="#111" stroke-width="1.0" stroke-linecap="round"/>
<path d="M473.4,134.0 L525.1,108.6" fill="none" stroke="#111" stroke-width="0.8" stroke-linejoin="round"/>
<path d="M483.9,136.3 L535.6,111.0" fill="none" stroke="#111" stroke-width="0.8" stroke-linejoin="round"/>
<path d="M495.9,144.2 L547.6,118.9" fill="none" stroke="#111" stroke-width="0.8" stroke-linejoin="round"/>
<path d="M501.2,149.4 L553.0,124.1" fill="none" stroke="#111" stroke-width="0.8" stroke-linejoin="round"/>
<path d="M508.8,158.6 L560.5,133.3" fill="none" stroke="#111" stroke-width="0.8" stroke-linejoin="round"/>
<path d="M511.8,163.0 L563.5,137.6" fill="none" stroke="#111" stroke-width="0.8" stroke-linejoin="round"/>
<path d="M517.8,173.6 L569.5,148.2" fill="none" stroke="#111" stroke-width="0.8" stroke-linejoin="round"/>
<path d="M521.6,182.0 L573.4,156.7" fill="none" stroke="#111" stroke-width="0.8" stroke-linejoin="round"/>
<path d="M524.1,188.8 L575.8,163.4" fill="none" stroke="#111" stroke-width="0.8" stroke-linejoin="round"/>
<path d="M527.4,201.0 L579.1,175.7" fill="none" stroke="#111" stroke-width="0.8" stroke-linejoin="round"/>
<path d="M528.1,205.7 L579.8,180.3" fill="none" stroke="#111" stroke-width="0.8" stroke-linejoin="round"/>
<path d="M528.7,216.3 L580.4,191.0" fill="none" stroke="#111" stroke-width="0.8" stroke-linejoin="round"/>
<path d="M528.5,220.3 L580.2,195.0" fill="none" stroke="#111" stroke-width="0.8" stroke-linejoin="round"/>
<path d="M526.4,229.1 L578.2,203.8" fill="none" stroke="#111" stroke-width="0.8" stroke-linejoin="round"/>
<path d="M525.5,231.4 L577.2,206.0" fill="none" stroke="#111" stroke-width="0.8" stroke-linejoin="round"/>
<path d="M437,178 C441,177.5 445,179 446,183 L447,214 C446,218 444,219 442.8,217.9 C439.3,216.7 436,213.5 432.4,210.9 C429.5,208.5 427.7,206.3 427,204 C426,201.7 426,196 426,192.4 C426.2,188 426.5,185 427.7,182 C429,179.5 431,178.5 432.4,178.3 Z" fill="#fff" stroke="#111" stroke-width="1"/>
<path d="M427.5,184 C430,189 433,193 435.8,194.7 C437.5,196 439,196.8 440.5,197" fill="none" stroke="#111" stroke-width="0.9"/>
<ellipse cx="443.4" cy="207.5" rx="3.2" ry="4.8" transform="rotate(-15 443.4 207.5)" fill="#fff" stroke="#111" stroke-width="1"/>
<path d="M514.7,280.6 L515.9,279.8 L533.6,271.1 L532.3,271.9 Z M515.9,279.8 L516.7,278.4 L534.4,269.7 L533.6,271.1 Z M516.7,278.4 L517.1,276.4 L534.8,267.8 L534.4,269.7 Z M517.1,276.4 L517.0,274.1 L534.7,265.4 L534.8,267.8 Z M517.0,274.1 L516.4,271.5 L534.1,262.9 L534.7,265.4 Z M516.4,271.5 L515.4,268.9 L533.1,260.2 L534.1,262.9 Z M515.4,268.9 L514.1,266.3 L531.7,257.7 L533.1,260.2 Z M514.1,266.3 L512.5,264.1 L530.1,255.4 L531.7,257.7 Z M512.5,264.1 L510.7,262.3 L528.4,253.6 L530.1,255.4 Z M510.7,262.3 L506.5,258.7 L524.2,250.1 L528.4,253.6 Z M506.5,258.7 L504.5,253.9 L522.1,245.2 L524.2,250.1 Z M504.5,253.9 L505.1,244.3 L522.7,235.6 L522.1,245.2 Z M505.1,244.3 L506.0,243.1 L523.6,234.5 L522.7,235.6 Z M506.0,243.1 L506.8,241.9 L524.5,233.2 L523.6,234.5 Z M506.8,241.9 L507.5,240.5 L525.2,231.9 L524.5,233.2 Z M507.5,240.5 L508.2,239.1 L525.9,230.5 L525.2,231.9 Z M508.2,239.1 L508.8,237.6 L526.5,228.9 L525.9,230.5 Z M508.8,237.6 L509.4,236.0 L527.1,227.3 L526.5,228.9 Z M509.4,236.0 L509.9,234.3 L527.5,225.6 L527.1,227.3 Z M509.9,234.3 L510.2,232.5 L527.9,223.9 L527.5,225.6 Z M510.2,232.5 L510.6,230.7 L528.2,222.0 L527.9,223.9 Z M510.6,230.7 L510.8,228.8 L528.5,220.1 L528.2,222.0 Z M510.8,228.8 L511.0,226.8 L528.6,218.1 L528.5,220.1 Z M511.0,226.8 L511.1,224.7 L528.7,216.1 L528.6,218.1 Z M511.1,224.7 L511.1,224.4 L528.7,215.7 L528.7,216.1 Z M511.1,224.4 L510.2,223.7 L527.9,215.0 L528.7,215.7 Z M510.2,223.7 L510.1,219.3 L527.8,210.7 L527.9,215.0 Z M511.0,219.9 L510.9,218.2 L528.5,209.5 L528.6,211.2 Z M510.9,218.2 L510.6,215.9 L528.3,207.3 L528.5,209.5 Z M510.6,215.9 L510.3,213.6 L528.0,205.0 L528.3,207.3 Z M510.3,213.6 L510.0,211.3 L527.6,202.6 L528.0,205.0 Z M510.0,211.3 L509.5,208.9 L527.2,200.2 L527.6,202.6 Z M509.5,208.9 L509.3,208.0 L527.0,199.3 L527.2,200.2 Z M509.3,208.0 L508.5,207.7 L526.2,199.1 L527.0,199.3 Z M508.5,207.7 L507.3,202.8 L525.0,194.1 L526.2,199.1 Z M508.1,203.0 L507.7,201.6 L525.4,192.9 L525.8,194.3 Z M507.7,201.6 L507.0,199.1 L524.7,190.5 L525.4,192.9 Z M507.0,199.1 L506.2,196.7 L523.9,188.0 L524.7,190.5 Z M506.2,196.7 L505.3,194.2 L523.0,185.5 L523.9,188.0 Z M505.3,194.2 L504.4,191.7 L522.1,183.1 L523.0,185.5 Z M504.4,191.7 L503.8,190.4 L521.5,181.7 L522.1,183.1 Z M503.8,190.4 L503.1,190.5 L520.8,181.8 L521.5,181.7 Z M503.1,190.5 L501.0,185.6 L518.7,176.9 L520.8,181.8 Z M501.6,185.3 L501.2,184.4 L518.9,175.7 L519.3,176.6 Z M501.2,184.4 L500.0,182.0 L517.7,173.4 L518.9,175.7 Z M500.0,182.0 L498.8,179.6 L516.5,171.0 L517.7,173.4 Z M498.8,179.6 L497.5,177.3 L515.2,168.7 L516.5,171.0 Z M497.5,177.3 L496.2,175.0 L513.9,166.4 L515.2,168.7 Z M496.2,175.0 L495.2,173.4 L512.8,164.7 L513.9,166.4 Z M494.7,173.9 L491.8,169.5 L509.5,160.8 L512.4,165.2 Z M491.8,169.5 L492.2,168.8 L509.9,160.2 L509.5,160.8 Z M492.2,168.8 L491.9,168.4 L509.6,159.8 L509.9,160.2 Z M491.9,168.4 L490.4,166.4 L508.1,157.7 L509.6,159.8 Z M490.4,166.4 L488.9,164.3 L506.6,155.7 L508.1,157.7 Z M488.9,164.3 L487.4,162.4 L505.0,153.7 L506.6,155.7 Z M487.4,162.4 L485.8,160.5 L503.4,151.9 L505.0,153.7 Z M485.8,160.5 L484.9,159.5 L502.6,150.8 L503.4,151.9 Z M484.6,160.4 L481.3,156.9 L499.0,148.2 L502.3,151.7 Z M481.3,156.9 L481.5,155.9 L499.2,147.3 L499.0,148.2 Z M481.5,155.9 L480.9,155.3 L498.6,146.7 L499.2,147.3 Z M480.9,155.3 L479.2,153.8 L496.9,145.1 L498.6,146.7 Z M479.2,153.8 L477.6,152.3 L495.2,143.7 L496.9,145.1 Z M477.6,152.3 L475.9,151.0 L493.6,142.3 L495.2,143.7 Z M475.9,151.0 L474.2,149.7 L491.9,141.0 L493.6,142.3 Z M474.2,149.7 L473.6,149.2 L491.3,140.6 L491.9,141.0 Z M473.6,150.4 L470.2,148.2 L487.9,139.5 L491.3,141.7 Z M470.2,148.2 L470.1,147.0 L487.8,138.3 L487.9,139.5 Z M470.1,147.0 L469.2,146.5 L486.9,137.8 L487.8,138.3 Z M469.2,146.5 L467.6,145.6 L485.2,136.9 L486.9,137.8 Z M467.6,145.6 L465.9,144.8 L483.6,136.2 L485.2,136.9 Z M465.9,144.8 L464.3,144.2 L482.0,135.5 L483.6,136.2 Z M464.3,144.2 L462.7,143.7 L480.4,135.0 L482.0,135.5 Z M462.7,143.7 L462.4,143.6 L480.1,134.9 L480.4,135.0 Z M462.7,144.8 L459.6,144.1 L477.3,135.5 L480.4,136.2 Z M459.6,144.1 L459.2,142.8 L476.9,134.2 L477.3,135.5 Z M459.2,142.8 L458.1,142.7 L475.8,134.1 L476.9,134.2 Z M458.1,142.7 L456.6,142.6 L474.3,134.0 L475.8,134.1 Z M456.6,142.6 L455.2,142.7 L472.9,134.0 L474.3,134.0 Z M455.2,142.7 L453.8,142.8 L471.5,134.1 L472.9,134.0 Z M453.8,142.8 L452.4,143.0 L470.1,134.4 L471.5,134.1 Z M452.4,143.0 L451.1,143.4 L468.8,134.8 L470.1,134.4 Z M451.1,143.4 L449.9,143.9 L467.6,135.2 L468.8,134.8 Z M443.0,152.2 L442.3,151.1 L459.9,142.4 L460.7,143.5 Z M439.6,163.8 L438.7,163.0 L456.4,154.3 L457.2,155.1 Z " fill="#fff" stroke="#fff" stroke-width="0.6"/>
<path d="M532.3,271.9 L533.6,271.1 M533.6,271.1 L534.4,269.7 M534.4,269.7 L534.8,267.8 M534.8,267.8 L534.7,265.4 M534.7,265.4 L534.1,262.9 M534.1,262.9 L533.1,260.2 M533.1,260.2 L531.7,257.7 M531.7,257.7 L530.1,255.4 M530.1,255.4 L528.4,253.6 M528.4,253.6 L524.2,250.1 M524.2,250.1 L522.1,245.2 M522.1,245.2 L522.7,235.6 M522.7,235.6 L523.6,234.5 M523.6,234.5 L524.5,233.2 M524.5,233.2 L525.2,231.9 M525.2,231.9 L525.9,230.5 M525.9,230.5 L526.5,228.9 M526.5,228.9 L527.1,227.3 M527.1,227.3 L527.5,225.6 M527.5,225.6 L527.9,223.9 M527.9,223.9 L528.2,222.0 M528.2,222.0 L528.5,220.1 M528.5,220.1 L528.6,218.1 M528.6,218.1 L528.7,216.1 M528.7,216.1 L528.7,215.7 M528.7,215.7 L527.9,215.0 M527.9,215.0 L527.8,210.7 M528.6,211.2 L528.5,209.5 M528.5,209.5 L528.3,207.3 M528.3,207.3 L528.0,205.0 M528.0,205.0 L527.6,202.6 M527.6,202.6 L527.2,200.2 M527.2,200.2 L527.0,199.3 M527.0,199.3 L526.2,199.1 M526.2,199.1 L525.0,194.1 M525.8,194.3 L525.4,192.9 M525.4,192.9 L524.7,190.5 M524.7,190.5 L523.9,188.0 M523.9,188.0 L523.0,185.5 M523.0,185.5 L522.1,183.1 M522.1,183.1 L521.5,181.7 M521.5,181.7 L520.8,181.8 M520.8,181.8 L518.7,176.9 M519.3,176.6 L518.9,175.7 M518.9,175.7 L517.7,173.4 M517.7,173.4 L516.5,171.0 M516.5,171.0 L515.2,168.7 M515.2,168.7 L513.9,166.4 M513.9,166.4 L512.8,164.7 M512.4,165.2 L509.5,160.8 M509.5,160.8 L509.9,160.2 M509.9,160.2 L509.6,159.8 M509.6,159.8 L508.1,157.7 M508.1,157.7 L506.6,155.7 M506.6,155.7 L505.0,153.7 M505.0,153.7 L503.4,151.9 M503.4,151.9 L502.6,150.8 M502.3,151.7 L499.0,148.2 M499.0,148.2 L499.2,147.3 M499.2,147.3 L498.6,146.7 M498.6,146.7 L496.9,145.1 M496.9,145.1 L495.2,143.7 M495.2,143.7 L493.6,142.3 M493.6,142.3 L491.9,141.0 M491.9,141.0 L491.3,140.6 M491.3,141.7 L487.9,139.5 M487.9,139.5 L487.8,138.3 M487.8,138.3 L486.9,137.8 M486.9,137.8 L485.2,136.9 M485.2,136.9 L483.6,136.2 M483.6,136.2 L482.0,135.5 M482.0,135.5 L480.4,135.0 M480.4,135.0 L480.1,134.9 M480.4,136.2 L477.3,135.5 M477.3,135.5 L476.9,134.2 M476.9,134.2 L475.8,134.1 M475.8,134.1 L474.3,134.0 M474.3,134.0 L472.9,134.0 M472.9,134.0 L471.5,134.1 M471.5,134.1 L470.1,134.4 M470.1,134.4 L468.8,134.8 M468.8,134.8 L467.6,135.2 M460.7,143.5 L459.9,142.4 M457.2,155.1 L456.4,154.3 M514.7,280.6 L532.3,271.9 M510.7,262.3 L528.4,253.6 M506.5,258.7 L524.2,250.1 M511.1,224.4 L528.7,215.7 M510.2,223.7 L527.9,215.0 M510.1,219.3 L527.8,210.7 M511.0,219.9 L528.6,211.2 M509.3,208.0 L527.0,199.3 M508.5,207.7 L526.2,199.1 M507.3,202.8 L525.0,194.1 M508.1,203.0 L525.8,194.3 M503.8,190.4 L521.5,181.7 M503.1,190.5 L520.8,181.8 M501.0,185.6 L518.7,176.9 M501.6,185.3 L519.3,176.6 M495.2,173.4 L512.8,164.7 M494.7,173.9 L512.4,165.2 M491.8,169.5 L509.5,160.8 M492.2,168.8 L509.9,160.2 M484.9,159.5 L502.6,150.8 M484.6,160.4 L502.3,151.7 M481.3,156.9 L499.0,148.2 M481.5,155.9 L499.2,147.3 M473.6,149.2 L491.3,140.6 M473.6,150.4 L491.3,141.7 M470.2,148.2 L487.9,139.5 M470.1,147.0 L487.8,138.3 M462.4,143.6 L480.1,134.9 M462.7,144.8 L480.4,136.2 M459.6,144.1 L477.3,135.5 M459.2,142.8 L476.9,134.2 M449.9,143.9 L467.6,135.2 M443.0,152.2 L460.7,143.5 M442.3,151.1 L459.9,142.4 M439.6,163.8 L457.2,155.1 M438.7,163.0 L456.4,154.3" fill="none" stroke="#111" stroke-width="1.0" stroke-linecap="round"/>
<path d="M499.7,270.5 L509.6,278.8 L511.4,280.1 L513.1,280.7 L514.7,280.6 L515.9,279.8 L516.7,278.4 L517.1,276.4 L517.0,274.1 L516.4,271.5 L515.4,268.9 L514.1,266.3 L512.5,264.1 L510.7,262.3 L506.5,258.7 L504.5,253.9 L505.1,244.3 L506.0,243.1 L506.8,241.9 L507.5,240.5 L508.2,239.1 L508.8,237.6 L509.4,236.0 L509.9,234.3 L510.2,232.5 L510.6,230.7 L510.8,228.8 L511.0,226.8 L511.1,224.7 L511.1,224.4 L510.2,223.7 L510.1,219.3 L511.0,219.9 L510.9,218.2 L510.6,215.9 L510.3,213.6 L510.0,211.3 L509.5,208.9 L509.3,208.0 L508.5,207.7 L507.3,202.8 L508.1,203.0 L507.7,201.6 L507.0,199.1 L506.2,196.7 L505.3,194.2 L504.4,191.7 L503.8,190.4 L503.1,190.5 L501.0,185.6 L501.6,185.3 L501.2,184.4 L500.0,182.0 L498.8,179.6 L497.5,177.3 L496.2,175.0 L495.2,173.4 L494.7,173.9 L491.8,169.5 L492.2,168.8 L491.9,168.4 L490.4,166.4 L488.9,164.3 L487.4,162.4 L485.8,160.5 L484.9,159.5 L484.6,160.4 L481.3,156.9 L481.5,155.9 L480.9,155.3 L479.2,153.8 L477.6,152.3 L475.9,151.0 L474.2,149.7 L473.6,149.2 L473.6,150.4 L470.2,148.2 L470.1,147.0 L469.2,146.5 L467.6,145.6 L465.9,144.8 L464.3,144.2 L462.7,143.7 L462.4,143.6 L462.7,144.8 L459.6,144.1 L459.2,142.8 L458.1,142.7 L456.6,142.6 L455.2,142.7 L453.8,142.8 L452.4,143.0 L451.1,143.4 L449.9,143.9 L448.7,144.5 L447.6,145.2 L446.5,146.0 L445.4,146.9 L444.5,147.9 L444.0,148.5 L444.7,149.7 L443.0,152.2 L442.3,151.1 L442.0,151.6 L441.3,153.0 L440.7,154.5 L440.1,156.1 L439.6,157.8 L439.3,159.1 L440.2,160.0 L439.6,163.8 L438.7,163.0 L438.7,163.3 L438.5,165.3 L438.4,167.3 L438.4,169.4 L438.4,171.6 L438.6,173.8 L438.8,176.1 L439.1,178.4 L439.4,180.8 L439.9,183.1 L440.4,185.5 L441.0,188.0 L441.6,190.4 L441.0,200.1 L440.7,213.7 L442.8,217.7 L495.1,257.0 Z" fill="#fff" stroke="#111" stroke-width="1.0" stroke-linejoin="round"/>
<path d="M484.2,158.8 L482.2,156.6 L499.9,148.0 L501.9,150.1 Z" fill="#6a6a6a" stroke="#222" stroke-width="0.5"/>
<path d="M472.9,148.8 L470.8,147.4 L488.5,138.7 L490.6,140.1 Z" fill="#6a6a6a" stroke="#222" stroke-width="0.5"/>
<path d="M494.6,172.4 L492.8,169.7 L510.5,161.1 L512.3,163.8 Z" fill="#6a6a6a" stroke="#222" stroke-width="0.5"/>
<path d="M461.8,143.4 L459.8,143.0 L477.5,134.3 L479.4,134.7 Z" fill="#6a6a6a" stroke="#222" stroke-width="0.5"/>
<path d="M503.4,189.3 L502.1,186.3 L519.8,177.7 L521.1,180.7 Z" fill="#6a6a6a" stroke="#222" stroke-width="0.5"/>
<path d="M509.1,207.0 L508.4,204.0 L526.1,195.3 L526.8,198.3 Z" fill="#6a6a6a" stroke="#222" stroke-width="0.5"/>
<path d="M511.1,223.5 L511.0,220.8 L528.7,212.1 L528.7,214.8 Z" fill="#6a6a6a" stroke="#222" stroke-width="0.5"/>
<path d="M522.5,258.8 L522.8,259.0 L522.9,259.2 L523.1,259.4 L523.2,259.6 L523.3,259.9 L523.4,260.1 L523.5,260.3 L523.5,260.6 L523.4,260.8 L523.4,261.0 L523.3,261.3 L523.2,261.5 L523.0,261.7 L522.9,261.9 L522.7,262.1 L522.4,262.3 L522.2,262.4 L521.9,262.6 L521.6,262.7 L521.3,262.8 L521.0,262.9 L520.7,263.0 L520.3,263.0 L519.9,263.1 L519.6,263.1 L519.2,263.1 L518.9,263.1 L518.5,263.0 L518.2,262.9 L517.8,262.8 L517.5,262.7 L517.2,262.6 L516.9,262.5 L516.6,262.3 L516.3,262.1 L516.1,262.0 L515.9,261.8 L515.7,261.5 L515.5,261.3 L515.4,261.1 L515.3,260.9 L515.2,260.6 L515.2,260.4 L515.2,260.2 L515.2,259.9 L515.2,259.7 L515.3,259.5 L515.4,259.3 L515.6,259.0 L515.8,258.8 L516.0,258.6 L516.2,258.5 L516.4,258.3 L516.7,258.2 L517.0,258.0 L517.3,257.9 L517.6,257.8 L518.0,257.8 L518.3,257.7 L518.7,257.7 L519.0,257.7 L519.4,257.7 L519.8,257.7 L520.1,257.7 L520.5,257.8 L520.8,257.9 L521.1,258.0 L521.5,258.1 L521.8,258.3 L522.0,258.4 L522.3,258.6 Z" fill="#fff" stroke="#111" stroke-width="1.0" stroke-linejoin="round"/>
<path d="M498.7,250.3 L498.9,250.6 L499.2,250.9 L499.5,251.2 L499.8,251.5 L500.0,251.9 L500.3,252.2 L500.5,252.6 L500.7,253.0 L500.9,253.4 L501.1,253.9 L501.2,254.3 L501.4,254.7 L501.5,255.1 L501.6,255.6 L501.6,256.0 L501.7,256.3 L501.7,256.7 L501.7,257.1 L501.7,257.4 L501.6,257.7 L501.5,258.0 L501.4,258.3 L501.3,258.5 L501.1,258.7 L500.9,258.9 L500.8,259.0 L500.5,259.1 L500.3,259.1 L500.1,259.2 L499.8,259.1 L499.6,259.1 L499.3,259.0 L499.0,258.9 L498.7,258.7 L498.4,258.5 L498.1,258.3 L497.9,258.0 L497.6,257.7 L497.3,257.4 L497.0,257.1 L496.8,256.7 L496.5,256.3 L496.3,255.9 L496.1,255.5 L495.9,255.1 L495.7,254.7 L495.5,254.3 L495.4,253.9 L495.3,253.4 L495.2,253.0 L495.1,252.6 L495.1,252.2 L495.1,251.9 L495.1,251.5 L495.1,251.2 L495.2,250.8 L495.3,250.6 L495.4,250.3 L495.5,250.1 L495.7,249.9 L495.8,249.7 L496.0,249.6 L496.2,249.5 L496.5,249.4 L496.7,249.4 L497.0,249.4 L497.2,249.5 L497.5,249.6 L497.8,249.7 L498.1,249.9 L498.4,250.1 Z" fill="#fff" stroke="#111" stroke-width="1.0" stroke-linejoin="round"/>
<ellipse cx="443.4" cy="207.5" rx="3.2" ry="4.8" transform="rotate(-15 443.4 207.5)" fill="#fff" stroke="#111" stroke-width="1"/>
<path d="M477.3,156.3 L480.2,158.9 L483.0,161.8 L485.7,164.9 L488.4,168.3 L491.0,171.9 L493.4,175.6 L495.7,179.5 L497.9,183.6 L499.8,187.7 L501.6,192.0 L503.2,196.2 L504.5,200.4 L505.7,204.6 L506.6,208.8 L507.2,212.8 L507.6,216.8 L507.8,220.5 L507.7,224.1 L507.3,227.5 L506.7,230.6 L505.9,233.5 L504.8,236.0 L503.5,238.3 L502.0,240.3 L500.2,241.9 L498.3,243.2 L496.2,244.1 L493.9,244.6 L491.5,244.8 L489.0,244.6 L486.3,244.1 L483.6,243.2 L480.8,241.9 L477.9,240.2 L475.0,238.3 L472.1,236.0 L469.3,233.4 L466.5,230.5 L463.7,227.4 L461.0,224.0 L458.5,220.5 L456.0,216.7 L453.7,212.8 L451.6,208.7 L449.6,204.6 L447.8,200.4 L446.3,196.1 L444.9,191.9 L443.8,187.7 L442.9,183.5 L442.2,179.5 L441.8,175.5 L441.7,171.8 L441.8,168.2 L442.1,164.8 L442.7,161.7 L443.6,158.8 L444.6,156.3 L446.0,154.0 L447.5,152.0 L449.2,150.4 L451.1,149.1 L453.3,148.2 L455.5,147.7 L457.9,147.5 L460.5,147.7 L463.1,148.2 L465.9,149.2 L468.7,150.4 L471.5,152.1 L474.4,154.0 Z" fill="none" stroke="#111" stroke-width="1.0" stroke-linejoin="round"/>
<path d="M477.5,153.8 L480.5,156.5 L483.5,159.6 L486.4,162.9 L489.3,166.5 L492.0,170.3 L494.6,174.3 L497.1,178.5 L499.3,182.8 L501.4,187.2 L503.3,191.7 L505.0,196.2 L506.4,200.7 L507.6,205.2 L508.6,209.6 L509.3,213.9 L509.7,218.1 L509.9,222.1 L509.8,225.9 L509.4,229.4 L508.7,232.8 L507.8,235.8 L506.7,238.6 L505.3,241.0 L503.7,243.1 L501.8,244.8 L499.8,246.1 L497.5,247.1 L495.1,247.7 L492.6,247.9 L489.9,247.7 L487.0,247.1 L484.1,246.1 L481.1,244.8 L478.1,243.0 L475.0,240.9 L472.0,238.5 L468.9,235.8 L465.9,232.7 L463.0,229.4 L460.2,225.8 L457.4,222.0 L454.8,218.0 L452.4,213.8 L450.1,209.5 L448.0,205.1 L446.1,200.6 L444.5,196.1 L443.0,191.6 L441.8,187.1 L440.9,182.7 L440.2,178.4 L439.8,174.2 L439.6,170.2 L439.7,166.4 L440.1,162.9 L440.7,159.5 L441.6,156.5 L442.7,153.7 L444.1,151.3 L445.8,149.2 L447.6,147.5 L449.7,146.2 L451.9,145.2 L454.3,144.6 L456.9,144.4 L459.6,144.6 L462.4,145.2 L465.3,146.2 L468.3,147.5 L471.3,149.3 L474.4,151.4 Z" fill="none" stroke="#111" stroke-width="0.9" stroke-linejoin="round"/>
<path d="M442.1,191.8 L440.8,187.1 L439.8,182.6 L439.1,178.1 L438.6,173.8 L438.5,169.6 L438.6,165.7 L438.9,162.0 L439.6,158.5 L440.5,155.3 L441.7,152.5 L443.1,150.0 L444.8,147.8 L446.7,146.0 L448.8,144.6 L451.1,143.6 L453.6,143.0 L456.3,142.7 L459.1,142.9 L462.0,143.6 L465.0,144.6 L468.1,146.0 L471.2,147.8 L474.4,149.9 L477.6,152.4 L480.7,155.3 L483.8,158.4 L486.8,161.9 L489.8,165.6 L492.6,169.5 L495.3,173.7 L497.8,178.0 L500.2,182.5 L502.3,187.0 L504.3,191.7 L506.0,196.3 L507.5,201.0 L508.7,205.6 L509.7,210.2 L510.4,214.6 L510.8,218.9 L511.0,223.1 L510.9,227.0 L510.5,230.7 L509.8,234.1 L508.9,237.3 L507.7,240.1 L506.2,242.6 L504.5,244.7" fill="none" stroke="#111" stroke-width="1.5" stroke-linejoin="round"/>
<path d="M444.4,178.3 C445.5,186 447.6,194 449,198 C451,203 453.9,208.1 457,212 C459,214.5 461.7,217.6 463,218.5" fill="none" stroke="#111" stroke-width="1.0" stroke-linejoin="round" stroke-linecap="round"/>
<path d="M443.6,171.2 L460.1,180.6 M443.8,173.8 L459.4,183.2" fill="none" stroke="#111" stroke-width="1.0" stroke-linejoin="round" stroke-linecap="round"/>
<path d="M486.9,209.7 L503.2,220.9 M486.2,212.3 L502.5,223.5" fill="none" stroke="#111" stroke-width="1.0" stroke-linejoin="round" stroke-linecap="round"/>
<path d="M458.6,179.9 C462,176 469,173.2 475.9,173.6 C481,174 486,180 488.4,189.3 C490.5,197 490.5,207 488.4,212.9 C486.5,217 479,219 472.7,216 C467,213.5 461.5,207 460.1,200.3 C458.8,193 457.8,184.5 458.6,179.9 Z" fill="#fff" stroke="#111" stroke-width="1.0" stroke-linejoin="round" stroke-linecap="round"/>
<path d="M464.1,187.7 C466,184.5 469,183.5 471.1,183.8 C475,183.5 480,185 482.9,195.6 C484,201 483,206 477.4,210.5 C474,212 470,211 467,208 C464.5,205 463,199 463.3,194 C463.4,191 463.6,189 464.1,187.7 Z" fill="#fff" stroke="#111" stroke-width="1.0" stroke-linejoin="round" stroke-linecap="round"/>
<path d="M466,189 C468,186 470.5,185.8 472,185.8 C475.5,185.8 479,188 480.8,196 C481.6,201 480.5,205 477,208.5 C474,210 471,209 469,207 C466.5,204 465,199 465.2,194.5 C465.3,192 465.5,190.2 466,189 Z" fill="none" stroke="#111" stroke-width="1.0" stroke-linejoin="round" stroke-linecap="round"/>
<path d="M472.7,200.3 L480.6,197.9 M478.5,203.5 L481,205.5" fill="none" stroke="#111" stroke-width="0.9" stroke-linejoin="round" stroke-linecap="round"/>
<path d="M472,169 L474.5,166 L477,168.5 L479.5,166.5 L481.5,170.5 L480,173 L482,177 L479.5,181 L477,179 L474.5,180.5 L473.5,176.5 L471.5,173.5 Z" fill="#777" stroke="#111" stroke-width="0.7" stroke-linejoin="round" stroke-linecap="round"/>
<path d="M474,169.5 L480,179.5 M479,168.5 L475,179" fill="none" stroke="#111" stroke-width="0.9" stroke-linejoin="round" stroke-linecap="round"/>
<path d="M463.5,217.5 C463,221 462,225 462.5,228 C463.5,231 466,232.5 468,231.5 C469,229 468.5,226 469,223.5 C470.5,221.5 473,222 474.5,224.5 C476,227.5 476.5,231 477.4,234.9" fill="none" stroke="#111" stroke-width="1.0" stroke-linejoin="round" stroke-linecap="round"/>
<path d="M465,219 C464.8,222 464.5,226 465,228.5 M471,222.5 C473,223.5 474.5,226 475.2,229" fill="none" stroke="#111" stroke-width="0.8" stroke-linejoin="round" stroke-linecap="round"/>
<path d="M477.4,234.9 C481,237 484,237.5 486.9,237.2 C490,237 493,236.5 494.7,235.6 C497.5,234 499.5,232 501,230.1" fill="none" stroke="#111" stroke-width="1.0" stroke-linejoin="round" stroke-linecap="round"/>
<path d="M478.5,232.5 C482,234.7 486,235 489,234.7 C493,234.2 496.5,232.5 499,229.5" fill="none" stroke="#111" stroke-width="0.8" stroke-linejoin="round" stroke-linecap="round"/>
<line x1="597" y1="39.5" x2="684" y2="39.5" stroke="#111" stroke-width="1.0" />
<line x1="589.5" y1="245.5" x2="684" y2="245.5" stroke="#111" stroke-width="1.0" />
<line x1="680.5" y1="39.4" x2="680.5" y2="245.3" stroke="#111" stroke-width="1.0" />
<path d="M680,39.4 L678,48.4 L682,48.4 Z" fill="#111"/>
<path d="M680,245.3 L682,236.3 L678,236.3 Z" fill="#111"/>
<text transform="translate(675.9,152.3) rotate(-90)" x="0" y="0" font-family='"Liberation Sans", sans-serif' font-size="20.5" font-weight="normal" fill="#000" textLength="19" lengthAdjust="spacingAndGlyphs" stroke="#fff" stroke-width="0.4">65</text>
<line x1="593.9" y1="230.2" x2="615.1" y2="271.1" stroke="#111" stroke-width="1.0" />
<line x1="523.9" y1="266.4" x2="545.1" y2="307.2" stroke="#111" stroke-width="1.0" />
<line x1="544.4" y1="303.3" x2="611.9" y2="269.5" stroke="#111" stroke-width="1.0" />
<path d="M544.4,303.3 L553.34,301.06 L551.55,297.48 Z" fill="#111"/>
<path d="M611.9,269.5 L602.96,271.74 L604.75,275.32 Z" fill="#111"/>
<text transform="translate(565.5,286.8) rotate(-26.6)" font-family='"Liberation Sans", sans-serif' font-size="17.5" fill="#000" stroke="#fff" stroke-width="0.4" textLength="20.5" lengthAdjust="spacingAndGlyphs">34</text>
</svg></body></html>
